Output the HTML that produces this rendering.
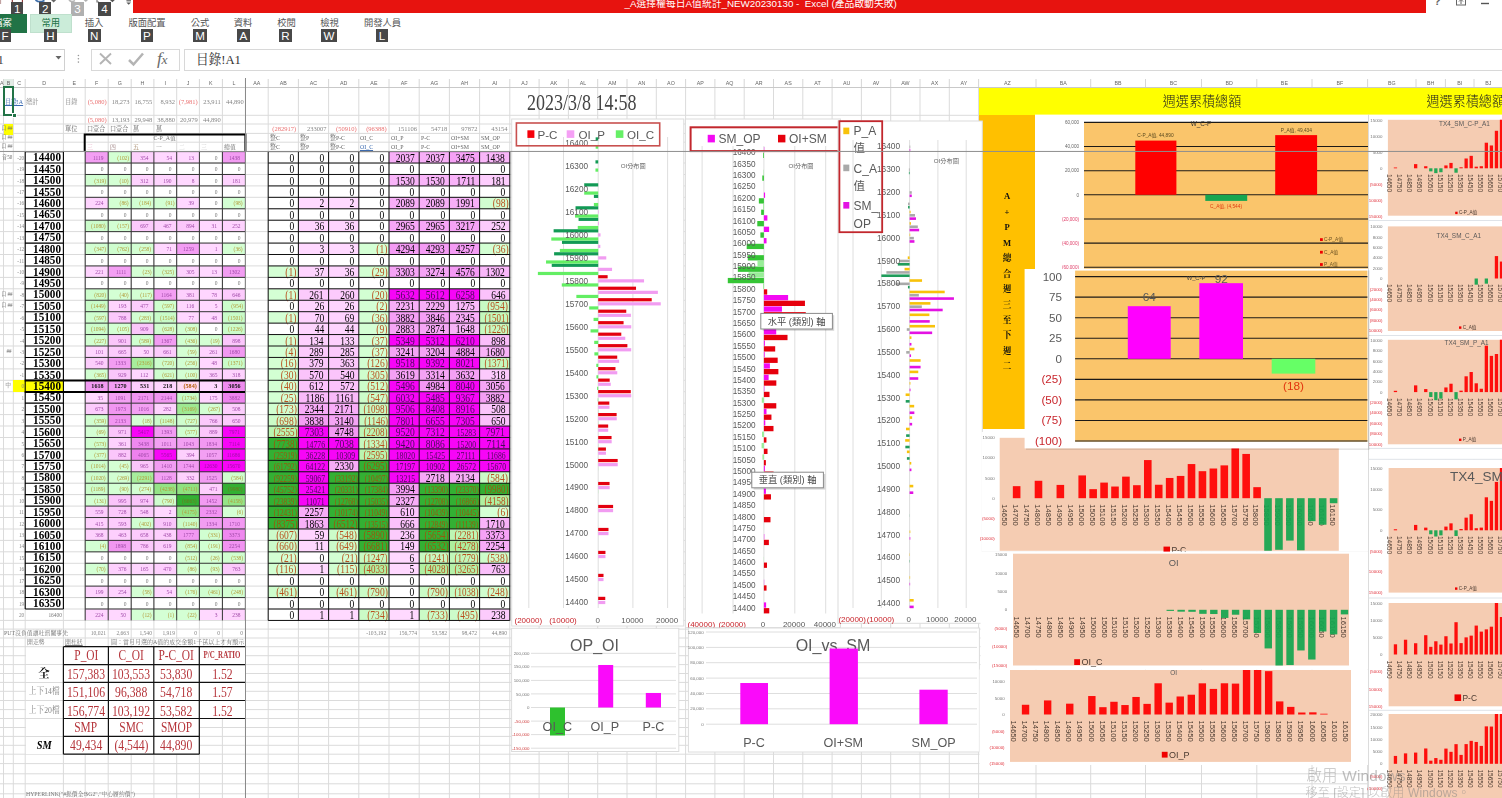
<!DOCTYPE html><html lang="zh-Hant"><head><meta charset="utf-8"><title>Excel</title><style>
html,body{margin:0;padding:0}
body{width:1502px;height:798px;overflow:hidden;position:relative;background:#fff;font-family:'Liberation Sans','Noto Sans CJK TC',sans-serif}
.abs{position:absolute}
.c{position:absolute;white-space:nowrap;box-sizing:border-box;overflow:visible}
.c span{display:inline-block}
.sf{font-family:'Liberation Serif','Noto Serif CJK SC','Noto Sans CJK TC',serif}
.ss{font-family:'Liberation Sans','Noto Sans CJK TC',sans-serif}
.ar{text-align:right}.ar span{transform-origin:right center;margin-left:-40px}
.al{text-align:left}.al span{transform-origin:left center}
.ac{text-align:center}.ac span{transform-origin:center center;margin:0 -40px}
.r{position:absolute}
svg text{font-family:'Liberation Sans','Noto Sans CJK TC',sans-serif}

.kt{position:absolute;color:#fff;text-align:center;font-family:'Liberation Sans','Noto Sans CJK TC',sans-serif;font-weight:normal;overflow:hidden}
.tab{position:absolute;top:16.5px;text-align:center;font:9.3px/13px 'Liberation Sans','Noto Sans CJK TC',sans-serif;white-space:nowrap}
</style></head><body>
<div id="sheet" class="abs" style="left:0;top:0;width:1502px;height:798px;overflow:hidden;will-change:transform">
<svg class="abs" style="left:0;top:0" width="1502" height="798" viewBox="0 0 1502 798">
<path d="M3.5 87.5V798 M13.3 87.5V798 M25.2 87.5V798 M63.4 87.5V798 M85.2 87.5V798 M108.2 87.5V798 M131.2 87.5V798 M153.9 87.5V798 M176.7 87.5V798 M199.4 87.5V798 M222.4 87.5V798 M245.4 87.5V798 M268.2 87.5V798 M298.4 87.5V798 M328.6 87.5V798 M358.8 87.5V798 M389.0 87.5V798 M419.2 87.5V798 M449.4 87.5V798 M479.6 87.5V798 M509.8 87.5V798 M539.1 87.5V798 M568.4 87.5V798 M597.7 87.5V798 M627.0 87.5V798 M656.3 87.5V798 M685.6 87.5V798 M714.9 87.5V798 M744.2 87.5V798 M773.5 87.5V798 M802.8 87.5V798 M832.1 87.5V798 M861.4 87.5V798 M890.7 87.5V798 M920.0 87.5V798 M949.3 87.5V798 M978.6 87.5V798 M1036 87.5V798 M1090.7 87.5V798 M1145.5 87.5V798 M1201.5 87.5V798 M1256.8 87.5V798 M1312 87.5V798 M1367.6 87.5V798 M1416 87.5V798 M1445.4 87.5V798 M1474 87.5V798 M1502.5 87.5V798 M0 87.5H1502 M0 115.3H1502 M0 124.0H1502 M0 133.4H1502 M0 142.2H1502 M0 151.6H1502 M0 163.0H1502 M0 174.5H1502 M0 185.9H1502 M0 197.3H1502 M0 208.8H1502 M0 220.2H1502 M0 231.6H1502 M0 243.1H1502 M0 254.5H1502 M0 265.9H1502 M0 277.4H1502 M0 288.8H1502 M0 300.3H1502 M0 311.7H1502 M0 323.1H1502 M0 334.6H1502 M0 346.0H1502 M0 357.4H1502 M0 368.9H1502 M0 380.3H1502 M0 391.7H1502 M0 403.2H1502 M0 414.6H1502 M0 426.0H1502 M0 437.5H1502 M0 448.9H1502 M0 460.3H1502 M0 471.8H1502 M0 483.2H1502 M0 494.6H1502 M0 506.1H1502 M0 517.5H1502 M0 529.0H1502 M0 540.4H1502 M0 551.8H1502 M0 563.3H1502 M0 574.7H1502 M0 586.1H1502 M0 597.6H1502 M0 609.0H1502 M0 620.4H1502 M0 629.1H1502 M0 638.0H1502 M0 646.7H1502 M0 655.7H1502 M0 664.6H1502 M0 673.5H1502 M0 682.4H1502 M0 691.3H1502 M0 700.5H1502 M0 709.6H1502 M0 718.5H1502 M0 727.5H1502 M0 736.4H1502 M0 745.3H1502 M0 754.2H1502 M0 763.6H1502 M0 773.8H1502 M0 783.8H1502 M0 793.8H1502 M0 804H1502" stroke="#dbdbdb" stroke-width="1" fill="none"/>
<path d="M3.5 79V87.5 M13.3 79V87.5 M25.2 79V87.5 M63.4 79V87.5 M85.2 79V87.5 M108.2 79V87.5 M131.2 79V87.5 M153.9 79V87.5 M176.7 79V87.5 M199.4 79V87.5 M222.4 79V87.5 M245.4 79V87.5 M268.2 79V87.5 M298.4 79V87.5 M328.6 79V87.5 M358.8 79V87.5 M389.0 79V87.5 M419.2 79V87.5 M449.4 79V87.5 M479.6 79V87.5 M509.8 79V87.5 M539.1 79V87.5 M568.4 79V87.5 M597.7 79V87.5 M627.0 79V87.5 M656.3 79V87.5 M685.6 79V87.5 M714.9 79V87.5 M744.2 79V87.5 M773.5 79V87.5 M802.8 79V87.5 M832.1 79V87.5 M861.4 79V87.5 M890.7 79V87.5 M920.0 79V87.5 M949.3 79V87.5 M978.6 79V87.5 M1036 79V87.5 M1090.7 79V87.5 M1145.5 79V87.5 M1201.5 79V87.5 M1256.8 79V87.5 M1312 79V87.5 M1367.6 79V87.5 M1416 79V87.5 M1445.4 79V87.5 M1474 79V87.5 M1502.5 79V87.5" stroke="#d6d6d6" stroke-width="1" fill="none"/>
<path d="M0 87.5H1502" stroke="#c9c9c9" stroke-width="1"/>
</svg>
<div class="c" style="left:0.0px;top:78.5px;width:3.5px;height:9px;line-height:9px;text-align:center;font-size:5.3px;color:#666;font-family:'Liberation Sans','Noto Sans CJK TC',sans-serif">A</div>
<div class="r" style="left:3.5px;top:78.5px;width:9.8px;height:8.5px;background:#e3ece6;border-bottom:1.5px solid #217346;box-sizing:border-box"></div>
<div class="c" style="left:3.5px;top:78.5px;width:9.8px;height:9px;line-height:9px;text-align:center;font-size:5.3px;color:#666;font-family:'Liberation Sans','Noto Sans CJK TC',sans-serif">B</div>
<div class="c" style="left:13.3px;top:78.5px;width:11.9px;height:9px;line-height:9px;text-align:center;font-size:5.3px;color:#666;font-family:'Liberation Sans','Noto Sans CJK TC',sans-serif">C</div>
<div class="c" style="left:25.2px;top:78.5px;width:38.2px;height:9px;line-height:9px;text-align:center;font-size:5.3px;color:#666;font-family:'Liberation Sans','Noto Sans CJK TC',sans-serif">D</div>
<div class="c" style="left:63.4px;top:78.5px;width:21.8px;height:9px;line-height:9px;text-align:center;font-size:5.3px;color:#666;font-family:'Liberation Sans','Noto Sans CJK TC',sans-serif">E</div>
<div class="c" style="left:85.2px;top:78.5px;width:23.0px;height:9px;line-height:9px;text-align:center;font-size:5.3px;color:#666;font-family:'Liberation Sans','Noto Sans CJK TC',sans-serif">F</div>
<div class="c" style="left:108.2px;top:78.5px;width:23.0px;height:9px;line-height:9px;text-align:center;font-size:5.3px;color:#666;font-family:'Liberation Sans','Noto Sans CJK TC',sans-serif">G</div>
<div class="c" style="left:131.2px;top:78.5px;width:22.7px;height:9px;line-height:9px;text-align:center;font-size:5.3px;color:#666;font-family:'Liberation Sans','Noto Sans CJK TC',sans-serif">H</div>
<div class="c" style="left:153.9px;top:78.5px;width:22.8px;height:9px;line-height:9px;text-align:center;font-size:5.3px;color:#666;font-family:'Liberation Sans','Noto Sans CJK TC',sans-serif">I</div>
<div class="c" style="left:176.7px;top:78.5px;width:22.7px;height:9px;line-height:9px;text-align:center;font-size:5.3px;color:#666;font-family:'Liberation Sans','Noto Sans CJK TC',sans-serif">J</div>
<div class="c" style="left:199.4px;top:78.5px;width:23.0px;height:9px;line-height:9px;text-align:center;font-size:5.3px;color:#666;font-family:'Liberation Sans','Noto Sans CJK TC',sans-serif">K</div>
<div class="c" style="left:222.4px;top:78.5px;width:23.0px;height:9px;line-height:9px;text-align:center;font-size:5.3px;color:#666;font-family:'Liberation Sans','Noto Sans CJK TC',sans-serif">L</div>
<div class="c" style="left:245.4px;top:78.5px;width:22.8px;height:9px;line-height:9px;text-align:center;font-size:5.3px;color:#666;font-family:'Liberation Sans','Noto Sans CJK TC',sans-serif">AA</div>
<div class="c" style="left:268.2px;top:78.5px;width:30.2px;height:9px;line-height:9px;text-align:center;font-size:5.3px;color:#666;font-family:'Liberation Sans','Noto Sans CJK TC',sans-serif">AB</div>
<div class="c" style="left:298.4px;top:78.5px;width:30.2px;height:9px;line-height:9px;text-align:center;font-size:5.3px;color:#666;font-family:'Liberation Sans','Noto Sans CJK TC',sans-serif">AC</div>
<div class="c" style="left:328.6px;top:78.5px;width:30.2px;height:9px;line-height:9px;text-align:center;font-size:5.3px;color:#666;font-family:'Liberation Sans','Noto Sans CJK TC',sans-serif">AD</div>
<div class="c" style="left:358.8px;top:78.5px;width:30.2px;height:9px;line-height:9px;text-align:center;font-size:5.3px;color:#666;font-family:'Liberation Sans','Noto Sans CJK TC',sans-serif">AE</div>
<div class="c" style="left:389.0px;top:78.5px;width:30.2px;height:9px;line-height:9px;text-align:center;font-size:5.3px;color:#666;font-family:'Liberation Sans','Noto Sans CJK TC',sans-serif">AF</div>
<div class="c" style="left:419.2px;top:78.5px;width:30.2px;height:9px;line-height:9px;text-align:center;font-size:5.3px;color:#666;font-family:'Liberation Sans','Noto Sans CJK TC',sans-serif">AG</div>
<div class="c" style="left:449.4px;top:78.5px;width:30.2px;height:9px;line-height:9px;text-align:center;font-size:5.3px;color:#666;font-family:'Liberation Sans','Noto Sans CJK TC',sans-serif">AH</div>
<div class="c" style="left:479.6px;top:78.5px;width:30.2px;height:9px;line-height:9px;text-align:center;font-size:5.3px;color:#666;font-family:'Liberation Sans','Noto Sans CJK TC',sans-serif">AI</div>
<div class="c" style="left:509.8px;top:78.5px;width:29.3px;height:9px;line-height:9px;text-align:center;font-size:5.3px;color:#666;font-family:'Liberation Sans','Noto Sans CJK TC',sans-serif">AJ</div>
<div class="c" style="left:539.1px;top:78.5px;width:29.3px;height:9px;line-height:9px;text-align:center;font-size:5.3px;color:#666;font-family:'Liberation Sans','Noto Sans CJK TC',sans-serif">AK</div>
<div class="c" style="left:568.4px;top:78.5px;width:29.3px;height:9px;line-height:9px;text-align:center;font-size:5.3px;color:#666;font-family:'Liberation Sans','Noto Sans CJK TC',sans-serif">AL</div>
<div class="c" style="left:597.7px;top:78.5px;width:29.3px;height:9px;line-height:9px;text-align:center;font-size:5.3px;color:#666;font-family:'Liberation Sans','Noto Sans CJK TC',sans-serif">AM</div>
<div class="c" style="left:627.0px;top:78.5px;width:29.3px;height:9px;line-height:9px;text-align:center;font-size:5.3px;color:#666;font-family:'Liberation Sans','Noto Sans CJK TC',sans-serif">AN</div>
<div class="c" style="left:656.3px;top:78.5px;width:29.3px;height:9px;line-height:9px;text-align:center;font-size:5.3px;color:#666;font-family:'Liberation Sans','Noto Sans CJK TC',sans-serif">AO</div>
<div class="c" style="left:685.6px;top:78.5px;width:29.3px;height:9px;line-height:9px;text-align:center;font-size:5.3px;color:#666;font-family:'Liberation Sans','Noto Sans CJK TC',sans-serif">AP</div>
<div class="c" style="left:714.9px;top:78.5px;width:29.3px;height:9px;line-height:9px;text-align:center;font-size:5.3px;color:#666;font-family:'Liberation Sans','Noto Sans CJK TC',sans-serif">AQ</div>
<div class="c" style="left:744.2px;top:78.5px;width:29.3px;height:9px;line-height:9px;text-align:center;font-size:5.3px;color:#666;font-family:'Liberation Sans','Noto Sans CJK TC',sans-serif">AR</div>
<div class="c" style="left:773.5px;top:78.5px;width:29.3px;height:9px;line-height:9px;text-align:center;font-size:5.3px;color:#666;font-family:'Liberation Sans','Noto Sans CJK TC',sans-serif">AS</div>
<div class="c" style="left:802.8px;top:78.5px;width:29.3px;height:9px;line-height:9px;text-align:center;font-size:5.3px;color:#666;font-family:'Liberation Sans','Noto Sans CJK TC',sans-serif">AT</div>
<div class="c" style="left:832.1px;top:78.5px;width:29.3px;height:9px;line-height:9px;text-align:center;font-size:5.3px;color:#666;font-family:'Liberation Sans','Noto Sans CJK TC',sans-serif">AU</div>
<div class="c" style="left:861.4px;top:78.5px;width:29.3px;height:9px;line-height:9px;text-align:center;font-size:5.3px;color:#666;font-family:'Liberation Sans','Noto Sans CJK TC',sans-serif">AV</div>
<div class="c" style="left:890.7px;top:78.5px;width:29.3px;height:9px;line-height:9px;text-align:center;font-size:5.3px;color:#666;font-family:'Liberation Sans','Noto Sans CJK TC',sans-serif">AW</div>
<div class="c" style="left:920.0px;top:78.5px;width:29.3px;height:9px;line-height:9px;text-align:center;font-size:5.3px;color:#666;font-family:'Liberation Sans','Noto Sans CJK TC',sans-serif">AX</div>
<div class="c" style="left:949.3px;top:78.5px;width:29.3px;height:9px;line-height:9px;text-align:center;font-size:5.3px;color:#666;font-family:'Liberation Sans','Noto Sans CJK TC',sans-serif">AY</div>
<div class="c" style="left:978.6px;top:78.5px;width:57.4px;height:9px;line-height:9px;text-align:center;font-size:5.3px;color:#666;font-family:'Liberation Sans','Noto Sans CJK TC',sans-serif">AZ</div>
<div class="c" style="left:1036.0px;top:78.5px;width:54.7px;height:9px;line-height:9px;text-align:center;font-size:5.3px;color:#666;font-family:'Liberation Sans','Noto Sans CJK TC',sans-serif">BA</div>
<div class="c" style="left:1090.7px;top:78.5px;width:54.8px;height:9px;line-height:9px;text-align:center;font-size:5.3px;color:#666;font-family:'Liberation Sans','Noto Sans CJK TC',sans-serif">BB</div>
<div class="c" style="left:1145.5px;top:78.5px;width:56.0px;height:9px;line-height:9px;text-align:center;font-size:5.3px;color:#666;font-family:'Liberation Sans','Noto Sans CJK TC',sans-serif">BC</div>
<div class="c" style="left:1201.5px;top:78.5px;width:55.3px;height:9px;line-height:9px;text-align:center;font-size:5.3px;color:#666;font-family:'Liberation Sans','Noto Sans CJK TC',sans-serif">BD</div>
<div class="c" style="left:1256.8px;top:78.5px;width:55.2px;height:9px;line-height:9px;text-align:center;font-size:5.3px;color:#666;font-family:'Liberation Sans','Noto Sans CJK TC',sans-serif">BE</div>
<div class="c" style="left:1312.0px;top:78.5px;width:55.6px;height:9px;line-height:9px;text-align:center;font-size:5.3px;color:#666;font-family:'Liberation Sans','Noto Sans CJK TC',sans-serif">BF</div>
<div class="c" style="left:1367.6px;top:78.5px;width:48.4px;height:9px;line-height:9px;text-align:center;font-size:5.3px;color:#666;font-family:'Liberation Sans','Noto Sans CJK TC',sans-serif">BG</div>
<div class="c" style="left:1416.0px;top:78.5px;width:29.4px;height:9px;line-height:9px;text-align:center;font-size:5.3px;color:#666;font-family:'Liberation Sans','Noto Sans CJK TC',sans-serif">BH</div>
<div class="c" style="left:1445.4px;top:78.5px;width:28.6px;height:9px;line-height:9px;text-align:center;font-size:5.3px;color:#666;font-family:'Liberation Sans','Noto Sans CJK TC',sans-serif">BI</div>
<div class="c" style="left:1474.0px;top:78.5px;width:28.5px;height:9px;line-height:9px;text-align:center;font-size:5.3px;color:#666;font-family:'Liberation Sans','Noto Sans CJK TC',sans-serif">BJ</div>
<div class="r" style="left:978.60px;top:87.80px;width:524.00px;height:26.80px;background:#ffff00;"></div>
<div class="c" style="left:1140px;top:88px;width:124px;height:27px;line-height:27px;text-align:center;font-size:13.1px;color:#222;font-weight:300;font-family:'Liberation Sans','Noto Sans CJK TC',sans-serif">週選累積總額</div>
<div class="c" style="left:1426.5px;top:88px;width:100px;height:27px;line-height:27px;text-align:left;font-size:13.1px;color:#222;font-weight:300;font-family:'Liberation Sans','Noto Sans CJK TC',sans-serif">週選累積總額</div>
<div class="r" style="left:979.40px;top:114.60px;width:55.60px;height:314.00px;background:#ffc000;"></div>
<div class="c" style="left:997px;top:189.4px;width:20px;height:14px;line-height:14px;text-align:center;font-size:8.6px;font-weight:bold;color:#111;font-family:'Liberation Serif','Noto Serif CJK SC','Noto Sans CJK TC',serif">A</div>
<div class="c" style="left:997px;top:204.8px;width:20px;height:14px;line-height:14px;text-align:center;font-size:8.6px;font-weight:bold;color:#111;font-family:'Liberation Serif','Noto Serif CJK SC','Noto Sans CJK TC',serif">+</div>
<div class="c" style="left:997px;top:220.3px;width:20px;height:14px;line-height:14px;text-align:center;font-size:8.6px;font-weight:bold;color:#111;font-family:'Liberation Serif','Noto Serif CJK SC','Noto Sans CJK TC',serif">P</div>
<div class="c" style="left:997px;top:235.8px;width:20px;height:14px;line-height:14px;text-align:center;font-size:8.6px;font-weight:bold;color:#111;font-family:'Liberation Serif','Noto Serif CJK SC','Noto Sans CJK TC',serif">M</div>
<div class="c" style="left:997px;top:251.2px;width:20px;height:14px;line-height:14px;text-align:center;font-size:8.6px;font-weight:bold;color:#111;font-family:'Liberation Serif','Noto Serif CJK SC','Noto Sans CJK TC',serif">總</div>
<div class="c" style="left:997px;top:266.6px;width:20px;height:14px;line-height:14px;text-align:center;font-size:8.6px;font-weight:bold;color:#111;font-family:'Liberation Serif','Noto Serif CJK SC','Noto Sans CJK TC',serif">合</div>
<div class="c" style="left:997px;top:282.1px;width:20px;height:14px;line-height:14px;text-align:center;font-size:8.6px;font-weight:bold;color:#111;font-family:'Liberation Serif','Noto Serif CJK SC','Noto Sans CJK TC',serif">週</div>
<div class="c" style="left:997px;top:297.6px;width:20px;height:14px;line-height:14px;text-align:center;font-size:8.6px;font-weight:bold;color:#111;font-family:'Liberation Serif','Noto Serif CJK SC','Noto Sans CJK TC',serif">三</div>
<div class="c" style="left:997px;top:313.0px;width:20px;height:14px;line-height:14px;text-align:center;font-size:8.6px;font-weight:bold;color:#111;font-family:'Liberation Serif','Noto Serif CJK SC','Noto Sans CJK TC',serif">至</div>
<div class="c" style="left:997px;top:328.4px;width:20px;height:14px;line-height:14px;text-align:center;font-size:8.6px;font-weight:bold;color:#111;font-family:'Liberation Serif','Noto Serif CJK SC','Noto Sans CJK TC',serif">下</div>
<div class="c" style="left:997px;top:343.9px;width:20px;height:14px;line-height:14px;text-align:center;font-size:8.6px;font-weight:bold;color:#111;font-family:'Liberation Serif','Noto Serif CJK SC','Noto Sans CJK TC',serif">週</div>
<div class="c" style="left:997px;top:359.4px;width:20px;height:14px;line-height:14px;text-align:center;font-size:8.6px;font-weight:bold;color:#111;font-family:'Liberation Serif','Noto Serif CJK SC','Noto Sans CJK TC',serif">二</div>
<div class="r" style="left:85.20px;top:151.60px;width:23.00px;height:11.44px;background:#f39ff3;"></div>
<div class="c sf ar" style="left:85.2px;top:151.6px;width:23.0px;height:11.4px;line-height:12.7px;font-size:7px;color:#a04aa8;padding-right:5.2px;"><span style="transform:scaleX(0.78)">1119</span></div>
<div class="r" style="left:108.20px;top:151.60px;width:23.00px;height:11.44px;background:#d3ffd3;"></div>
<div class="c sf ar" style="left:108.2px;top:151.6px;width:23.0px;height:11.4px;line-height:12.7px;font-size:7px;color:#b39a3a;padding-right:2.3px;"><span style="transform:scaleX(0.78)">(102)</span></div>
<div class="r" style="left:131.20px;top:151.60px;width:22.70px;height:11.44px;background:#fdd1fd;"></div>
<div class="c sf ar" style="left:131.2px;top:151.6px;width:22.7px;height:11.4px;line-height:12.7px;font-size:7px;color:#a04aa8;padding-right:5.2px;"><span style="transform:scaleX(0.78)">354</span></div>
<div class="r" style="left:153.90px;top:151.60px;width:22.80px;height:11.44px;background:#ffd7ff;"></div>
<div class="c sf ar" style="left:153.9px;top:151.6px;width:22.8px;height:11.4px;line-height:12.7px;font-size:7px;color:#a04aa8;padding-right:5.2px;"><span style="transform:scaleX(0.78)">54</span></div>
<div class="r" style="left:176.70px;top:151.60px;width:22.70px;height:11.44px;background:#ffd8ff;"></div>
<div class="c sf ar" style="left:176.7px;top:151.6px;width:22.7px;height:11.4px;line-height:12.7px;font-size:7px;color:#a04aa8;padding-right:5.2px;"><span style="transform:scaleX(0.78)">13</span></div>
<div class="c sf ar" style="left:199.4px;top:151.6px;width:23.0px;height:11.4px;line-height:12.7px;font-size:7px;color:#777;padding-right:5.2px;"><span style="transform:scaleX(0.78)">0</span></div>
<div class="r" style="left:222.40px;top:151.60px;width:23.00px;height:11.44px;background:#f29cf2;"></div>
<div class="c sf ar" style="left:222.4px;top:151.6px;width:23.0px;height:11.4px;line-height:12.7px;font-size:7px;color:#a04aa8;padding-right:5.2px;"><span style="transform:scaleX(0.78)">1438</span></div>
<div class="c sf ar" style="left:25.2px;top:151.2px;width:38.2px;height:11.4px;line-height:12.6px;font-size:12.4px;color:#000;font-weight:bold;padding-right:2.0px;"><span style="transform:scaleX(0.9)">14400</span></div>
<div class="c sf ar" style="left:13.3px;top:151.6px;width:11.9px;height:11.4px;line-height:11.4px;font-size:6.2px;color:#888;padding-right:1px;"><span style="transform:scaleX(0.85)">-20</span></div>
<div class="c sf ar" style="left:85.2px;top:163.0px;width:23.0px;height:11.4px;line-height:12.7px;font-size:7px;color:#777;padding-right:5.2px;"><span style="transform:scaleX(0.78)">0</span></div>
<div class="c sf ar" style="left:108.2px;top:163.0px;width:23.0px;height:11.4px;line-height:12.7px;font-size:7px;color:#777;padding-right:5.2px;"><span style="transform:scaleX(0.78)">0</span></div>
<div class="c sf ar" style="left:131.2px;top:163.0px;width:22.7px;height:11.4px;line-height:12.7px;font-size:7px;color:#777;padding-right:5.2px;"><span style="transform:scaleX(0.78)">0</span></div>
<div class="c sf ar" style="left:153.9px;top:163.0px;width:22.8px;height:11.4px;line-height:12.7px;font-size:7px;color:#777;padding-right:5.2px;"><span style="transform:scaleX(0.78)">0</span></div>
<div class="c sf ar" style="left:176.7px;top:163.0px;width:22.7px;height:11.4px;line-height:12.7px;font-size:7px;color:#777;padding-right:5.2px;"><span style="transform:scaleX(0.78)">0</span></div>
<div class="c sf ar" style="left:199.4px;top:163.0px;width:23.0px;height:11.4px;line-height:12.7px;font-size:7px;color:#777;padding-right:5.2px;"><span style="transform:scaleX(0.78)">0</span></div>
<div class="c sf ar" style="left:222.4px;top:163.0px;width:23.0px;height:11.4px;line-height:12.7px;font-size:7px;color:#777;padding-right:5.2px;"><span style="transform:scaleX(0.78)">0</span></div>
<div class="c sf ar" style="left:25.2px;top:162.6px;width:38.2px;height:11.4px;line-height:12.6px;font-size:12.4px;color:#000;font-weight:bold;padding-right:2.0px;"><span style="transform:scaleX(0.9)">14450</span></div>
<div class="c sf ar" style="left:13.3px;top:163.0px;width:11.9px;height:11.4px;line-height:11.4px;font-size:6.2px;color:#888;padding-right:1px;"><span style="transform:scaleX(0.85)">-19</span></div>
<div class="r" style="left:85.20px;top:174.47px;width:23.00px;height:11.44px;background:#d1fed1;"></div>
<div class="c sf ar" style="left:85.2px;top:174.5px;width:23.0px;height:11.4px;line-height:12.7px;font-size:7px;color:#b39a3a;padding-right:2.3px;"><span style="transform:scaleX(0.78)">(319)</span></div>
<div class="r" style="left:108.20px;top:174.47px;width:23.00px;height:11.44px;background:#d4ffd4;"></div>
<div class="c sf ar" style="left:108.2px;top:174.5px;width:23.0px;height:11.4px;line-height:12.7px;font-size:7px;color:#b39a3a;padding-right:2.3px;"><span style="transform:scaleX(0.78)">(10)</span></div>
<div class="r" style="left:131.20px;top:174.47px;width:22.70px;height:11.44px;background:#fdd2fd;"></div>
<div class="c sf ar" style="left:131.2px;top:174.5px;width:22.7px;height:11.4px;line-height:12.7px;font-size:7px;color:#a04aa8;padding-right:5.2px;"><span style="transform:scaleX(0.78)">312</span></div>
<div class="r" style="left:153.90px;top:174.47px;width:22.80px;height:11.44px;background:#fed4fe;"></div>
<div class="c sf ar" style="left:153.9px;top:174.5px;width:22.8px;height:11.4px;line-height:12.7px;font-size:7px;color:#a04aa8;padding-right:5.2px;"><span style="transform:scaleX(0.78)">190</span></div>
<div class="r" style="left:176.70px;top:174.47px;width:22.70px;height:11.44px;background:#ffd8ff;"></div>
<div class="c sf ar" style="left:176.7px;top:174.5px;width:22.7px;height:11.4px;line-height:12.7px;font-size:7px;color:#a04aa8;padding-right:5.2px;"><span style="transform:scaleX(0.78)">8</span></div>
<div class="c sf ar" style="left:199.4px;top:174.5px;width:23.0px;height:11.4px;line-height:12.7px;font-size:7px;color:#777;padding-right:5.2px;"><span style="transform:scaleX(0.78)">0</span></div>
<div class="r" style="left:222.40px;top:174.47px;width:23.00px;height:11.44px;background:#fed4fe;"></div>
<div class="c sf ar" style="left:222.4px;top:174.5px;width:23.0px;height:11.4px;line-height:12.7px;font-size:7px;color:#a04aa8;padding-right:5.2px;"><span style="transform:scaleX(0.78)">181</span></div>
<div class="c sf ar" style="left:25.2px;top:174.1px;width:38.2px;height:11.4px;line-height:12.6px;font-size:12.4px;color:#000;font-weight:bold;padding-right:2.0px;"><span style="transform:scaleX(0.9)">14500</span></div>
<div class="c sf ar" style="left:13.3px;top:174.5px;width:11.9px;height:11.4px;line-height:11.4px;font-size:6.2px;color:#888;padding-right:1px;"><span style="transform:scaleX(0.85)">-18</span></div>
<div class="c sf ar" style="left:85.2px;top:185.9px;width:23.0px;height:11.4px;line-height:12.7px;font-size:7px;color:#777;padding-right:5.2px;"><span style="transform:scaleX(0.78)">0</span></div>
<div class="c sf ar" style="left:108.2px;top:185.9px;width:23.0px;height:11.4px;line-height:12.7px;font-size:7px;color:#777;padding-right:5.2px;"><span style="transform:scaleX(0.78)">0</span></div>
<div class="c sf ar" style="left:131.2px;top:185.9px;width:22.7px;height:11.4px;line-height:12.7px;font-size:7px;color:#777;padding-right:5.2px;"><span style="transform:scaleX(0.78)">0</span></div>
<div class="c sf ar" style="left:153.9px;top:185.9px;width:22.8px;height:11.4px;line-height:12.7px;font-size:7px;color:#777;padding-right:5.2px;"><span style="transform:scaleX(0.78)">0</span></div>
<div class="c sf ar" style="left:176.7px;top:185.9px;width:22.7px;height:11.4px;line-height:12.7px;font-size:7px;color:#777;padding-right:5.2px;"><span style="transform:scaleX(0.78)">0</span></div>
<div class="c sf ar" style="left:199.4px;top:185.9px;width:23.0px;height:11.4px;line-height:12.7px;font-size:7px;color:#777;padding-right:5.2px;"><span style="transform:scaleX(0.78)">0</span></div>
<div class="c sf ar" style="left:222.4px;top:185.9px;width:23.0px;height:11.4px;line-height:12.7px;font-size:7px;color:#777;padding-right:5.2px;"><span style="transform:scaleX(0.78)">0</span></div>
<div class="c sf ar" style="left:25.2px;top:185.5px;width:38.2px;height:11.4px;line-height:12.6px;font-size:12.4px;color:#000;font-weight:bold;padding-right:2.0px;"><span style="transform:scaleX(0.9)">14550</span></div>
<div class="c sf ar" style="left:13.3px;top:185.9px;width:11.9px;height:11.4px;line-height:11.4px;font-size:6.2px;color:#888;padding-right:1px;"><span style="transform:scaleX(0.85)">-17</span></div>
<div class="r" style="left:85.20px;top:197.34px;width:23.00px;height:11.44px;background:#fed4fe;"></div>
<div class="c sf ar" style="left:85.2px;top:197.3px;width:23.0px;height:11.4px;line-height:12.7px;font-size:7px;color:#a04aa8;padding-right:5.2px;"><span style="transform:scaleX(0.78)">224</span></div>
<div class="r" style="left:108.20px;top:197.34px;width:23.00px;height:11.44px;background:#d3ffd3;"></div>
<div class="c sf ar" style="left:108.2px;top:197.3px;width:23.0px;height:11.4px;line-height:12.7px;font-size:7px;color:#b39a3a;padding-right:2.3px;"><span style="transform:scaleX(0.78)">(86)</span></div>
<div class="r" style="left:131.20px;top:197.34px;width:22.70px;height:11.44px;background:#d3ffd3;"></div>
<div class="c sf ar" style="left:131.2px;top:197.3px;width:22.7px;height:11.4px;line-height:12.7px;font-size:7px;color:#b39a3a;padding-right:2.3px;"><span style="transform:scaleX(0.78)">(184)</span></div>
<div class="r" style="left:153.90px;top:197.34px;width:22.80px;height:11.44px;background:#d3ffd3;"></div>
<div class="c sf ar" style="left:153.9px;top:197.3px;width:22.8px;height:11.4px;line-height:12.7px;font-size:7px;color:#b39a3a;padding-right:2.3px;"><span style="transform:scaleX(0.78)">(91)</span></div>
<div class="r" style="left:176.70px;top:197.34px;width:22.70px;height:11.44px;background:#ffd7ff;"></div>
<div class="c sf ar" style="left:176.7px;top:197.3px;width:22.7px;height:11.4px;line-height:12.7px;font-size:7px;color:#a04aa8;padding-right:5.2px;"><span style="transform:scaleX(0.78)">39</span></div>
<div class="c sf ar" style="left:199.4px;top:197.3px;width:23.0px;height:11.4px;line-height:12.7px;font-size:7px;color:#777;padding-right:5.2px;"><span style="transform:scaleX(0.78)">0</span></div>
<div class="r" style="left:222.40px;top:197.34px;width:23.00px;height:11.44px;background:#d3ffd3;"></div>
<div class="c sf ar" style="left:222.4px;top:197.3px;width:23.0px;height:11.4px;line-height:12.7px;font-size:7px;color:#b39a3a;padding-right:2.3px;"><span style="transform:scaleX(0.78)">(98)</span></div>
<div class="c sf ar" style="left:25.2px;top:196.9px;width:38.2px;height:11.4px;line-height:12.6px;font-size:12.4px;color:#000;font-weight:bold;padding-right:2.0px;"><span style="transform:scaleX(0.9)">14600</span></div>
<div class="c sf ar" style="left:13.3px;top:197.3px;width:11.9px;height:11.4px;line-height:11.4px;font-size:6.2px;color:#888;padding-right:1px;"><span style="transform:scaleX(0.85)">-16</span></div>
<div class="c sf ar" style="left:85.2px;top:208.8px;width:23.0px;height:11.4px;line-height:12.7px;font-size:7px;color:#777;padding-right:5.2px;"><span style="transform:scaleX(0.78)">0</span></div>
<div class="c sf ar" style="left:108.2px;top:208.8px;width:23.0px;height:11.4px;line-height:12.7px;font-size:7px;color:#777;padding-right:5.2px;"><span style="transform:scaleX(0.78)">0</span></div>
<div class="c sf ar" style="left:131.2px;top:208.8px;width:22.7px;height:11.4px;line-height:12.7px;font-size:7px;color:#777;padding-right:5.2px;"><span style="transform:scaleX(0.78)">0</span></div>
<div class="c sf ar" style="left:153.9px;top:208.8px;width:22.8px;height:11.4px;line-height:12.7px;font-size:7px;color:#777;padding-right:5.2px;"><span style="transform:scaleX(0.78)">0</span></div>
<div class="c sf ar" style="left:176.7px;top:208.8px;width:22.7px;height:11.4px;line-height:12.7px;font-size:7px;color:#777;padding-right:5.2px;"><span style="transform:scaleX(0.78)">0</span></div>
<div class="c sf ar" style="left:199.4px;top:208.8px;width:23.0px;height:11.4px;line-height:12.7px;font-size:7px;color:#777;padding-right:5.2px;"><span style="transform:scaleX(0.78)">0</span></div>
<div class="c sf ar" style="left:222.4px;top:208.8px;width:23.0px;height:11.4px;line-height:12.7px;font-size:7px;color:#777;padding-right:5.2px;"><span style="transform:scaleX(0.78)">0</span></div>
<div class="c sf ar" style="left:25.2px;top:208.4px;width:38.2px;height:11.4px;line-height:12.6px;font-size:12.4px;color:#000;font-weight:bold;padding-right:2.0px;"><span style="transform:scaleX(0.9)">14650</span></div>
<div class="c sf ar" style="left:13.3px;top:208.8px;width:11.9px;height:11.4px;line-height:11.4px;font-size:6.2px;color:#888;padding-right:1px;"><span style="transform:scaleX(0.85)">-15</span></div>
<div class="r" style="left:85.20px;top:220.21px;width:23.00px;height:11.44px;background:#cbfccb;"></div>
<div class="c sf ar" style="left:85.2px;top:220.2px;width:23.0px;height:11.4px;line-height:12.7px;font-size:7px;color:#b39a3a;padding-right:2.3px;"><span style="transform:scaleX(0.78)">(1080)</span></div>
<div class="r" style="left:108.20px;top:220.21px;width:23.00px;height:11.44px;background:#d3ffd3;"></div>
<div class="c sf ar" style="left:108.2px;top:220.2px;width:23.0px;height:11.4px;line-height:12.7px;font-size:7px;color:#b39a3a;padding-right:2.3px;"><span style="transform:scaleX(0.78)">(157)</span></div>
<div class="r" style="left:131.20px;top:220.21px;width:22.70px;height:11.44px;background:#fccafc;"></div>
<div class="c sf ar" style="left:131.2px;top:220.2px;width:22.7px;height:11.4px;line-height:12.7px;font-size:7px;color:#a04aa8;padding-right:5.2px;"><span style="transform:scaleX(0.78)">697</span></div>
<div class="r" style="left:153.90px;top:220.21px;width:22.80px;height:11.44px;background:#fdcffd;"></div>
<div class="c sf ar" style="left:153.9px;top:220.2px;width:22.8px;height:11.4px;line-height:12.7px;font-size:7px;color:#a04aa8;padding-right:5.2px;"><span style="transform:scaleX(0.78)">467</span></div>
<div class="r" style="left:176.70px;top:220.21px;width:22.70px;height:11.44px;background:#fbc6fb;"></div>
<div class="c sf ar" style="left:176.7px;top:220.2px;width:22.7px;height:11.4px;line-height:12.7px;font-size:7px;color:#a04aa8;padding-right:5.2px;"><span style="transform:scaleX(0.78)">894</span></div>
<div class="r" style="left:199.40px;top:220.21px;width:23.00px;height:11.44px;background:#ffd7ff;"></div>
<div class="c sf ar" style="left:199.4px;top:220.2px;width:23.0px;height:11.4px;line-height:12.7px;font-size:7px;color:#a04aa8;padding-right:5.2px;"><span style="transform:scaleX(0.78)">31</span></div>
<div class="r" style="left:222.40px;top:220.21px;width:23.00px;height:11.44px;background:#fed3fe;"></div>
<div class="c sf ar" style="left:222.4px;top:220.2px;width:23.0px;height:11.4px;line-height:12.7px;font-size:7px;color:#a04aa8;padding-right:5.2px;"><span style="transform:scaleX(0.78)">252</span></div>
<div class="c sf ar" style="left:25.2px;top:219.8px;width:38.2px;height:11.4px;line-height:12.6px;font-size:12.4px;color:#000;font-weight:bold;padding-right:2.0px;"><span style="transform:scaleX(0.9)">14700</span></div>
<div class="c sf ar" style="left:13.3px;top:220.2px;width:11.9px;height:11.4px;line-height:11.4px;font-size:6.2px;color:#888;padding-right:1px;"><span style="transform:scaleX(0.85)">-14</span></div>
<div class="c sf ar" style="left:85.2px;top:231.6px;width:23.0px;height:11.4px;line-height:12.7px;font-size:7px;color:#777;padding-right:5.2px;"><span style="transform:scaleX(0.78)">0</span></div>
<div class="c sf ar" style="left:108.2px;top:231.6px;width:23.0px;height:11.4px;line-height:12.7px;font-size:7px;color:#777;padding-right:5.2px;"><span style="transform:scaleX(0.78)">0</span></div>
<div class="c sf ar" style="left:131.2px;top:231.6px;width:22.7px;height:11.4px;line-height:12.7px;font-size:7px;color:#777;padding-right:5.2px;"><span style="transform:scaleX(0.78)">0</span></div>
<div class="c sf ar" style="left:153.9px;top:231.6px;width:22.8px;height:11.4px;line-height:12.7px;font-size:7px;color:#777;padding-right:5.2px;"><span style="transform:scaleX(0.78)">0</span></div>
<div class="c sf ar" style="left:176.7px;top:231.6px;width:22.7px;height:11.4px;line-height:12.7px;font-size:7px;color:#777;padding-right:5.2px;"><span style="transform:scaleX(0.78)">0</span></div>
<div class="c sf ar" style="left:199.4px;top:231.6px;width:23.0px;height:11.4px;line-height:12.7px;font-size:7px;color:#777;padding-right:5.2px;"><span style="transform:scaleX(0.78)">0</span></div>
<div class="c sf ar" style="left:222.4px;top:231.6px;width:23.0px;height:11.4px;line-height:12.7px;font-size:7px;color:#777;padding-right:5.2px;"><span style="transform:scaleX(0.78)">0</span></div>
<div class="c sf ar" style="left:25.2px;top:231.2px;width:38.2px;height:11.4px;line-height:12.6px;font-size:12.4px;color:#000;font-weight:bold;padding-right:2.0px;"><span style="transform:scaleX(0.9)">14750</span></div>
<div class="c sf ar" style="left:13.3px;top:231.6px;width:11.9px;height:11.4px;line-height:11.4px;font-size:6.2px;color:#888;padding-right:1px;"><span style="transform:scaleX(0.85)">-13</span></div>
<div class="r" style="left:85.20px;top:243.08px;width:23.00px;height:11.44px;background:#d1fed1;"></div>
<div class="c sf ar" style="left:85.2px;top:243.1px;width:23.0px;height:11.4px;line-height:12.7px;font-size:7px;color:#b39a3a;padding-right:2.3px;"><span style="transform:scaleX(0.78)">(347)</span></div>
<div class="r" style="left:108.20px;top:243.08px;width:23.00px;height:11.44px;background:#cefdce;"></div>
<div class="c sf ar" style="left:108.2px;top:243.1px;width:23.0px;height:11.4px;line-height:12.7px;font-size:7px;color:#b39a3a;padding-right:2.3px;"><span style="transform:scaleX(0.78)">(762)</span></div>
<div class="r" style="left:131.20px;top:243.08px;width:22.70px;height:11.44px;background:#d2fed2;"></div>
<div class="c sf ar" style="left:131.2px;top:243.1px;width:22.7px;height:11.4px;line-height:12.7px;font-size:7px;color:#b39a3a;padding-right:2.3px;"><span style="transform:scaleX(0.78)">(258)</span></div>
<div class="r" style="left:153.90px;top:243.08px;width:22.80px;height:11.44px;background:#ffd7ff;"></div>
<div class="c sf ar" style="left:153.9px;top:243.1px;width:22.8px;height:11.4px;line-height:12.7px;font-size:7px;color:#a04aa8;padding-right:5.2px;"><span style="transform:scaleX(0.78)">71</span></div>
<div class="r" style="left:176.70px;top:243.08px;width:22.70px;height:11.44px;background:#f39df3;"></div>
<div class="c sf ar" style="left:176.7px;top:243.1px;width:22.7px;height:11.4px;line-height:12.7px;font-size:7px;color:#a04aa8;padding-right:5.2px;"><span style="transform:scaleX(0.78)">1259</span></div>
<div class="r" style="left:199.40px;top:243.08px;width:23.00px;height:11.44px;background:#ffd8ff;"></div>
<div class="c sf ar" style="left:199.4px;top:243.1px;width:23.0px;height:11.4px;line-height:12.7px;font-size:7px;color:#a04aa8;padding-right:5.2px;"><span style="transform:scaleX(0.78)">1</span></div>
<div class="r" style="left:222.40px;top:243.08px;width:23.00px;height:11.44px;background:#d4ffd4;"></div>
<div class="c sf ar" style="left:222.4px;top:243.1px;width:23.0px;height:11.4px;line-height:12.7px;font-size:7px;color:#b39a3a;padding-right:2.3px;"><span style="transform:scaleX(0.78)">(36)</span></div>
<div class="c sf ar" style="left:25.2px;top:242.7px;width:38.2px;height:11.4px;line-height:12.6px;font-size:12.4px;color:#000;font-weight:bold;padding-right:2.0px;"><span style="transform:scaleX(0.9)">14800</span></div>
<div class="c sf ar" style="left:13.3px;top:243.1px;width:11.9px;height:11.4px;line-height:11.4px;font-size:6.2px;color:#888;padding-right:1px;"><span style="transform:scaleX(0.85)">-12</span></div>
<div class="c sf ar" style="left:85.2px;top:254.5px;width:23.0px;height:11.4px;line-height:12.7px;font-size:7px;color:#777;padding-right:5.2px;"><span style="transform:scaleX(0.78)">0</span></div>
<div class="c sf ar" style="left:108.2px;top:254.5px;width:23.0px;height:11.4px;line-height:12.7px;font-size:7px;color:#777;padding-right:5.2px;"><span style="transform:scaleX(0.78)">0</span></div>
<div class="c sf ar" style="left:131.2px;top:254.5px;width:22.7px;height:11.4px;line-height:12.7px;font-size:7px;color:#777;padding-right:5.2px;"><span style="transform:scaleX(0.78)">0</span></div>
<div class="c sf ar" style="left:153.9px;top:254.5px;width:22.8px;height:11.4px;line-height:12.7px;font-size:7px;color:#777;padding-right:5.2px;"><span style="transform:scaleX(0.78)">0</span></div>
<div class="c sf ar" style="left:176.7px;top:254.5px;width:22.7px;height:11.4px;line-height:12.7px;font-size:7px;color:#777;padding-right:5.2px;"><span style="transform:scaleX(0.78)">0</span></div>
<div class="c sf ar" style="left:199.4px;top:254.5px;width:23.0px;height:11.4px;line-height:12.7px;font-size:7px;color:#777;padding-right:5.2px;"><span style="transform:scaleX(0.78)">0</span></div>
<div class="c sf ar" style="left:222.4px;top:254.5px;width:23.0px;height:11.4px;line-height:12.7px;font-size:7px;color:#777;padding-right:5.2px;"><span style="transform:scaleX(0.78)">0</span></div>
<div class="c sf ar" style="left:25.2px;top:254.1px;width:38.2px;height:11.4px;line-height:12.6px;font-size:12.4px;color:#000;font-weight:bold;padding-right:2.0px;"><span style="transform:scaleX(0.9)">14850</span></div>
<div class="c sf ar" style="left:13.3px;top:254.5px;width:11.9px;height:11.4px;line-height:11.4px;font-size:6.2px;color:#888;padding-right:1px;"><span style="transform:scaleX(0.85)">-11</span></div>
<div class="r" style="left:85.20px;top:265.95px;width:23.00px;height:11.44px;background:#fed4fe;"></div>
<div class="c sf ar" style="left:85.2px;top:265.9px;width:23.0px;height:11.4px;line-height:12.7px;font-size:7px;color:#a04aa8;padding-right:5.2px;"><span style="transform:scaleX(0.78)">221</span></div>
<div class="r" style="left:108.20px;top:265.95px;width:23.00px;height:11.44px;background:#f39ff3;"></div>
<div class="c sf ar" style="left:108.2px;top:265.9px;width:23.0px;height:11.4px;line-height:12.7px;font-size:7px;color:#a04aa8;padding-right:5.2px;"><span style="transform:scaleX(0.78)">1111</span></div>
<div class="r" style="left:131.20px;top:265.95px;width:22.70px;height:11.44px;background:#d4ffd4;"></div>
<div class="c sf ar" style="left:131.2px;top:265.9px;width:22.7px;height:11.4px;line-height:12.7px;font-size:7px;color:#b39a3a;padding-right:2.3px;"><span style="transform:scaleX(0.78)">(23)</span></div>
<div class="r" style="left:153.90px;top:265.95px;width:22.80px;height:11.44px;background:#d1fed1;"></div>
<div class="c sf ar" style="left:153.9px;top:265.9px;width:22.8px;height:11.4px;line-height:12.7px;font-size:7px;color:#b39a3a;padding-right:2.3px;"><span style="transform:scaleX(0.78)">(325)</span></div>
<div class="r" style="left:176.70px;top:265.95px;width:22.70px;height:11.44px;background:#fdd2fd;"></div>
<div class="c sf ar" style="left:176.7px;top:265.9px;width:22.7px;height:11.4px;line-height:12.7px;font-size:7px;color:#a04aa8;padding-right:5.2px;"><span style="transform:scaleX(0.78)">305</span></div>
<div class="r" style="left:199.40px;top:265.95px;width:23.00px;height:11.44px;background:#ffd8ff;"></div>
<div class="c sf ar" style="left:199.4px;top:265.9px;width:23.0px;height:11.4px;line-height:12.7px;font-size:7px;color:#a04aa8;padding-right:5.2px;"><span style="transform:scaleX(0.78)">13</span></div>
<div class="r" style="left:222.40px;top:265.95px;width:23.00px;height:11.44px;background:#f29df2;"></div>
<div class="c sf ar" style="left:222.4px;top:265.9px;width:23.0px;height:11.4px;line-height:12.7px;font-size:7px;color:#a04aa8;padding-right:5.2px;"><span style="transform:scaleX(0.78)">1302</span></div>
<div class="c sf ar" style="left:25.2px;top:265.6px;width:38.2px;height:11.4px;line-height:12.6px;font-size:12.4px;color:#000;font-weight:bold;padding-right:2.0px;"><span style="transform:scaleX(0.9)">14900</span></div>
<div class="c sf ar" style="left:13.3px;top:265.9px;width:11.9px;height:11.4px;line-height:11.4px;font-size:6.2px;color:#888;padding-right:1px;"><span style="transform:scaleX(0.85)">-10</span></div>
<div class="c sf ar" style="left:85.2px;top:277.4px;width:23.0px;height:11.4px;line-height:12.7px;font-size:7px;color:#777;padding-right:5.2px;"><span style="transform:scaleX(0.78)">0</span></div>
<div class="c sf ar" style="left:108.2px;top:277.4px;width:23.0px;height:11.4px;line-height:12.7px;font-size:7px;color:#777;padding-right:5.2px;"><span style="transform:scaleX(0.78)">0</span></div>
<div class="c sf ar" style="left:131.2px;top:277.4px;width:22.7px;height:11.4px;line-height:12.7px;font-size:7px;color:#777;padding-right:5.2px;"><span style="transform:scaleX(0.78)">0</span></div>
<div class="c sf ar" style="left:153.9px;top:277.4px;width:22.8px;height:11.4px;line-height:12.7px;font-size:7px;color:#777;padding-right:5.2px;"><span style="transform:scaleX(0.78)">0</span></div>
<div class="c sf ar" style="left:176.7px;top:277.4px;width:22.7px;height:11.4px;line-height:12.7px;font-size:7px;color:#777;padding-right:5.2px;"><span style="transform:scaleX(0.78)">0</span></div>
<div class="c sf ar" style="left:199.4px;top:277.4px;width:23.0px;height:11.4px;line-height:12.7px;font-size:7px;color:#777;padding-right:5.2px;"><span style="transform:scaleX(0.78)">0</span></div>
<div class="c sf ar" style="left:222.4px;top:277.4px;width:23.0px;height:11.4px;line-height:12.7px;font-size:7px;color:#777;padding-right:5.2px;"><span style="transform:scaleX(0.78)">0</span></div>
<div class="c sf ar" style="left:25.2px;top:277.0px;width:38.2px;height:11.4px;line-height:12.6px;font-size:12.4px;color:#000;font-weight:bold;padding-right:2.0px;"><span style="transform:scaleX(0.9)">14950</span></div>
<div class="c sf ar" style="left:13.3px;top:277.4px;width:11.9px;height:11.4px;line-height:11.4px;font-size:6.2px;color:#888;padding-right:1px;"><span style="transform:scaleX(0.85)">-9</span></div>
<div class="r" style="left:85.20px;top:288.82px;width:23.00px;height:11.44px;background:#cdfdcd;"></div>
<div class="c sf ar" style="left:85.2px;top:288.8px;width:23.0px;height:11.4px;line-height:12.7px;font-size:7px;color:#b39a3a;padding-right:2.3px;"><span style="transform:scaleX(0.78)">(820)</span></div>
<div class="r" style="left:108.20px;top:288.82px;width:23.00px;height:11.44px;background:#d4ffd4;"></div>
<div class="c sf ar" style="left:108.2px;top:288.8px;width:23.0px;height:11.4px;line-height:12.7px;font-size:7px;color:#b39a3a;padding-right:2.3px;"><span style="transform:scaleX(0.78)">(40)</span></div>
<div class="r" style="left:131.20px;top:288.82px;width:22.70px;height:11.44px;background:#d3ffd3;"></div>
<div class="c sf ar" style="left:131.2px;top:288.8px;width:22.7px;height:11.4px;line-height:12.7px;font-size:7px;color:#b39a3a;padding-right:2.3px;"><span style="transform:scaleX(0.78)">(117)</span></div>
<div class="r" style="left:153.90px;top:288.82px;width:22.80px;height:11.44px;background:#f39ef3;"></div>
<div class="c sf ar" style="left:153.9px;top:288.8px;width:22.8px;height:11.4px;line-height:12.7px;font-size:7px;color:#a04aa8;padding-right:5.2px;"><span style="transform:scaleX(0.78)">1164</span></div>
<div class="r" style="left:176.70px;top:288.82px;width:22.70px;height:11.44px;background:#fdd0fd;"></div>
<div class="c sf ar" style="left:176.7px;top:288.8px;width:22.7px;height:11.4px;line-height:12.7px;font-size:7px;color:#a04aa8;padding-right:5.2px;"><span style="transform:scaleX(0.78)">381</span></div>
<div class="r" style="left:199.40px;top:288.82px;width:23.00px;height:11.44px;background:#ffd6ff;"></div>
<div class="c sf ar" style="left:199.4px;top:288.8px;width:23.0px;height:11.4px;line-height:12.7px;font-size:7px;color:#a04aa8;padding-right:5.2px;"><span style="transform:scaleX(0.78)">78</span></div>
<div class="r" style="left:222.40px;top:288.82px;width:23.00px;height:11.44px;background:#fccbfc;"></div>
<div class="c sf ar" style="left:222.4px;top:288.8px;width:23.0px;height:11.4px;line-height:12.7px;font-size:7px;color:#a04aa8;padding-right:5.2px;"><span style="transform:scaleX(0.78)">646</span></div>
<div class="c sf ar" style="left:25.2px;top:288.4px;width:38.2px;height:11.4px;line-height:12.6px;font-size:12.4px;color:#000;font-weight:bold;padding-right:2.0px;"><span style="transform:scaleX(0.9)">15000</span></div>
<div class="c sf ar" style="left:13.3px;top:288.8px;width:11.9px;height:11.4px;line-height:11.4px;font-size:6.2px;color:#888;padding-right:1px;"><span style="transform:scaleX(0.85)">-8</span></div>
<div class="r" style="left:85.20px;top:300.25px;width:23.00px;height:11.44px;background:#c8fbc8;"></div>
<div class="c sf ar" style="left:85.2px;top:300.3px;width:23.0px;height:11.4px;line-height:12.7px;font-size:7px;color:#b39a3a;padding-right:2.3px;"><span style="transform:scaleX(0.78)">(1449)</span></div>
<div class="r" style="left:108.20px;top:300.25px;width:23.00px;height:11.44px;background:#fed4fe;"></div>
<div class="c sf ar" style="left:108.2px;top:300.3px;width:23.0px;height:11.4px;line-height:12.7px;font-size:7px;color:#a04aa8;padding-right:5.2px;"><span style="transform:scaleX(0.78)">193</span></div>
<div class="r" style="left:131.20px;top:300.25px;width:22.70px;height:11.44px;background:#fdcefd;"></div>
<div class="c sf ar" style="left:131.2px;top:300.3px;width:22.7px;height:11.4px;line-height:12.7px;font-size:7px;color:#a04aa8;padding-right:5.2px;"><span style="transform:scaleX(0.78)">477</span></div>
<div class="r" style="left:153.90px;top:300.25px;width:22.80px;height:11.44px;background:#cffecf;"></div>
<div class="c sf ar" style="left:153.9px;top:300.3px;width:22.8px;height:11.4px;line-height:12.7px;font-size:7px;color:#b39a3a;padding-right:2.3px;"><span style="transform:scaleX(0.78)">(597)</span></div>
<div class="r" style="left:176.70px;top:300.25px;width:22.70px;height:11.44px;background:#fed6fe;"></div>
<div class="c sf ar" style="left:176.7px;top:300.3px;width:22.7px;height:11.4px;line-height:12.7px;font-size:7px;color:#a04aa8;padding-right:5.2px;"><span style="transform:scaleX(0.78)">116</span></div>
<div class="r" style="left:199.40px;top:300.25px;width:23.00px;height:11.44px;background:#ffd8ff;"></div>
<div class="c sf ar" style="left:199.4px;top:300.3px;width:23.0px;height:11.4px;line-height:12.7px;font-size:7px;color:#a04aa8;padding-right:5.2px;"><span style="transform:scaleX(0.78)">5</span></div>
<div class="r" style="left:222.40px;top:300.25px;width:23.00px;height:11.44px;background:#ccfdcc;"></div>
<div class="c sf ar" style="left:222.4px;top:300.3px;width:23.0px;height:11.4px;line-height:12.7px;font-size:7px;color:#b39a3a;padding-right:2.3px;"><span style="transform:scaleX(0.78)">(954)</span></div>
<div class="c sf ar" style="left:25.2px;top:299.9px;width:38.2px;height:11.4px;line-height:12.6px;font-size:12.4px;color:#000;font-weight:bold;padding-right:2.0px;"><span style="transform:scaleX(0.9)">15050</span></div>
<div class="c sf ar" style="left:13.3px;top:300.3px;width:11.9px;height:11.4px;line-height:11.4px;font-size:6.2px;color:#888;padding-right:1px;"><span style="transform:scaleX(0.85)">-7</span></div>
<div class="r" style="left:85.20px;top:311.69px;width:23.00px;height:11.44px;background:#cffecf;"></div>
<div class="c sf ar" style="left:85.2px;top:311.7px;width:23.0px;height:11.4px;line-height:12.7px;font-size:7px;color:#b39a3a;padding-right:2.3px;"><span style="transform:scaleX(0.78)">(597)</span></div>
<div class="r" style="left:108.20px;top:311.69px;width:23.00px;height:11.44px;background:#fbc8fb;"></div>
<div class="c sf ar" style="left:108.2px;top:311.7px;width:23.0px;height:11.4px;line-height:12.7px;font-size:7px;color:#a04aa8;padding-right:5.2px;"><span style="transform:scaleX(0.78)">788</span></div>
<div class="r" style="left:131.20px;top:311.69px;width:22.70px;height:11.44px;background:#d2fed2;"></div>
<div class="c sf ar" style="left:131.2px;top:311.7px;width:22.7px;height:11.4px;line-height:12.7px;font-size:7px;color:#b39a3a;padding-right:2.3px;"><span style="transform:scaleX(0.78)">(283)</span></div>
<div class="r" style="left:153.90px;top:311.69px;width:22.80px;height:11.44px;background:#c8fbc8;"></div>
<div class="c sf ar" style="left:153.9px;top:311.7px;width:22.8px;height:11.4px;line-height:12.7px;font-size:7px;color:#b39a3a;padding-right:2.3px;"><span style="transform:scaleX(0.78)">(1514)</span></div>
<div class="r" style="left:176.70px;top:311.69px;width:22.70px;height:11.44px;background:#ffd6ff;"></div>
<div class="c sf ar" style="left:176.7px;top:311.7px;width:22.7px;height:11.4px;line-height:12.7px;font-size:7px;color:#a04aa8;padding-right:5.2px;"><span style="transform:scaleX(0.78)">77</span></div>
<div class="r" style="left:199.40px;top:311.69px;width:23.00px;height:11.44px;background:#ffd7ff;"></div>
<div class="c sf ar" style="left:199.4px;top:311.7px;width:23.0px;height:11.4px;line-height:12.7px;font-size:7px;color:#a04aa8;padding-right:5.2px;"><span style="transform:scaleX(0.78)">48</span></div>
<div class="r" style="left:222.40px;top:311.69px;width:23.00px;height:11.44px;background:#c8fbc8;"></div>
<div class="c sf ar" style="left:222.4px;top:311.7px;width:23.0px;height:11.4px;line-height:12.7px;font-size:7px;color:#b39a3a;padding-right:2.3px;"><span style="transform:scaleX(0.78)">(1501)</span></div>
<div class="c sf ar" style="left:25.2px;top:311.3px;width:38.2px;height:11.4px;line-height:12.6px;font-size:12.4px;color:#000;font-weight:bold;padding-right:2.0px;"><span style="transform:scaleX(0.9)">15100</span></div>
<div class="c sf ar" style="left:13.3px;top:311.7px;width:11.9px;height:11.4px;line-height:11.4px;font-size:6.2px;color:#888;padding-right:1px;"><span style="transform:scaleX(0.85)">-6</span></div>
<div class="r" style="left:85.20px;top:323.12px;width:23.00px;height:11.44px;background:#cbfccb;"></div>
<div class="c sf ar" style="left:85.2px;top:323.1px;width:23.0px;height:11.4px;line-height:12.7px;font-size:7px;color:#b39a3a;padding-right:2.3px;"><span style="transform:scaleX(0.78)">(1094)</span></div>
<div class="r" style="left:108.20px;top:323.12px;width:23.00px;height:11.44px;background:#d3ffd3;"></div>
<div class="c sf ar" style="left:108.2px;top:323.1px;width:23.0px;height:11.4px;line-height:12.7px;font-size:7px;color:#b39a3a;padding-right:2.3px;"><span style="transform:scaleX(0.78)">(105)</span></div>
<div class="r" style="left:131.20px;top:323.12px;width:22.70px;height:11.44px;background:#fac6fa;"></div>
<div class="c sf ar" style="left:131.2px;top:323.1px;width:22.7px;height:11.4px;line-height:12.7px;font-size:7px;color:#a04aa8;padding-right:5.2px;"><span style="transform:scaleX(0.78)">909</span></div>
<div class="r" style="left:153.90px;top:323.12px;width:22.80px;height:11.44px;background:#cffdcf;"></div>
<div class="c sf ar" style="left:153.9px;top:323.1px;width:22.8px;height:11.4px;line-height:12.7px;font-size:7px;color:#b39a3a;padding-right:2.3px;"><span style="transform:scaleX(0.78)">(628)</span></div>
<div class="r" style="left:176.70px;top:323.12px;width:22.70px;height:11.44px;background:#d2fed2;"></div>
<div class="c sf ar" style="left:176.7px;top:323.1px;width:22.7px;height:11.4px;line-height:12.7px;font-size:7px;color:#b39a3a;padding-right:2.3px;"><span style="transform:scaleX(0.78)">(308)</span></div>
<div class="c sf ar" style="left:199.4px;top:323.1px;width:23.0px;height:11.4px;line-height:12.7px;font-size:7px;color:#777;padding-right:5.2px;"><span style="transform:scaleX(0.78)">0</span></div>
<div class="r" style="left:222.40px;top:323.12px;width:23.00px;height:11.44px;background:#cafcca;"></div>
<div class="c sf ar" style="left:222.4px;top:323.1px;width:23.0px;height:11.4px;line-height:12.7px;font-size:7px;color:#b39a3a;padding-right:2.3px;"><span style="transform:scaleX(0.78)">(1226)</span></div>
<div class="c sf ar" style="left:25.2px;top:322.7px;width:38.2px;height:11.4px;line-height:12.6px;font-size:12.4px;color:#000;font-weight:bold;padding-right:2.0px;"><span style="transform:scaleX(0.9)">15150</span></div>
<div class="c sf ar" style="left:13.3px;top:323.1px;width:11.9px;height:11.4px;line-height:11.4px;font-size:6.2px;color:#888;padding-right:1px;"><span style="transform:scaleX(0.85)">-5</span></div>
<div class="r" style="left:85.20px;top:334.56px;width:23.00px;height:11.44px;background:#d2fed2;"></div>
<div class="c sf ar" style="left:85.2px;top:334.6px;width:23.0px;height:11.4px;line-height:12.7px;font-size:7px;color:#b39a3a;padding-right:2.3px;"><span style="transform:scaleX(0.78)">(227)</span></div>
<div class="r" style="left:108.20px;top:334.56px;width:23.00px;height:11.44px;background:#fac6fa;"></div>
<div class="c sf ar" style="left:108.2px;top:334.6px;width:23.0px;height:11.4px;line-height:12.7px;font-size:7px;color:#a04aa8;padding-right:5.2px;"><span style="transform:scaleX(0.78)">901</span></div>
<div class="r" style="left:131.20px;top:334.56px;width:22.70px;height:11.44px;background:#cffecf;"></div>
<div class="c sf ar" style="left:131.2px;top:334.6px;width:22.7px;height:11.4px;line-height:12.7px;font-size:7px;color:#b39a3a;padding-right:2.3px;"><span style="transform:scaleX(0.78)">(589)</span></div>
<div class="r" style="left:153.90px;top:334.56px;width:22.80px;height:11.44px;background:#f29cf2;"></div>
<div class="c sf ar" style="left:153.9px;top:334.6px;width:22.8px;height:11.4px;line-height:12.7px;font-size:7px;color:#a04aa8;padding-right:5.2px;"><span style="transform:scaleX(0.78)">1367</span></div>
<div class="r" style="left:176.70px;top:334.56px;width:22.70px;height:11.44px;background:#d1fed1;"></div>
<div class="c sf ar" style="left:176.7px;top:334.6px;width:22.7px;height:11.4px;line-height:12.7px;font-size:7px;color:#b39a3a;padding-right:2.3px;"><span style="transform:scaleX(0.78)">(436)</span></div>
<div class="r" style="left:199.40px;top:334.56px;width:23.00px;height:11.44px;background:#d4ffd4;"></div>
<div class="c sf ar" style="left:199.4px;top:334.6px;width:23.0px;height:11.4px;line-height:12.7px;font-size:7px;color:#b39a3a;padding-right:2.3px;"><span style="transform:scaleX(0.78)">(19)</span></div>
<div class="r" style="left:222.40px;top:334.56px;width:23.00px;height:11.44px;background:#fbc6fb;"></div>
<div class="c sf ar" style="left:222.4px;top:334.6px;width:23.0px;height:11.4px;line-height:12.7px;font-size:7px;color:#a04aa8;padding-right:5.2px;"><span style="transform:scaleX(0.78)">898</span></div>
<div class="c sf ar" style="left:25.2px;top:334.2px;width:38.2px;height:11.4px;line-height:12.6px;font-size:12.4px;color:#000;font-weight:bold;padding-right:2.0px;"><span style="transform:scaleX(0.9)">15200</span></div>
<div class="c sf ar" style="left:13.3px;top:334.6px;width:11.9px;height:11.4px;line-height:11.4px;font-size:6.2px;color:#888;padding-right:1px;"><span style="transform:scaleX(0.85)">-4</span></div>
<div class="r" style="left:85.20px;top:346.00px;width:23.00px;height:11.44px;background:#fed6fe;"></div>
<div class="c sf ar" style="left:85.2px;top:346.0px;width:23.0px;height:11.4px;line-height:12.7px;font-size:7px;color:#a04aa8;padding-right:5.2px;"><span style="transform:scaleX(0.78)">101</span></div>
<div class="r" style="left:108.20px;top:346.00px;width:23.00px;height:11.44px;background:#fccbfc;"></div>
<div class="c sf ar" style="left:108.2px;top:346.0px;width:23.0px;height:11.4px;line-height:12.7px;font-size:7px;color:#a04aa8;padding-right:5.2px;"><span style="transform:scaleX(0.78)">665</span></div>
<div class="r" style="left:131.20px;top:346.00px;width:22.70px;height:11.44px;background:#ffd7ff;"></div>
<div class="c sf ar" style="left:131.2px;top:346.0px;width:22.7px;height:11.4px;line-height:12.7px;font-size:7px;color:#a04aa8;padding-right:5.2px;"><span style="transform:scaleX(0.78)">50</span></div>
<div class="r" style="left:153.90px;top:346.00px;width:22.80px;height:11.44px;background:#fccbfc;"></div>
<div class="c sf ar" style="left:153.9px;top:346.0px;width:22.8px;height:11.4px;line-height:12.7px;font-size:7px;color:#a04aa8;padding-right:5.2px;"><span style="transform:scaleX(0.78)">661</span></div>
<div class="r" style="left:176.70px;top:346.00px;width:22.70px;height:11.44px;background:#d4ffd4;"></div>
<div class="c sf ar" style="left:176.7px;top:346.0px;width:22.7px;height:11.4px;line-height:12.7px;font-size:7px;color:#b39a3a;padding-right:2.3px;"><span style="transform:scaleX(0.78)">(59)</span></div>
<div class="r" style="left:199.40px;top:346.00px;width:23.00px;height:11.44px;background:#fed3fe;"></div>
<div class="c sf ar" style="left:199.4px;top:346.0px;width:23.0px;height:11.4px;line-height:12.7px;font-size:7px;color:#a04aa8;padding-right:5.2px;"><span style="transform:scaleX(0.78)">261</span></div>
<div class="r" style="left:222.40px;top:346.00px;width:23.00px;height:11.44px;background:#f299f2;"></div>
<div class="c sf ar" style="left:222.4px;top:346.0px;width:23.0px;height:11.4px;line-height:12.7px;font-size:7px;color:#a04aa8;padding-right:5.2px;"><span style="transform:scaleX(0.78)">1680</span></div>
<div class="c sf ar" style="left:25.2px;top:345.6px;width:38.2px;height:11.4px;line-height:12.6px;font-size:12.4px;color:#000;font-weight:bold;padding-right:2.0px;"><span style="transform:scaleX(0.9)">15250</span></div>
<div class="c sf ar" style="left:13.3px;top:346.0px;width:11.9px;height:11.4px;line-height:11.4px;font-size:6.2px;color:#888;padding-right:1px;"><span style="transform:scaleX(0.85)">-3</span></div>
<div class="r" style="left:85.20px;top:357.43px;width:23.00px;height:11.44px;background:#fccdfc;"></div>
<div class="c sf ar" style="left:85.2px;top:357.4px;width:23.0px;height:11.4px;line-height:12.7px;font-size:7px;color:#a04aa8;padding-right:5.2px;"><span style="transform:scaleX(0.78)">540</span></div>
<div class="r" style="left:108.20px;top:357.43px;width:23.00px;height:11.44px;background:#f29df2;"></div>
<div class="c sf ar" style="left:108.2px;top:357.4px;width:23.0px;height:11.4px;line-height:12.7px;font-size:7px;color:#a04aa8;padding-right:5.2px;"><span style="transform:scaleX(0.78)">1333</span></div>
<div class="r" style="left:131.20px;top:357.43px;width:22.70px;height:11.44px;background:#a7ed9c;"></div>
<div class="c sf ar" style="left:131.2px;top:357.4px;width:22.7px;height:11.4px;line-height:12.7px;font-size:7px;color:#b39a3a;padding-right:2.3px;"><span style="transform:scaleX(0.78)">(2316)</span></div>
<div class="r" style="left:153.90px;top:357.43px;width:22.80px;height:11.44px;background:#cefdce;"></div>
<div class="c sf ar" style="left:153.9px;top:357.4px;width:22.8px;height:11.4px;line-height:12.7px;font-size:7px;color:#b39a3a;padding-right:2.3px;"><span style="transform:scaleX(0.78)">(720)</span></div>
<div class="r" style="left:176.70px;top:357.43px;width:22.70px;height:11.44px;background:#d2fed2;"></div>
<div class="c sf ar" style="left:176.7px;top:357.4px;width:22.7px;height:11.4px;line-height:12.7px;font-size:7px;color:#b39a3a;padding-right:2.3px;"><span style="transform:scaleX(0.78)">(256)</span></div>
<div class="r" style="left:199.40px;top:357.43px;width:23.00px;height:11.44px;background:#ffd7ff;"></div>
<div class="c sf ar" style="left:199.4px;top:357.4px;width:23.0px;height:11.4px;line-height:12.7px;font-size:7px;color:#a04aa8;padding-right:5.2px;"><span style="transform:scaleX(0.78)">48</span></div>
<div class="r" style="left:222.40px;top:357.43px;width:23.00px;height:11.44px;background:#c9fcc9;"></div>
<div class="c sf ar" style="left:222.4px;top:357.4px;width:23.0px;height:11.4px;line-height:12.7px;font-size:7px;color:#b39a3a;padding-right:2.3px;"><span style="transform:scaleX(0.78)">(1371)</span></div>
<div class="c sf ar" style="left:25.2px;top:357.0px;width:38.2px;height:11.4px;line-height:12.6px;font-size:12.4px;color:#000;font-weight:bold;padding-right:2.0px;"><span style="transform:scaleX(0.9)">15300</span></div>
<div class="c sf ar" style="left:13.3px;top:357.4px;width:11.9px;height:11.4px;line-height:11.4px;font-size:6.2px;color:#888;padding-right:1px;"><span style="transform:scaleX(0.85)">-2</span></div>
<div class="r" style="left:85.20px;top:368.87px;width:23.00px;height:11.44px;background:#d1fed1;"></div>
<div class="c sf ar" style="left:85.2px;top:368.9px;width:23.0px;height:11.4px;line-height:12.7px;font-size:7px;color:#b39a3a;padding-right:2.3px;"><span style="transform:scaleX(0.78)">(365)</span></div>
<div class="r" style="left:108.20px;top:368.87px;width:23.00px;height:11.44px;background:#fac5fa;"></div>
<div class="c sf ar" style="left:108.2px;top:368.9px;width:23.0px;height:11.4px;line-height:12.7px;font-size:7px;color:#a04aa8;padding-right:5.2px;"><span style="transform:scaleX(0.78)">929</span></div>
<div class="r" style="left:131.20px;top:368.87px;width:22.70px;height:11.44px;background:#fed6fe;"></div>
<div class="c sf ar" style="left:131.2px;top:368.9px;width:22.7px;height:11.4px;line-height:12.7px;font-size:7px;color:#a04aa8;padding-right:5.2px;"><span style="transform:scaleX(0.78)">112</span></div>
<div class="r" style="left:153.90px;top:368.87px;width:22.80px;height:11.44px;background:#cffdcf;"></div>
<div class="c sf ar" style="left:153.9px;top:368.9px;width:22.8px;height:11.4px;line-height:12.7px;font-size:7px;color:#b39a3a;padding-right:2.3px;"><span style="transform:scaleX(0.78)">(621)</span></div>
<div class="r" style="left:176.70px;top:368.87px;width:22.70px;height:11.44px;background:#d3ffd3;"></div>
<div class="c sf ar" style="left:176.7px;top:368.9px;width:22.7px;height:11.4px;line-height:12.7px;font-size:7px;color:#b39a3a;padding-right:2.3px;"><span style="transform:scaleX(0.78)">(100)</span></div>
<div class="r" style="left:199.40px;top:368.87px;width:23.00px;height:11.44px;background:#fdd1fd;"></div>
<div class="c sf ar" style="left:199.4px;top:368.9px;width:23.0px;height:11.4px;line-height:12.7px;font-size:7px;color:#a04aa8;padding-right:5.2px;"><span style="transform:scaleX(0.78)">365</span></div>
<div class="r" style="left:222.40px;top:368.87px;width:23.00px;height:11.44px;background:#fdd2fd;"></div>
<div class="c sf ar" style="left:222.4px;top:368.9px;width:23.0px;height:11.4px;line-height:12.7px;font-size:7px;color:#a04aa8;padding-right:5.2px;"><span style="transform:scaleX(0.78)">318</span></div>
<div class="c sf ar" style="left:25.2px;top:368.5px;width:38.2px;height:11.4px;line-height:12.6px;font-size:12.4px;color:#000;font-weight:bold;padding-right:2.0px;"><span style="transform:scaleX(0.9)">15350</span></div>
<div class="c sf ar" style="left:13.3px;top:368.9px;width:11.9px;height:11.4px;line-height:11.4px;font-size:6.2px;color:#888;padding-right:1px;"><span style="transform:scaleX(0.85)">-1</span></div>
<div class="r" style="left:85.20px;top:380.30px;width:23.00px;height:11.44px;background:#f29af2;"></div>
<div class="c sf ar" style="left:85.2px;top:380.3px;width:23.0px;height:11.4px;line-height:11.4px;font-size:6.8px;color:#111;font-weight:bold;padding-right:4.6px;"><span style="transform:scaleX(0.9)">1618</span></div>
<div class="r" style="left:108.20px;top:380.30px;width:23.00px;height:11.44px;background:#f39df3;"></div>
<div class="c sf ar" style="left:108.2px;top:380.3px;width:23.0px;height:11.4px;line-height:11.4px;font-size:6.8px;color:#111;font-weight:bold;padding-right:4.6px;"><span style="transform:scaleX(0.9)">1270</span></div>
<div class="r" style="left:131.20px;top:380.30px;width:22.70px;height:11.44px;background:#fccdfc;"></div>
<div class="c sf ar" style="left:131.2px;top:380.3px;width:22.7px;height:11.4px;line-height:11.4px;font-size:6.8px;color:#111;font-weight:bold;padding-right:4.6px;"><span style="transform:scaleX(0.9)">531</span></div>
<div class="r" style="left:153.90px;top:380.30px;width:22.80px;height:11.44px;background:#fed4fe;"></div>
<div class="c sf ar" style="left:153.9px;top:380.3px;width:22.8px;height:11.4px;line-height:11.4px;font-size:6.8px;color:#111;font-weight:bold;padding-right:4.6px;"><span style="transform:scaleX(0.9)">218</span></div>
<div class="r" style="left:176.70px;top:380.30px;width:22.70px;height:11.44px;background:#ffd9f2;"></div>
<div class="c sf ar" style="left:176.7px;top:380.3px;width:22.7px;height:11.4px;line-height:11.4px;font-size:6.8px;color:#b05a00;font-weight:bold;padding-right:2.3px;"><span style="transform:scaleX(0.9)">(584)</span></div>
<div class="r" style="left:199.40px;top:380.30px;width:23.00px;height:11.44px;background:#ffd8ff;"></div>
<div class="c sf ar" style="left:199.4px;top:380.3px;width:23.0px;height:11.4px;line-height:11.4px;font-size:6.8px;color:#111;font-weight:bold;padding-right:4.6px;"><span style="transform:scaleX(0.9)">3</span></div>
<div class="r" style="left:222.40px;top:380.30px;width:23.00px;height:11.44px;background:#ef8bef;"></div>
<div class="c sf ar" style="left:222.4px;top:380.3px;width:23.0px;height:11.4px;line-height:11.4px;font-size:6.8px;color:#111;font-weight:bold;padding-right:4.6px;"><span style="transform:scaleX(0.9)">3056</span></div>
<div class="r" style="left:13.30px;top:380.30px;width:50.10px;height:11.44px;background:#ffff00;"></div>
<div class="c sf ar" style="left:25.2px;top:379.9px;width:38.2px;height:11.4px;line-height:12.6px;font-size:12.4px;color:#000;font-weight:bold;padding-right:2.0px;"><span style="transform:scaleX(0.9)">15400</span></div>
<div class="c sf ar" style="left:13.3px;top:380.3px;width:11.9px;height:11.4px;line-height:11.4px;font-size:6.2px;color:#888;padding-right:1px;"><span style="transform:scaleX(0.85)">0</span></div>
<div class="r" style="left:85.20px;top:391.74px;width:23.00px;height:11.44px;background:#ffd7ff;"></div>
<div class="c sf ar" style="left:85.2px;top:391.7px;width:23.0px;height:11.4px;line-height:12.7px;font-size:7px;color:#a04aa8;padding-right:5.2px;"><span style="transform:scaleX(0.78)">35</span></div>
<div class="r" style="left:108.20px;top:391.74px;width:23.00px;height:11.44px;background:#f39ff3;"></div>
<div class="c sf ar" style="left:108.2px;top:391.7px;width:23.0px;height:11.4px;line-height:12.7px;font-size:7px;color:#a04aa8;padding-right:5.2px;"><span style="transform:scaleX(0.78)">1091</span></div>
<div class="r" style="left:131.20px;top:391.74px;width:22.70px;height:11.44px;background:#f194f1;"></div>
<div class="c sf ar" style="left:131.2px;top:391.7px;width:22.7px;height:11.4px;line-height:12.7px;font-size:7px;color:#a04aa8;padding-right:5.2px;"><span style="transform:scaleX(0.78)">2171</span></div>
<div class="r" style="left:153.90px;top:391.74px;width:22.80px;height:11.44px;background:#f195f1;"></div>
<div class="c sf ar" style="left:153.9px;top:391.7px;width:22.8px;height:11.4px;line-height:12.7px;font-size:7px;color:#a04aa8;padding-right:5.2px;"><span style="transform:scaleX(0.78)">2144</span></div>
<div class="r" style="left:176.70px;top:391.74px;width:22.70px;height:11.44px;background:#c6fbc6;"></div>
<div class="c sf ar" style="left:176.7px;top:391.7px;width:22.7px;height:11.4px;line-height:12.7px;font-size:7px;color:#b39a3a;padding-right:2.3px;"><span style="transform:scaleX(0.78)">(1734)</span></div>
<div class="r" style="left:199.40px;top:391.74px;width:23.00px;height:11.44px;background:#fed4fe;"></div>
<div class="c sf ar" style="left:199.4px;top:391.7px;width:23.0px;height:11.4px;line-height:12.7px;font-size:7px;color:#a04aa8;padding-right:5.2px;"><span style="transform:scaleX(0.78)">175</span></div>
<div class="r" style="left:222.40px;top:391.74px;width:23.00px;height:11.44px;background:#ee83ee;"></div>
<div class="c sf ar" style="left:222.4px;top:391.7px;width:23.0px;height:11.4px;line-height:12.7px;font-size:7px;color:#a04aa8;padding-right:5.2px;"><span style="transform:scaleX(0.78)">3882</span></div>
<div class="c sf ar" style="left:25.2px;top:391.3px;width:38.2px;height:11.4px;line-height:12.6px;font-size:12.4px;color:#000;font-weight:bold;padding-right:2.0px;"><span style="transform:scaleX(0.9)">15450</span></div>
<div class="c sf ar" style="left:13.3px;top:391.7px;width:11.9px;height:11.4px;line-height:11.4px;font-size:6.2px;color:#888;padding-right:1px;"><span style="transform:scaleX(0.85)">1</span></div>
<div class="r" style="left:85.20px;top:403.17px;width:23.00px;height:11.44px;background:#fccbfc;"></div>
<div class="c sf ar" style="left:85.2px;top:403.2px;width:23.0px;height:11.4px;line-height:12.7px;font-size:7px;color:#a04aa8;padding-right:5.2px;"><span style="transform:scaleX(0.78)">673</span></div>
<div class="r" style="left:108.20px;top:403.17px;width:23.00px;height:11.44px;background:#f196f1;"></div>
<div class="c sf ar" style="left:108.2px;top:403.2px;width:23.0px;height:11.4px;line-height:12.7px;font-size:7px;color:#a04aa8;padding-right:5.2px;"><span style="transform:scaleX(0.78)">1973</span></div>
<div class="r" style="left:131.20px;top:403.17px;width:22.70px;height:11.44px;background:#f3a0f3;"></div>
<div class="c sf ar" style="left:131.2px;top:403.2px;width:22.7px;height:11.4px;line-height:12.7px;font-size:7px;color:#a04aa8;padding-right:5.2px;"><span style="transform:scaleX(0.78)">1016</span></div>
<div class="r" style="left:153.90px;top:403.17px;width:22.80px;height:11.44px;background:#fed2fe;"></div>
<div class="c sf ar" style="left:153.9px;top:403.2px;width:22.8px;height:11.4px;line-height:12.7px;font-size:7px;color:#a04aa8;padding-right:5.2px;"><span style="transform:scaleX(0.78)">282</span></div>
<div class="r" style="left:176.70px;top:403.17px;width:22.70px;height:11.44px;background:#9ee992;"></div>
<div class="c sf ar" style="left:176.7px;top:403.2px;width:22.7px;height:11.4px;line-height:12.7px;font-size:7px;color:#b39a3a;padding-right:2.3px;"><span style="transform:scaleX(0.78)">(3169)</span></div>
<div class="r" style="left:199.40px;top:403.17px;width:23.00px;height:11.44px;background:#d2fed2;"></div>
<div class="c sf ar" style="left:199.4px;top:403.2px;width:23.0px;height:11.4px;line-height:12.7px;font-size:7px;color:#b39a3a;padding-right:2.3px;"><span style="transform:scaleX(0.78)">(267)</span></div>
<div class="r" style="left:222.40px;top:403.17px;width:23.00px;height:11.44px;background:#fccefc;"></div>
<div class="c sf ar" style="left:222.4px;top:403.2px;width:23.0px;height:11.4px;line-height:12.7px;font-size:7px;color:#a04aa8;padding-right:5.2px;"><span style="transform:scaleX(0.78)">508</span></div>
<div class="c sf ar" style="left:25.2px;top:402.8px;width:38.2px;height:11.4px;line-height:12.6px;font-size:12.4px;color:#000;font-weight:bold;padding-right:2.0px;"><span style="transform:scaleX(0.9)">15500</span></div>
<div class="c sf ar" style="left:13.3px;top:403.2px;width:11.9px;height:11.4px;line-height:11.4px;font-size:6.2px;color:#888;padding-right:1px;"><span style="transform:scaleX(0.85)">2</span></div>
<div class="r" style="left:85.20px;top:414.61px;width:23.00px;height:11.44px;background:#d1fed1;"></div>
<div class="c sf ar" style="left:85.2px;top:414.6px;width:23.0px;height:11.4px;line-height:12.7px;font-size:7px;color:#b39a3a;padding-right:2.3px;"><span style="transform:scaleX(0.78)">(359)</span></div>
<div class="r" style="left:108.20px;top:414.61px;width:23.00px;height:11.44px;background:#f195f1;"></div>
<div class="c sf ar" style="left:108.2px;top:414.6px;width:23.0px;height:11.4px;line-height:12.7px;font-size:7px;color:#a04aa8;padding-right:5.2px;"><span style="transform:scaleX(0.78)">2133</span></div>
<div class="r" style="left:131.20px;top:414.61px;width:22.70px;height:11.44px;background:#d4ffd4;"></div>
<div class="c sf ar" style="left:131.2px;top:414.6px;width:22.7px;height:11.4px;line-height:12.7px;font-size:7px;color:#b39a3a;padding-right:2.3px;"><span style="transform:scaleX(0.78)">(18)</span></div>
<div class="r" style="left:153.90px;top:414.61px;width:22.80px;height:11.44px;background:#cbfccb;"></div>
<div class="c sf ar" style="left:153.9px;top:414.6px;width:22.8px;height:11.4px;line-height:12.7px;font-size:7px;color:#b39a3a;padding-right:2.3px;"><span style="transform:scaleX(0.78)">(1148)</span></div>
<div class="r" style="left:176.70px;top:414.61px;width:22.70px;height:11.44px;background:#cefdce;"></div>
<div class="c sf ar" style="left:176.7px;top:414.6px;width:22.7px;height:11.4px;line-height:12.7px;font-size:7px;color:#b39a3a;padding-right:2.3px;"><span style="transform:scaleX(0.78)">(727)</span></div>
<div class="r" style="left:199.40px;top:414.61px;width:23.00px;height:11.44px;background:#fbc9fb;"></div>
<div class="c sf ar" style="left:199.4px;top:414.6px;width:23.0px;height:11.4px;line-height:12.7px;font-size:7px;color:#a04aa8;padding-right:5.2px;"><span style="transform:scaleX(0.78)">766</span></div>
<div class="r" style="left:222.40px;top:414.61px;width:23.00px;height:11.44px;background:#fccbfc;"></div>
<div class="c sf ar" style="left:222.4px;top:414.6px;width:23.0px;height:11.4px;line-height:12.7px;font-size:7px;color:#a04aa8;padding-right:5.2px;"><span style="transform:scaleX(0.78)">650</span></div>
<div class="c sf ar" style="left:25.2px;top:414.2px;width:38.2px;height:11.4px;line-height:12.6px;font-size:12.4px;color:#000;font-weight:bold;padding-right:2.0px;"><span style="transform:scaleX(0.9)">15550</span></div>
<div class="c sf ar" style="left:13.3px;top:414.6px;width:11.9px;height:11.4px;line-height:11.4px;font-size:6.2px;color:#888;padding-right:1px;"><span style="transform:scaleX(0.85)">3</span></div>
<div class="r" style="left:85.20px;top:426.04px;width:23.00px;height:11.44px;background:#d3ffd3;"></div>
<div class="c sf ar" style="left:85.2px;top:426.0px;width:23.0px;height:11.4px;line-height:12.7px;font-size:7px;color:#b39a3a;padding-right:2.3px;"><span style="transform:scaleX(0.78)">(69)</span></div>
<div class="r" style="left:108.20px;top:426.04px;width:23.00px;height:11.44px;background:#fac5fa;"></div>
<div class="c sf ar" style="left:108.2px;top:426.0px;width:23.0px;height:11.4px;line-height:12.7px;font-size:7px;color:#a04aa8;padding-right:5.2px;"><span style="transform:scaleX(0.78)">971</span></div>
<div class="r" style="left:131.20px;top:426.04px;width:22.70px;height:11.44px;background:#f705f7;"></div>
<div class="c sf ar" style="left:131.2px;top:426.0px;width:22.7px;height:11.4px;line-height:12.7px;font-size:7px;color:#a010a8;padding-right:5.2px;"><span style="transform:scaleX(0.78)">5417</span></div>
<div class="r" style="left:153.90px;top:426.04px;width:22.80px;height:11.44px;background:#f29cf2;"></div>
<div class="c sf ar" style="left:153.9px;top:426.0px;width:22.8px;height:11.4px;line-height:12.7px;font-size:7px;color:#a04aa8;padding-right:5.2px;"><span style="transform:scaleX(0.78)">1393</span></div>
<div class="r" style="left:176.70px;top:426.04px;width:22.70px;height:11.44px;background:#cffecf;"></div>
<div class="c sf ar" style="left:176.7px;top:426.0px;width:22.7px;height:11.4px;line-height:12.7px;font-size:7px;color:#b39a3a;padding-right:2.3px;"><span style="transform:scaleX(0.78)">(577)</span></div>
<div class="r" style="left:199.40px;top:426.04px;width:23.00px;height:11.44px;background:#fbc6fb;"></div>
<div class="c sf ar" style="left:199.4px;top:426.0px;width:23.0px;height:11.4px;line-height:12.7px;font-size:7px;color:#a04aa8;padding-right:5.2px;"><span style="transform:scaleX(0.78)">889</span></div>
<div class="r" style="left:222.40px;top:426.04px;width:23.00px;height:11.44px;background:#f705f7;"></div>
<div class="c sf ar" style="left:222.4px;top:426.0px;width:23.0px;height:11.4px;line-height:12.7px;font-size:7px;color:#a010a8;padding-right:5.2px;"><span style="transform:scaleX(0.78)">7971</span></div>
<div class="c sf ar" style="left:25.2px;top:425.6px;width:38.2px;height:11.4px;line-height:12.6px;font-size:12.4px;color:#000;font-weight:bold;padding-right:2.0px;"><span style="transform:scaleX(0.9)">15600</span></div>
<div class="c sf ar" style="left:13.3px;top:426.0px;width:11.9px;height:11.4px;line-height:11.4px;font-size:6.2px;color:#888;padding-right:1px;"><span style="transform:scaleX(0.85)">4</span></div>
<div class="r" style="left:85.20px;top:437.48px;width:23.00px;height:11.44px;background:#cffecf;"></div>
<div class="c sf ar" style="left:85.2px;top:437.5px;width:23.0px;height:11.4px;line-height:12.7px;font-size:7px;color:#b39a3a;padding-right:2.3px;"><span style="transform:scaleX(0.78)">(573)</span></div>
<div class="r" style="left:108.20px;top:437.48px;width:23.00px;height:11.44px;background:#fdd1fd;"></div>
<div class="c sf ar" style="left:108.2px;top:437.5px;width:23.0px;height:11.4px;line-height:12.7px;font-size:7px;color:#a04aa8;padding-right:5.2px;"><span style="transform:scaleX(0.78)">361</span></div>
<div class="r" style="left:131.20px;top:437.48px;width:22.70px;height:11.44px;background:#ef88ef;"></div>
<div class="c sf ar" style="left:131.2px;top:437.5px;width:22.7px;height:11.4px;line-height:12.7px;font-size:7px;color:#a04aa8;padding-right:5.2px;"><span style="transform:scaleX(0.78)">3438</span></div>
<div class="r" style="left:153.90px;top:437.48px;width:22.80px;height:11.44px;background:#f3a0f3;"></div>
<div class="c sf ar" style="left:153.9px;top:437.5px;width:22.8px;height:11.4px;line-height:12.7px;font-size:7px;color:#a04aa8;padding-right:5.2px;"><span style="transform:scaleX(0.78)">1011</span></div>
<div class="r" style="left:176.70px;top:437.48px;width:22.70px;height:11.44px;background:#f3a0f3;"></div>
<div class="c sf ar" style="left:176.7px;top:437.5px;width:22.7px;height:11.4px;line-height:12.7px;font-size:7px;color:#a04aa8;padding-right:5.2px;"><span style="transform:scaleX(0.78)">1043</span></div>
<div class="r" style="left:199.40px;top:437.48px;width:23.00px;height:11.44px;background:#f298f2;"></div>
<div class="c sf ar" style="left:199.4px;top:437.5px;width:23.0px;height:11.4px;line-height:12.7px;font-size:7px;color:#a04aa8;padding-right:5.2px;"><span style="transform:scaleX(0.78)">1834</span></div>
<div class="r" style="left:222.40px;top:437.48px;width:23.00px;height:11.44px;background:#f705f7;"></div>
<div class="c sf ar" style="left:222.4px;top:437.5px;width:23.0px;height:11.4px;line-height:12.7px;font-size:7px;color:#a010a8;padding-right:5.2px;"><span style="transform:scaleX(0.78)">7114</span></div>
<div class="c sf ar" style="left:25.2px;top:437.1px;width:38.2px;height:11.4px;line-height:12.6px;font-size:12.4px;color:#000;font-weight:bold;padding-right:2.0px;"><span style="transform:scaleX(0.9)">15650</span></div>
<div class="c sf ar" style="left:13.3px;top:437.5px;width:11.9px;height:11.4px;line-height:11.4px;font-size:6.2px;color:#888;padding-right:1px;"><span style="transform:scaleX(0.85)">5</span></div>
<div class="r" style="left:85.20px;top:448.91px;width:23.00px;height:11.44px;background:#d1fed1;"></div>
<div class="c sf ar" style="left:85.2px;top:448.9px;width:23.0px;height:11.4px;line-height:12.7px;font-size:7px;color:#b39a3a;padding-right:2.3px;"><span style="transform:scaleX(0.78)">(377)</span></div>
<div class="r" style="left:108.20px;top:448.91px;width:23.00px;height:11.44px;background:#fbc6fb;"></div>
<div class="c sf ar" style="left:108.2px;top:448.9px;width:23.0px;height:11.4px;line-height:12.7px;font-size:7px;color:#a04aa8;padding-right:5.2px;"><span style="transform:scaleX(0.78)">882</span></div>
<div class="r" style="left:131.20px;top:448.91px;width:22.70px;height:11.44px;background:#ee81ee;"></div>
<div class="c sf ar" style="left:131.2px;top:448.9px;width:22.7px;height:11.4px;line-height:12.7px;font-size:7px;color:#a04aa8;padding-right:5.2px;"><span style="transform:scaleX(0.78)">4065</span></div>
<div class="r" style="left:153.90px;top:448.91px;width:22.80px;height:11.44px;background:#f705f7;"></div>
<div class="c sf ar" style="left:153.9px;top:448.9px;width:22.8px;height:11.4px;line-height:12.7px;font-size:7px;color:#a010a8;padding-right:5.2px;"><span style="transform:scaleX(0.78)">5565</span></div>
<div class="r" style="left:176.70px;top:448.91px;width:22.70px;height:11.44px;background:#fdd0fd;"></div>
<div class="c sf ar" style="left:176.7px;top:448.9px;width:22.7px;height:11.4px;line-height:12.7px;font-size:7px;color:#a04aa8;padding-right:5.2px;"><span style="transform:scaleX(0.78)">394</span></div>
<div class="r" style="left:199.40px;top:448.91px;width:23.00px;height:11.44px;background:#f39ff3;"></div>
<div class="c sf ar" style="left:199.4px;top:448.9px;width:23.0px;height:11.4px;line-height:12.7px;font-size:7px;color:#a04aa8;padding-right:5.2px;"><span style="transform:scaleX(0.78)">1057</span></div>
<div class="r" style="left:222.40px;top:448.91px;width:23.00px;height:11.44px;background:#f705f7;"></div>
<div class="c sf ar" style="left:222.4px;top:448.9px;width:23.0px;height:11.4px;line-height:12.7px;font-size:7px;color:#a010a8;padding-right:5.2px;"><span style="transform:scaleX(0.78)">11686</span></div>
<div class="c sf ar" style="left:25.2px;top:448.5px;width:38.2px;height:11.4px;line-height:12.6px;font-size:12.4px;color:#000;font-weight:bold;padding-right:2.0px;"><span style="transform:scaleX(0.9)">15700</span></div>
<div class="c sf ar" style="left:13.3px;top:448.9px;width:11.9px;height:11.4px;line-height:11.4px;font-size:6.2px;color:#888;padding-right:1px;"><span style="transform:scaleX(0.85)">6</span></div>
<div class="r" style="left:85.20px;top:460.35px;width:23.00px;height:11.44px;background:#ccfccc;"></div>
<div class="c sf ar" style="left:85.2px;top:460.3px;width:23.0px;height:11.4px;line-height:12.7px;font-size:7px;color:#b39a3a;padding-right:2.3px;"><span style="transform:scaleX(0.78)">(1014)</span></div>
<div class="r" style="left:108.20px;top:460.35px;width:23.00px;height:11.44px;background:#d4ffd4;"></div>
<div class="c sf ar" style="left:108.2px;top:460.3px;width:23.0px;height:11.4px;line-height:12.7px;font-size:7px;color:#b39a3a;padding-right:2.3px;"><span style="transform:scaleX(0.78)">(45)</span></div>
<div class="r" style="left:131.20px;top:460.35px;width:22.70px;height:11.44px;background:#fac5fa;"></div>
<div class="c sf ar" style="left:131.2px;top:460.3px;width:22.7px;height:11.4px;line-height:12.7px;font-size:7px;color:#a04aa8;padding-right:5.2px;"><span style="transform:scaleX(0.78)">965</span></div>
<div class="r" style="left:153.90px;top:460.35px;width:22.80px;height:11.44px;background:#f29cf2;"></div>
<div class="c sf ar" style="left:153.9px;top:460.3px;width:22.8px;height:11.4px;line-height:12.7px;font-size:7px;color:#a04aa8;padding-right:5.2px;"><span style="transform:scaleX(0.78)">1410</span></div>
<div class="r" style="left:176.70px;top:460.35px;width:22.70px;height:11.44px;background:#f299f2;"></div>
<div class="c sf ar" style="left:176.7px;top:460.3px;width:22.7px;height:11.4px;line-height:12.7px;font-size:7px;color:#a04aa8;padding-right:5.2px;"><span style="transform:scaleX(0.78)">1744</span></div>
<div class="r" style="left:199.40px;top:460.35px;width:23.00px;height:11.44px;background:#f705f7;"></div>
<div class="c sf ar" style="left:199.4px;top:460.3px;width:23.0px;height:11.4px;line-height:12.7px;font-size:7px;color:#a010a8;padding-right:5.2px;"><span style="transform:scaleX(0.78)">12630</span></div>
<div class="r" style="left:222.40px;top:460.35px;width:23.00px;height:11.44px;background:#f705f7;"></div>
<div class="c sf ar" style="left:222.4px;top:460.3px;width:23.0px;height:11.4px;line-height:12.7px;font-size:7px;color:#a010a8;padding-right:5.2px;"><span style="transform:scaleX(0.78)">15670</span></div>
<div class="c sf ar" style="left:25.2px;top:459.9px;width:38.2px;height:11.4px;line-height:12.6px;font-size:12.4px;color:#000;font-weight:bold;padding-right:2.0px;"><span style="transform:scaleX(0.9)">15750</span></div>
<div class="c sf ar" style="left:13.3px;top:460.3px;width:11.9px;height:11.4px;line-height:11.4px;font-size:6.2px;color:#888;padding-right:1px;"><span style="transform:scaleX(0.85)">7</span></div>
<div class="r" style="left:85.20px;top:471.78px;width:23.00px;height:11.44px;background:#ccfccc;"></div>
<div class="c sf ar" style="left:85.2px;top:471.8px;width:23.0px;height:11.4px;line-height:12.7px;font-size:7px;color:#b39a3a;padding-right:2.3px;"><span style="transform:scaleX(0.78)">(1020)</span></div>
<div class="r" style="left:108.20px;top:471.78px;width:23.00px;height:11.44px;background:#d2fed2;"></div>
<div class="c sf ar" style="left:108.2px;top:471.8px;width:23.0px;height:11.4px;line-height:12.7px;font-size:7px;color:#b39a3a;padding-right:2.3px;"><span style="transform:scaleX(0.78)">(269)</span></div>
<div class="r" style="left:131.20px;top:471.78px;width:22.70px;height:11.44px;background:#a7ed9d;"></div>
<div class="c sf ar" style="left:131.2px;top:471.8px;width:22.7px;height:11.4px;line-height:12.7px;font-size:7px;color:#b39a3a;padding-right:2.3px;"><span style="transform:scaleX(0.78)">(2291)</span></div>
<div class="r" style="left:153.90px;top:471.78px;width:22.80px;height:11.44px;background:#f39ff3;"></div>
<div class="c sf ar" style="left:153.9px;top:471.8px;width:22.8px;height:11.4px;line-height:12.7px;font-size:7px;color:#a04aa8;padding-right:5.2px;"><span style="transform:scaleX(0.78)">1128</span></div>
<div class="r" style="left:176.70px;top:471.78px;width:22.70px;height:11.44px;background:#fdd1fd;"></div>
<div class="c sf ar" style="left:176.7px;top:471.8px;width:22.7px;height:11.4px;line-height:12.7px;font-size:7px;color:#a04aa8;padding-right:5.2px;"><span style="transform:scaleX(0.78)">332</span></div>
<div class="r" style="left:199.40px;top:471.78px;width:23.00px;height:11.44px;background:#f29bf2;"></div>
<div class="c sf ar" style="left:199.4px;top:471.8px;width:23.0px;height:11.4px;line-height:12.7px;font-size:7px;color:#a04aa8;padding-right:5.2px;"><span style="transform:scaleX(0.78)">1525</span></div>
<div class="r" style="left:222.40px;top:471.78px;width:23.00px;height:11.44px;background:#cffecf;"></div>
<div class="c sf ar" style="left:222.4px;top:471.8px;width:23.0px;height:11.4px;line-height:12.7px;font-size:7px;color:#b39a3a;padding-right:2.3px;"><span style="transform:scaleX(0.78)">(584)</span></div>
<div class="c sf ar" style="left:25.2px;top:471.4px;width:38.2px;height:11.4px;line-height:12.6px;font-size:12.4px;color:#000;font-weight:bold;padding-right:2.0px;"><span style="transform:scaleX(0.9)">15800</span></div>
<div class="c sf ar" style="left:13.3px;top:471.8px;width:11.9px;height:11.4px;line-height:11.4px;font-size:6.2px;color:#888;padding-right:1px;"><span style="transform:scaleX(0.85)">8</span></div>
<div class="r" style="left:85.20px;top:483.22px;width:23.00px;height:11.44px;background:#cafcca;"></div>
<div class="c sf ar" style="left:85.2px;top:483.2px;width:23.0px;height:11.4px;line-height:12.7px;font-size:7px;color:#b39a3a;padding-right:2.3px;"><span style="transform:scaleX(0.78)">(1189)</span></div>
<div class="r" style="left:108.20px;top:483.22px;width:23.00px;height:11.44px;background:#d3ffd3;"></div>
<div class="c sf ar" style="left:108.2px;top:483.2px;width:23.0px;height:11.4px;line-height:12.7px;font-size:7px;color:#b39a3a;padding-right:2.3px;"><span style="transform:scaleX(0.78)">(90)</span></div>
<div class="r" style="left:131.20px;top:483.22px;width:22.70px;height:11.44px;background:#d2fed2;"></div>
<div class="c sf ar" style="left:131.2px;top:483.2px;width:22.7px;height:11.4px;line-height:12.7px;font-size:7px;color:#b39a3a;padding-right:2.3px;"><span style="transform:scaleX(0.78)">(274)</span></div>
<div class="r" style="left:153.90px;top:483.22px;width:22.80px;height:11.44px;background:#94e486;"></div>
<div class="c sf ar" style="left:153.9px;top:483.2px;width:22.8px;height:11.4px;line-height:12.7px;font-size:7px;color:#b39a3a;padding-right:2.3px;"><span style="transform:scaleX(0.78)">(4238)</span></div>
<div class="r" style="left:176.70px;top:483.22px;width:22.70px;height:11.44px;background:#8fe280;"></div>
<div class="c sf ar" style="left:176.7px;top:483.2px;width:22.7px;height:11.4px;line-height:12.7px;font-size:7px;color:#b39a3a;padding-right:2.3px;"><span style="transform:scaleX(0.78)">(4711)</span></div>
<div class="r" style="left:199.40px;top:483.22px;width:23.00px;height:11.44px;background:#fdcffd;"></div>
<div class="c sf ar" style="left:199.4px;top:483.2px;width:23.0px;height:11.4px;line-height:12.7px;font-size:7px;color:#a04aa8;padding-right:5.2px;"><span style="transform:scaleX(0.78)">471</span></div>
<div class="r" style="left:222.40px;top:483.22px;width:23.00px;height:11.44px;background:#33b033;"></div>
<div class="c sf ar" style="left:222.4px;top:483.2px;width:23.0px;height:11.4px;line-height:12.7px;font-size:7px;color:#6a7a20;padding-right:2.3px;"><span style="transform:scaleX(0.78)">(9980)</span></div>
<div class="c sf ar" style="left:25.2px;top:482.8px;width:38.2px;height:11.4px;line-height:12.6px;font-size:12.4px;color:#000;font-weight:bold;padding-right:2.0px;"><span style="transform:scaleX(0.9)">15850</span></div>
<div class="c sf ar" style="left:13.3px;top:483.2px;width:11.9px;height:11.4px;line-height:11.4px;font-size:6.2px;color:#888;padding-right:1px;"><span style="transform:scaleX(0.85)">9</span></div>
<div class="r" style="left:85.20px;top:494.65px;width:23.00px;height:11.44px;background:#d3ffd3;"></div>
<div class="c sf ar" style="left:85.2px;top:494.6px;width:23.0px;height:11.4px;line-height:12.7px;font-size:7px;color:#b39a3a;padding-right:2.3px;"><span style="transform:scaleX(0.78)">(131)</span></div>
<div class="r" style="left:108.20px;top:494.65px;width:23.00px;height:11.44px;background:#fac4fa;"></div>
<div class="c sf ar" style="left:108.2px;top:494.6px;width:23.0px;height:11.4px;line-height:12.7px;font-size:7px;color:#a04aa8;padding-right:5.2px;"><span style="transform:scaleX(0.78)">995</span></div>
<div class="r" style="left:131.20px;top:494.65px;width:22.70px;height:11.44px;background:#fac5fa;"></div>
<div class="c sf ar" style="left:131.2px;top:494.6px;width:22.7px;height:11.4px;line-height:12.7px;font-size:7px;color:#a04aa8;padding-right:5.2px;"><span style="transform:scaleX(0.78)">974</span></div>
<div class="r" style="left:153.90px;top:494.65px;width:22.80px;height:11.44px;background:#cefdce;"></div>
<div class="c sf ar" style="left:153.9px;top:494.6px;width:22.8px;height:11.4px;line-height:12.7px;font-size:7px;color:#b39a3a;padding-right:2.3px;"><span style="transform:scaleX(0.78)">(790)</span></div>
<div class="r" style="left:176.70px;top:494.65px;width:22.70px;height:11.44px;background:#33b033;"></div>
<div class="c sf ar" style="left:176.7px;top:494.6px;width:22.7px;height:11.4px;line-height:12.7px;font-size:7px;color:#6a7a20;padding-right:2.3px;"><span style="transform:scaleX(0.78)">(6663)</span></div>
<div class="r" style="left:199.40px;top:494.65px;width:23.00px;height:11.44px;background:#f29bf2;"></div>
<div class="c sf ar" style="left:199.4px;top:494.6px;width:23.0px;height:11.4px;line-height:12.7px;font-size:7px;color:#a04aa8;padding-right:5.2px;"><span style="transform:scaleX(0.78)">1452</span></div>
<div class="r" style="left:222.40px;top:494.65px;width:23.00px;height:11.44px;background:#94e587;"></div>
<div class="c sf ar" style="left:222.4px;top:494.6px;width:23.0px;height:11.4px;line-height:12.7px;font-size:7px;color:#b39a3a;padding-right:2.3px;"><span style="transform:scaleX(0.78)">(4158)</span></div>
<div class="c sf ar" style="left:25.2px;top:494.2px;width:38.2px;height:11.4px;line-height:12.6px;font-size:12.4px;color:#000;font-weight:bold;padding-right:2.0px;"><span style="transform:scaleX(0.9)">15900</span></div>
<div class="c sf ar" style="left:13.3px;top:494.6px;width:11.9px;height:11.4px;line-height:11.4px;font-size:6.2px;color:#888;padding-right:1px;"><span style="transform:scaleX(0.85)">10</span></div>
<div class="r" style="left:85.20px;top:506.09px;width:23.00px;height:11.44px;background:#fccdfc;"></div>
<div class="c sf ar" style="left:85.2px;top:506.1px;width:23.0px;height:11.4px;line-height:12.7px;font-size:7px;color:#a04aa8;padding-right:5.2px;"><span style="transform:scaleX(0.78)">559</span></div>
<div class="r" style="left:108.20px;top:506.09px;width:23.00px;height:11.44px;background:#fbc9fb;"></div>
<div class="c sf ar" style="left:108.2px;top:506.1px;width:23.0px;height:11.4px;line-height:12.7px;font-size:7px;color:#a04aa8;padding-right:5.2px;"><span style="transform:scaleX(0.78)">728</span></div>
<div class="r" style="left:131.20px;top:506.09px;width:22.70px;height:11.44px;background:#fccdfc;"></div>
<div class="c sf ar" style="left:131.2px;top:506.1px;width:22.7px;height:11.4px;line-height:12.7px;font-size:7px;color:#a04aa8;padding-right:5.2px;"><span style="transform:scaleX(0.78)">548</span></div>
<div class="r" style="left:153.90px;top:506.09px;width:22.80px;height:11.44px;background:#ffd8ff;"></div>
<div class="c sf ar" style="left:153.9px;top:506.1px;width:22.8px;height:11.4px;line-height:12.7px;font-size:7px;color:#a04aa8;padding-right:5.2px;"><span style="transform:scaleX(0.78)">2</span></div>
<div class="r" style="left:176.70px;top:506.09px;width:22.70px;height:11.44px;background:#94e587;"></div>
<div class="c sf ar" style="left:176.7px;top:506.1px;width:22.7px;height:11.4px;line-height:12.7px;font-size:7px;color:#b39a3a;padding-right:2.3px;"><span style="transform:scaleX(0.78)">(4175)</span></div>
<div class="r" style="left:199.40px;top:506.09px;width:23.00px;height:11.44px;background:#f193f1;"></div>
<div class="c sf ar" style="left:199.4px;top:506.1px;width:23.0px;height:11.4px;line-height:12.7px;font-size:7px;color:#a04aa8;padding-right:5.2px;"><span style="transform:scaleX(0.78)">2332</span></div>
<div class="r" style="left:222.40px;top:506.09px;width:23.00px;height:11.44px;background:#d4ffd4;"></div>
<div class="c sf ar" style="left:222.4px;top:506.1px;width:23.0px;height:11.4px;line-height:12.7px;font-size:7px;color:#b39a3a;padding-right:2.3px;"><span style="transform:scaleX(0.78)">(6)</span></div>
<div class="c sf ar" style="left:25.2px;top:505.7px;width:38.2px;height:11.4px;line-height:12.6px;font-size:12.4px;color:#000;font-weight:bold;padding-right:2.0px;"><span style="transform:scaleX(0.9)">15950</span></div>
<div class="c sf ar" style="left:13.3px;top:506.1px;width:11.9px;height:11.4px;line-height:11.4px;font-size:6.2px;color:#888;padding-right:1px;"><span style="transform:scaleX(0.85)">11</span></div>
<div class="r" style="left:85.20px;top:517.52px;width:23.00px;height:11.44px;background:#fdd0fd;"></div>
<div class="c sf ar" style="left:85.2px;top:517.5px;width:23.0px;height:11.4px;line-height:12.7px;font-size:7px;color:#a04aa8;padding-right:5.2px;"><span style="transform:scaleX(0.78)">415</span></div>
<div class="r" style="left:108.20px;top:517.52px;width:23.00px;height:11.44px;background:#fcccfc;"></div>
<div class="c sf ar" style="left:108.2px;top:517.5px;width:23.0px;height:11.4px;line-height:12.7px;font-size:7px;color:#a04aa8;padding-right:5.2px;"><span style="transform:scaleX(0.78)">593</span></div>
<div class="r" style="left:131.20px;top:517.52px;width:22.70px;height:11.44px;background:#d1fed1;"></div>
<div class="c sf ar" style="left:131.2px;top:517.5px;width:22.7px;height:11.4px;line-height:12.7px;font-size:7px;color:#b39a3a;padding-right:2.3px;"><span style="transform:scaleX(0.78)">(402)</span></div>
<div class="r" style="left:153.90px;top:517.52px;width:22.80px;height:11.44px;background:#fac6fa;"></div>
<div class="c sf ar" style="left:153.9px;top:517.5px;width:22.8px;height:11.4px;line-height:12.7px;font-size:7px;color:#a04aa8;padding-right:5.2px;"><span style="transform:scaleX(0.78)">910</span></div>
<div class="r" style="left:176.70px;top:517.52px;width:22.70px;height:11.44px;background:#cbfccb;"></div>
<div class="c sf ar" style="left:176.7px;top:517.5px;width:22.7px;height:11.4px;line-height:12.7px;font-size:7px;color:#b39a3a;padding-right:2.3px;"><span style="transform:scaleX(0.78)">(1140)</span></div>
<div class="r" style="left:199.40px;top:517.52px;width:23.00px;height:11.44px;background:#f29df2;"></div>
<div class="c sf ar" style="left:199.4px;top:517.5px;width:23.0px;height:11.4px;line-height:12.7px;font-size:7px;color:#a04aa8;padding-right:5.2px;"><span style="transform:scaleX(0.78)">1334</span></div>
<div class="r" style="left:222.40px;top:517.52px;width:23.00px;height:11.44px;background:#f299f2;"></div>
<div class="c sf ar" style="left:222.4px;top:517.5px;width:23.0px;height:11.4px;line-height:12.7px;font-size:7px;color:#a04aa8;padding-right:5.2px;"><span style="transform:scaleX(0.78)">1710</span></div>
<div class="c sf ar" style="left:25.2px;top:517.1px;width:38.2px;height:11.4px;line-height:12.6px;font-size:12.4px;color:#000;font-weight:bold;padding-right:2.0px;"><span style="transform:scaleX(0.9)">16000</span></div>
<div class="c sf ar" style="left:13.3px;top:517.5px;width:11.9px;height:11.4px;line-height:11.4px;font-size:6.2px;color:#888;padding-right:1px;"><span style="transform:scaleX(0.85)">12</span></div>
<div class="r" style="left:85.20px;top:528.96px;width:23.00px;height:11.44px;background:#fdd1fd;"></div>
<div class="c sf ar" style="left:85.2px;top:529.0px;width:23.0px;height:11.4px;line-height:12.7px;font-size:7px;color:#a04aa8;padding-right:5.2px;"><span style="transform:scaleX(0.78)">368</span></div>
<div class="r" style="left:108.20px;top:528.96px;width:23.00px;height:11.44px;background:#fdcffd;"></div>
<div class="c sf ar" style="left:108.2px;top:529.0px;width:23.0px;height:11.4px;line-height:12.7px;font-size:7px;color:#a04aa8;padding-right:5.2px;"><span style="transform:scaleX(0.78)">463</span></div>
<div class="r" style="left:131.20px;top:528.96px;width:22.70px;height:11.44px;background:#fccbfc;"></div>
<div class="c sf ar" style="left:131.2px;top:529.0px;width:22.7px;height:11.4px;line-height:12.7px;font-size:7px;color:#a04aa8;padding-right:5.2px;"><span style="transform:scaleX(0.78)">658</span></div>
<div class="r" style="left:153.90px;top:528.96px;width:22.80px;height:11.44px;background:#fdcffd;"></div>
<div class="c sf ar" style="left:153.9px;top:529.0px;width:22.8px;height:11.4px;line-height:12.7px;font-size:7px;color:#a04aa8;padding-right:5.2px;"><span style="transform:scaleX(0.78)">438</span></div>
<div class="r" style="left:176.70px;top:528.96px;width:22.70px;height:11.44px;background:#f298f2;"></div>
<div class="c sf ar" style="left:176.7px;top:529.0px;width:22.7px;height:11.4px;line-height:12.7px;font-size:7px;color:#a04aa8;padding-right:5.2px;"><span style="transform:scaleX(0.78)">1777</span></div>
<div class="r" style="left:199.40px;top:528.96px;width:23.00px;height:11.44px;background:#d1fed1;"></div>
<div class="c sf ar" style="left:199.4px;top:529.0px;width:23.0px;height:11.4px;line-height:12.7px;font-size:7px;color:#b39a3a;padding-right:2.3px;"><span style="transform:scaleX(0.78)">(331)</span></div>
<div class="r" style="left:222.40px;top:528.96px;width:23.00px;height:11.44px;background:#ef88ef;"></div>
<div class="c sf ar" style="left:222.4px;top:529.0px;width:23.0px;height:11.4px;line-height:12.7px;font-size:7px;color:#a04aa8;padding-right:5.2px;"><span style="transform:scaleX(0.78)">3373</span></div>
<div class="c sf ar" style="left:25.2px;top:528.6px;width:38.2px;height:11.4px;line-height:12.6px;font-size:12.4px;color:#000;font-weight:bold;padding-right:2.0px;"><span style="transform:scaleX(0.9)">16050</span></div>
<div class="c sf ar" style="left:13.3px;top:529.0px;width:11.9px;height:11.4px;line-height:11.4px;font-size:6.2px;color:#888;padding-right:1px;"><span style="transform:scaleX(0.85)">13</span></div>
<div class="r" style="left:85.20px;top:540.39px;width:23.00px;height:11.44px;background:#d4ffd4;"></div>
<div class="c sf ar" style="left:85.2px;top:540.4px;width:23.0px;height:11.4px;line-height:12.7px;font-size:7px;color:#b39a3a;padding-right:2.3px;"><span style="transform:scaleX(0.78)">(4)</span></div>
<div class="r" style="left:108.20px;top:540.39px;width:23.00px;height:11.44px;background:#f197f1;"></div>
<div class="c sf ar" style="left:108.2px;top:540.4px;width:23.0px;height:11.4px;line-height:12.7px;font-size:7px;color:#a04aa8;padding-right:5.2px;"><span style="transform:scaleX(0.78)">1898</span></div>
<div class="r" style="left:131.20px;top:540.39px;width:22.70px;height:11.44px;background:#fbc8fb;"></div>
<div class="c sf ar" style="left:131.2px;top:540.4px;width:22.7px;height:11.4px;line-height:12.7px;font-size:7px;color:#a04aa8;padding-right:5.2px;"><span style="transform:scaleX(0.78)">786</span></div>
<div class="r" style="left:153.90px;top:540.39px;width:22.80px;height:11.44px;background:#fcccfc;"></div>
<div class="c sf ar" style="left:153.9px;top:540.4px;width:22.8px;height:11.4px;line-height:12.7px;font-size:7px;color:#a04aa8;padding-right:5.2px;"><span style="transform:scaleX(0.78)">619</span></div>
<div class="r" style="left:176.70px;top:540.39px;width:22.70px;height:11.44px;background:#cdfdcd;"></div>
<div class="c sf ar" style="left:176.7px;top:540.4px;width:22.7px;height:11.4px;line-height:12.7px;font-size:7px;color:#b39a3a;padding-right:2.3px;"><span style="transform:scaleX(0.78)">(854)</span></div>
<div class="r" style="left:199.40px;top:540.39px;width:23.00px;height:11.44px;background:#d2ffd2;"></div>
<div class="c sf ar" style="left:199.4px;top:540.4px;width:23.0px;height:11.4px;line-height:12.7px;font-size:7px;color:#b39a3a;padding-right:2.3px;"><span style="transform:scaleX(0.78)">(191)</span></div>
<div class="r" style="left:222.40px;top:540.39px;width:23.00px;height:11.44px;background:#f193f1;"></div>
<div class="c sf ar" style="left:222.4px;top:540.4px;width:23.0px;height:11.4px;line-height:12.7px;font-size:7px;color:#a04aa8;padding-right:5.2px;"><span style="transform:scaleX(0.78)">2254</span></div>
<div class="c sf ar" style="left:25.2px;top:540.0px;width:38.2px;height:11.4px;line-height:12.6px;font-size:12.4px;color:#000;font-weight:bold;padding-right:2.0px;"><span style="transform:scaleX(0.9)">16100</span></div>
<div class="c sf ar" style="left:13.3px;top:540.4px;width:11.9px;height:11.4px;line-height:11.4px;font-size:6.2px;color:#888;padding-right:1px;"><span style="transform:scaleX(0.85)">14</span></div>
<div class="c sf ar" style="left:85.2px;top:551.8px;width:23.0px;height:11.4px;line-height:12.7px;font-size:7px;color:#777;padding-right:5.2px;"><span style="transform:scaleX(0.78)">0</span></div>
<div class="c sf ar" style="left:108.2px;top:551.8px;width:23.0px;height:11.4px;line-height:12.7px;font-size:7px;color:#777;padding-right:5.2px;"><span style="transform:scaleX(0.78)">0</span></div>
<div class="c sf ar" style="left:131.2px;top:551.8px;width:22.7px;height:11.4px;line-height:12.7px;font-size:7px;color:#777;padding-right:5.2px;"><span style="transform:scaleX(0.78)">0</span></div>
<div class="c sf ar" style="left:153.9px;top:551.8px;width:22.8px;height:11.4px;line-height:12.7px;font-size:7px;color:#777;padding-right:5.2px;"><span style="transform:scaleX(0.78)">0</span></div>
<div class="r" style="left:176.70px;top:551.83px;width:22.70px;height:11.44px;background:#d0fed0;"></div>
<div class="c sf ar" style="left:176.7px;top:551.8px;width:22.7px;height:11.4px;line-height:12.7px;font-size:7px;color:#b39a3a;padding-right:2.3px;"><span style="transform:scaleX(0.78)">(512)</span></div>
<div class="r" style="left:199.40px;top:551.83px;width:23.00px;height:11.44px;background:#d4ffd4;"></div>
<div class="c sf ar" style="left:199.4px;top:551.8px;width:23.0px;height:11.4px;line-height:12.7px;font-size:7px;color:#b39a3a;padding-right:2.3px;"><span style="transform:scaleX(0.78)">(26)</span></div>
<div class="r" style="left:222.40px;top:551.83px;width:23.00px;height:11.44px;background:#d0fed0;"></div>
<div class="c sf ar" style="left:222.4px;top:551.8px;width:23.0px;height:11.4px;line-height:12.7px;font-size:7px;color:#b39a3a;padding-right:2.3px;"><span style="transform:scaleX(0.78)">(538)</span></div>
<div class="c sf ar" style="left:25.2px;top:551.4px;width:38.2px;height:11.4px;line-height:12.6px;font-size:12.4px;color:#000;font-weight:bold;padding-right:2.0px;"><span style="transform:scaleX(0.9)">16150</span></div>
<div class="c sf ar" style="left:13.3px;top:551.8px;width:11.9px;height:11.4px;line-height:11.4px;font-size:6.2px;color:#888;padding-right:1px;"><span style="transform:scaleX(0.85)">15</span></div>
<div class="r" style="left:85.20px;top:563.26px;width:23.00px;height:11.44px;background:#d3ffd3;"></div>
<div class="c sf ar" style="left:85.2px;top:563.3px;width:23.0px;height:11.4px;line-height:12.7px;font-size:7px;color:#b39a3a;padding-right:2.3px;"><span style="transform:scaleX(0.78)">(70)</span></div>
<div class="r" style="left:108.20px;top:563.26px;width:23.00px;height:11.44px;background:#fdd0fd;"></div>
<div class="c sf ar" style="left:108.2px;top:563.3px;width:23.0px;height:11.4px;line-height:12.7px;font-size:7px;color:#a04aa8;padding-right:5.2px;"><span style="transform:scaleX(0.78)">376</span></div>
<div class="r" style="left:131.20px;top:563.26px;width:22.70px;height:11.44px;background:#fed5fe;"></div>
<div class="c sf ar" style="left:131.2px;top:563.3px;width:22.7px;height:11.4px;line-height:12.7px;font-size:7px;color:#a04aa8;padding-right:5.2px;"><span style="transform:scaleX(0.78)">165</span></div>
<div class="r" style="left:153.90px;top:563.26px;width:22.80px;height:11.44px;background:#fdcffd;"></div>
<div class="c sf ar" style="left:153.9px;top:563.3px;width:22.8px;height:11.4px;line-height:12.7px;font-size:7px;color:#a04aa8;padding-right:5.2px;"><span style="transform:scaleX(0.78)">470</span></div>
<div class="r" style="left:176.70px;top:563.26px;width:22.70px;height:11.44px;background:#d3ffd3;"></div>
<div class="c sf ar" style="left:176.7px;top:563.3px;width:22.7px;height:11.4px;line-height:12.7px;font-size:7px;color:#b39a3a;padding-right:2.3px;"><span style="transform:scaleX(0.78)">(86)</span></div>
<div class="r" style="left:199.40px;top:563.26px;width:23.00px;height:11.44px;background:#d3ffd3;"></div>
<div class="c sf ar" style="left:199.4px;top:563.3px;width:23.0px;height:11.4px;line-height:12.7px;font-size:7px;color:#b39a3a;padding-right:2.3px;"><span style="transform:scaleX(0.78)">(93)</span></div>
<div class="r" style="left:222.40px;top:563.26px;width:23.00px;height:11.44px;background:#fbc9fb;"></div>
<div class="c sf ar" style="left:222.4px;top:563.3px;width:23.0px;height:11.4px;line-height:12.7px;font-size:7px;color:#a04aa8;padding-right:5.2px;"><span style="transform:scaleX(0.78)">763</span></div>
<div class="c sf ar" style="left:25.2px;top:562.9px;width:38.2px;height:11.4px;line-height:12.6px;font-size:12.4px;color:#000;font-weight:bold;padding-right:2.0px;"><span style="transform:scaleX(0.9)">16200</span></div>
<div class="c sf ar" style="left:13.3px;top:563.3px;width:11.9px;height:11.4px;line-height:11.4px;font-size:6.2px;color:#888;padding-right:1px;"><span style="transform:scaleX(0.85)">16</span></div>
<div class="c sf ar" style="left:85.2px;top:574.7px;width:23.0px;height:11.4px;line-height:12.7px;font-size:7px;color:#777;padding-right:5.2px;"><span style="transform:scaleX(0.78)">0</span></div>
<div class="c sf ar" style="left:108.2px;top:574.7px;width:23.0px;height:11.4px;line-height:12.7px;font-size:7px;color:#777;padding-right:5.2px;"><span style="transform:scaleX(0.78)">0</span></div>
<div class="c sf ar" style="left:131.2px;top:574.7px;width:22.7px;height:11.4px;line-height:12.7px;font-size:7px;color:#777;padding-right:5.2px;"><span style="transform:scaleX(0.78)">0</span></div>
<div class="c sf ar" style="left:153.9px;top:574.7px;width:22.8px;height:11.4px;line-height:12.7px;font-size:7px;color:#777;padding-right:5.2px;"><span style="transform:scaleX(0.78)">0</span></div>
<div class="c sf ar" style="left:176.7px;top:574.7px;width:22.7px;height:11.4px;line-height:12.7px;font-size:7px;color:#777;padding-right:5.2px;"><span style="transform:scaleX(0.78)">0</span></div>
<div class="c sf ar" style="left:199.4px;top:574.7px;width:23.0px;height:11.4px;line-height:12.7px;font-size:7px;color:#777;padding-right:5.2px;"><span style="transform:scaleX(0.78)">0</span></div>
<div class="c sf ar" style="left:222.4px;top:574.7px;width:23.0px;height:11.4px;line-height:12.7px;font-size:7px;color:#777;padding-right:5.2px;"><span style="transform:scaleX(0.78)">0</span></div>
<div class="c sf ar" style="left:25.2px;top:574.3px;width:38.2px;height:11.4px;line-height:12.6px;font-size:12.4px;color:#000;font-weight:bold;padding-right:2.0px;"><span style="transform:scaleX(0.9)">16250</span></div>
<div class="c sf ar" style="left:13.3px;top:574.7px;width:11.9px;height:11.4px;line-height:11.4px;font-size:6.2px;color:#888;padding-right:1px;"><span style="transform:scaleX(0.85)">17</span></div>
<div class="r" style="left:85.20px;top:586.13px;width:23.00px;height:11.44px;background:#fed4fe;"></div>
<div class="c sf ar" style="left:85.2px;top:586.1px;width:23.0px;height:11.4px;line-height:12.7px;font-size:7px;color:#a04aa8;padding-right:5.2px;"><span style="transform:scaleX(0.78)">199</span></div>
<div class="r" style="left:108.20px;top:586.13px;width:23.00px;height:11.44px;background:#fed3fe;"></div>
<div class="c sf ar" style="left:108.2px;top:586.1px;width:23.0px;height:11.4px;line-height:12.7px;font-size:7px;color:#a04aa8;padding-right:5.2px;"><span style="transform:scaleX(0.78)">254</span></div>
<div class="r" style="left:131.20px;top:586.13px;width:22.70px;height:11.44px;background:#d4ffd4;"></div>
<div class="c sf ar" style="left:131.2px;top:586.1px;width:22.7px;height:11.4px;line-height:12.7px;font-size:7px;color:#b39a3a;padding-right:2.3px;"><span style="transform:scaleX(0.78)">(58)</span></div>
<div class="r" style="left:153.90px;top:586.13px;width:22.80px;height:11.44px;background:#ffd7ff;"></div>
<div class="c sf ar" style="left:153.9px;top:586.1px;width:22.8px;height:11.4px;line-height:12.7px;font-size:7px;color:#a04aa8;padding-right:5.2px;"><span style="transform:scaleX(0.78)">54</span></div>
<div class="r" style="left:176.70px;top:586.13px;width:22.70px;height:11.44px;background:#d3ffd3;"></div>
<div class="c sf ar" style="left:176.7px;top:586.1px;width:22.7px;height:11.4px;line-height:12.7px;font-size:7px;color:#b39a3a;padding-right:2.3px;"><span style="transform:scaleX(0.78)">(176)</span></div>
<div class="r" style="left:199.40px;top:586.13px;width:23.00px;height:11.44px;background:#d0fed0;"></div>
<div class="c sf ar" style="left:199.4px;top:586.1px;width:23.0px;height:11.4px;line-height:12.7px;font-size:7px;color:#b39a3a;padding-right:2.3px;"><span style="transform:scaleX(0.78)">(461)</span></div>
<div class="r" style="left:222.40px;top:586.13px;width:23.00px;height:11.44px;background:#d2fed2;"></div>
<div class="c sf ar" style="left:222.4px;top:586.1px;width:23.0px;height:11.4px;line-height:12.7px;font-size:7px;color:#b39a3a;padding-right:2.3px;"><span style="transform:scaleX(0.78)">(248)</span></div>
<div class="c sf ar" style="left:25.2px;top:585.7px;width:38.2px;height:11.4px;line-height:12.6px;font-size:12.4px;color:#000;font-weight:bold;padding-right:2.0px;"><span style="transform:scaleX(0.9)">16300</span></div>
<div class="c sf ar" style="left:13.3px;top:586.1px;width:11.9px;height:11.4px;line-height:11.4px;font-size:6.2px;color:#888;padding-right:1px;"><span style="transform:scaleX(0.85)">18</span></div>
<div class="c sf ar" style="left:85.2px;top:597.6px;width:23.0px;height:11.4px;line-height:12.7px;font-size:7px;color:#777;padding-right:5.2px;"><span style="transform:scaleX(0.78)">0</span></div>
<div class="c sf ar" style="left:108.2px;top:597.6px;width:23.0px;height:11.4px;line-height:12.7px;font-size:7px;color:#777;padding-right:5.2px;"><span style="transform:scaleX(0.78)">0</span></div>
<div class="c sf ar" style="left:131.2px;top:597.6px;width:22.7px;height:11.4px;line-height:12.7px;font-size:7px;color:#777;padding-right:5.2px;"><span style="transform:scaleX(0.78)">0</span></div>
<div class="c sf ar" style="left:153.9px;top:597.6px;width:22.8px;height:11.4px;line-height:12.7px;font-size:7px;color:#777;padding-right:5.2px;"><span style="transform:scaleX(0.78)">0</span></div>
<div class="c sf ar" style="left:176.7px;top:597.6px;width:22.7px;height:11.4px;line-height:12.7px;font-size:7px;color:#777;padding-right:5.2px;"><span style="transform:scaleX(0.78)">0</span></div>
<div class="c sf ar" style="left:199.4px;top:597.6px;width:23.0px;height:11.4px;line-height:12.7px;font-size:7px;color:#777;padding-right:5.2px;"><span style="transform:scaleX(0.78)">0</span></div>
<div class="c sf ar" style="left:222.4px;top:597.6px;width:23.0px;height:11.4px;line-height:12.7px;font-size:7px;color:#777;padding-right:5.2px;"><span style="transform:scaleX(0.78)">0</span></div>
<div class="c sf ar" style="left:25.2px;top:597.2px;width:38.2px;height:11.4px;line-height:12.6px;font-size:12.4px;color:#000;font-weight:bold;padding-right:2.0px;"><span style="transform:scaleX(0.9)">16350</span></div>
<div class="c sf ar" style="left:13.3px;top:597.6px;width:11.9px;height:11.4px;line-height:11.4px;font-size:6.2px;color:#888;padding-right:1px;"><span style="transform:scaleX(0.85)">19</span></div>
<div class="r" style="left:85.20px;top:609.00px;width:23.00px;height:11.44px;background:#fed4fe;"></div>
<div class="c sf ar" style="left:85.2px;top:609.0px;width:23.0px;height:11.4px;line-height:12.7px;font-size:7px;color:#a04aa8;padding-right:5.2px;"><span style="transform:scaleX(0.78)">224</span></div>
<div class="r" style="left:108.20px;top:609.00px;width:23.00px;height:11.44px;background:#ffd7ff;"></div>
<div class="c sf ar" style="left:108.2px;top:609.0px;width:23.0px;height:11.4px;line-height:12.7px;font-size:7px;color:#a04aa8;padding-right:5.2px;"><span style="transform:scaleX(0.78)">50</span></div>
<div class="r" style="left:131.20px;top:609.00px;width:22.70px;height:11.44px;background:#d4ffd4;"></div>
<div class="c sf ar" style="left:131.2px;top:609.0px;width:22.7px;height:11.4px;line-height:12.7px;font-size:7px;color:#b39a3a;padding-right:2.3px;"><span style="transform:scaleX(0.78)">(12)</span></div>
<div class="r" style="left:153.90px;top:609.00px;width:22.80px;height:11.44px;background:#d4ffd4;"></div>
<div class="c sf ar" style="left:153.9px;top:609.0px;width:22.8px;height:11.4px;line-height:12.7px;font-size:7px;color:#b39a3a;padding-right:2.3px;"><span style="transform:scaleX(0.78)">(1)</span></div>
<div class="r" style="left:176.70px;top:609.00px;width:22.70px;height:11.44px;background:#d4ffd4;"></div>
<div class="c sf ar" style="left:176.7px;top:609.0px;width:22.7px;height:11.4px;line-height:12.7px;font-size:7px;color:#b39a3a;padding-right:2.3px;"><span style="transform:scaleX(0.78)">(22)</span></div>
<div class="r" style="left:199.40px;top:609.00px;width:23.00px;height:11.44px;background:#ffd8ff;"></div>
<div class="c sf ar" style="left:199.4px;top:609.0px;width:23.0px;height:11.4px;line-height:12.7px;font-size:7px;color:#a04aa8;padding-right:5.2px;"><span style="transform:scaleX(0.78)">3</span></div>
<div class="r" style="left:222.40px;top:609.00px;width:23.00px;height:11.44px;background:#fed3fe;"></div>
<div class="c sf ar" style="left:222.4px;top:609.0px;width:23.0px;height:11.4px;line-height:12.7px;font-size:7px;color:#a04aa8;padding-right:5.2px;"><span style="transform:scaleX(0.78)">238</span></div>
<div class="c sf ar" style="left:25.2px;top:609.0px;width:38.2px;height:11.4px;line-height:11.4px;font-size:6.4px;color:#777;padding-right:1.5px;"><span style="transform:scaleX(0.85)">16400</span></div>
<div class="c sf ar" style="left:13.3px;top:609.0px;width:11.9px;height:11.4px;line-height:11.4px;font-size:6.2px;color:#888;padding-right:1px;"><span style="transform:scaleX(0.85)">20</span></div>
<svg class="abs" style="left:0;top:0" width="260" height="640"><path d="M85.2 151.6H245.4 M85.2 163.03H245.4 M85.2 174.47H245.4 M85.2 185.91H245.4 M85.2 197.34H245.4 M85.2 208.78H245.4 M85.2 220.21H245.4 M85.2 231.64H245.4 M85.2 243.08H245.4 M85.2 254.51H245.4 M85.2 265.95H245.4 M85.2 277.38H245.4 M85.2 288.82H245.4 M85.2 300.25H245.4 M85.2 311.69H245.4 M85.2 323.12H245.4 M85.2 334.56H245.4 M85.2 346.0H245.4 M85.2 357.43H245.4 M85.2 368.87H245.4 M85.2 380.3H245.4 M85.2 391.74H245.4 M85.2 403.17H245.4 M85.2 414.61H245.4 M85.2 426.04H245.4 M85.2 437.48H245.4 M85.2 448.91H245.4 M85.2 460.35H245.4 M85.2 471.78H245.4 M85.2 483.22H245.4 M85.2 494.65H245.4 M85.2 506.09H245.4 M85.2 517.52H245.4 M85.2 528.96H245.4 M85.2 540.39H245.4 M85.2 551.83H245.4 M85.2 563.26H245.4 M85.2 574.7H245.4 M85.2 586.13H245.4 M85.2 597.57H245.4 M85.2 609.0H245.4 M85.2 151.60V620.44 M108.2 151.60V620.44 M131.2 151.60V620.44 M153.9 151.60V620.44 M176.7 151.60V620.44 M199.4 151.60V620.44 M222.4 151.60V620.44 M245.4 151.60V620.44" stroke="#333" stroke-width="1" fill="none"/><path d="M25.2 151.6H63.4 M25.2 163.03H63.4 M25.2 174.47H63.4 M25.2 185.91H63.4 M25.2 197.34H63.4 M25.2 208.78H63.4 M25.2 220.21H63.4 M25.2 231.64H63.4 M25.2 243.08H63.4 M25.2 254.51H63.4 M25.2 265.95H63.4 M25.2 277.38H63.4 M25.2 288.82H63.4 M25.2 300.25H63.4 M25.2 311.69H63.4 M25.2 323.12H63.4 M25.2 334.56H63.4 M25.2 346.0H63.4 M25.2 357.43H63.4 M25.2 368.87H63.4 M25.2 380.3H63.4 M25.2 391.74H63.4 M25.2 403.17H63.4 M25.2 414.61H63.4 M25.2 426.04H63.4 M25.2 437.48H63.4 M25.2 448.91H63.4 M25.2 460.35H63.4 M25.2 471.78H63.4 M25.2 483.22H63.4 M25.2 494.65H63.4 M25.2 506.09H63.4 M25.2 517.52H63.4 M25.2 528.96H63.4 M25.2 540.39H63.4 M25.2 551.83H63.4 M25.2 563.26H63.4 M25.2 574.7H63.4 M25.2 586.13H63.4 M25.2 597.57H63.4 M25.2 609.0H63.4 M25.2 151.60V609.00 M63.4 151.60V609.00" stroke="#000" stroke-width="1.1" fill="none"/><path d="M84.7 151.4V134.4H245.4V151.4" stroke="#000" stroke-width="2" fill="none"/><path d="M24.7 380.6H245.4 M24.7 392.0H245.4" stroke="#000" stroke-width="2" fill="none"/></svg>
<div class="c sf ar" style="left:268.2px;top:151.6px;width:30.2px;height:11.4px;line-height:13.4px;font-size:12.4px;color:#000;padding-right:4.6px;"><span style="transform:scaleX(0.77)">0</span></div>
<div class="c sf ar" style="left:298.4px;top:151.6px;width:30.2px;height:11.4px;line-height:13.4px;font-size:12.4px;color:#000;padding-right:4.6px;"><span style="transform:scaleX(0.77)">0</span></div>
<div class="c sf ar" style="left:328.6px;top:151.6px;width:30.2px;height:11.4px;line-height:13.4px;font-size:12.4px;color:#000;padding-right:4.6px;"><span style="transform:scaleX(0.77)">0</span></div>
<div class="c sf ar" style="left:358.8px;top:151.6px;width:30.2px;height:11.4px;line-height:13.4px;font-size:12.4px;color:#000;padding-right:4.6px;"><span style="transform:scaleX(0.77)">0</span></div>
<div class="r" style="left:389.00px;top:151.60px;width:30.20px;height:11.44px;background:#f7aff7;"></div>
<div class="c sf ar" style="left:389.0px;top:151.6px;width:30.2px;height:11.4px;line-height:13.4px;font-size:12.4px;color:#000;padding-right:4.6px;"><span style="transform:scaleX(0.77)">2037</span></div>
<div class="r" style="left:419.20px;top:151.60px;width:30.20px;height:11.44px;background:#f7aff7;"></div>
<div class="c sf ar" style="left:419.2px;top:151.6px;width:30.2px;height:11.4px;line-height:13.4px;font-size:12.4px;color:#000;padding-right:4.6px;"><span style="transform:scaleX(0.77)">2037</span></div>
<div class="r" style="left:449.40px;top:151.60px;width:30.20px;height:11.44px;background:#f5a1f5;"></div>
<div class="c sf ar" style="left:449.4px;top:151.6px;width:30.2px;height:11.4px;line-height:13.4px;font-size:12.4px;color:#000;padding-right:4.6px;"><span style="transform:scaleX(0.77)">3475</span></div>
<div class="r" style="left:479.60px;top:151.60px;width:30.20px;height:11.44px;background:#f9b6f9;"></div>
<div class="c sf ar" style="left:479.6px;top:151.6px;width:30.2px;height:11.4px;line-height:13.4px;font-size:12.4px;color:#000;padding-right:4.6px;"><span style="transform:scaleX(0.77)">1438</span></div>
<div class="c sf ar" style="left:268.2px;top:163.0px;width:30.2px;height:11.4px;line-height:13.4px;font-size:12.4px;color:#000;padding-right:4.6px;"><span style="transform:scaleX(0.77)">0</span></div>
<div class="c sf ar" style="left:298.4px;top:163.0px;width:30.2px;height:11.4px;line-height:13.4px;font-size:12.4px;color:#000;padding-right:4.6px;"><span style="transform:scaleX(0.77)">0</span></div>
<div class="c sf ar" style="left:328.6px;top:163.0px;width:30.2px;height:11.4px;line-height:13.4px;font-size:12.4px;color:#000;padding-right:4.6px;"><span style="transform:scaleX(0.77)">0</span></div>
<div class="c sf ar" style="left:358.8px;top:163.0px;width:30.2px;height:11.4px;line-height:13.4px;font-size:12.4px;color:#000;padding-right:4.6px;"><span style="transform:scaleX(0.77)">0</span></div>
<div class="c sf ar" style="left:389.0px;top:163.0px;width:30.2px;height:11.4px;line-height:13.4px;font-size:12.4px;color:#000;padding-right:4.6px;"><span style="transform:scaleX(0.77)">0</span></div>
<div class="c sf ar" style="left:419.2px;top:163.0px;width:30.2px;height:11.4px;line-height:13.4px;font-size:12.4px;color:#000;padding-right:4.6px;"><span style="transform:scaleX(0.77)">0</span></div>
<div class="c sf ar" style="left:449.4px;top:163.0px;width:30.2px;height:11.4px;line-height:13.4px;font-size:12.4px;color:#000;padding-right:4.6px;"><span style="transform:scaleX(0.77)">0</span></div>
<div class="c sf ar" style="left:479.6px;top:163.0px;width:30.2px;height:11.4px;line-height:13.4px;font-size:12.4px;color:#000;padding-right:4.6px;"><span style="transform:scaleX(0.77)">0</span></div>
<div class="c sf ar" style="left:268.2px;top:174.5px;width:30.2px;height:11.4px;line-height:13.4px;font-size:12.4px;color:#000;padding-right:4.6px;"><span style="transform:scaleX(0.77)">0</span></div>
<div class="c sf ar" style="left:298.4px;top:174.5px;width:30.2px;height:11.4px;line-height:13.4px;font-size:12.4px;color:#000;padding-right:4.6px;"><span style="transform:scaleX(0.77)">0</span></div>
<div class="c sf ar" style="left:328.6px;top:174.5px;width:30.2px;height:11.4px;line-height:13.4px;font-size:12.4px;color:#000;padding-right:4.6px;"><span style="transform:scaleX(0.77)">0</span></div>
<div class="c sf ar" style="left:358.8px;top:174.5px;width:30.2px;height:11.4px;line-height:13.4px;font-size:12.4px;color:#000;padding-right:4.6px;"><span style="transform:scaleX(0.77)">0</span></div>
<div class="r" style="left:389.00px;top:174.47px;width:30.20px;height:11.44px;background:#f8b4f8;"></div>
<div class="c sf ar" style="left:389.0px;top:174.5px;width:30.2px;height:11.4px;line-height:13.4px;font-size:12.4px;color:#000;padding-right:4.6px;"><span style="transform:scaleX(0.77)">1530</span></div>
<div class="r" style="left:419.20px;top:174.47px;width:30.20px;height:11.44px;background:#f8b4f8;"></div>
<div class="c sf ar" style="left:419.2px;top:174.5px;width:30.2px;height:11.4px;line-height:13.4px;font-size:12.4px;color:#000;padding-right:4.6px;"><span style="transform:scaleX(0.77)">1530</span></div>
<div class="r" style="left:449.40px;top:174.47px;width:30.20px;height:11.44px;background:#f8b2f8;"></div>
<div class="c sf ar" style="left:449.4px;top:174.5px;width:30.2px;height:11.4px;line-height:13.4px;font-size:12.4px;color:#000;padding-right:4.6px;"><span style="transform:scaleX(0.77)">1711</span></div>
<div class="r" style="left:479.60px;top:174.47px;width:30.20px;height:11.44px;background:#fdcdfd;"></div>
<div class="c sf ar" style="left:479.6px;top:174.5px;width:30.2px;height:11.4px;line-height:13.4px;font-size:12.4px;color:#000;padding-right:4.6px;"><span style="transform:scaleX(0.77)">181</span></div>
<div class="c sf ar" style="left:268.2px;top:185.9px;width:30.2px;height:11.4px;line-height:13.4px;font-size:12.4px;color:#000;padding-right:4.6px;"><span style="transform:scaleX(0.77)">0</span></div>
<div class="c sf ar" style="left:298.4px;top:185.9px;width:30.2px;height:11.4px;line-height:13.4px;font-size:12.4px;color:#000;padding-right:4.6px;"><span style="transform:scaleX(0.77)">0</span></div>
<div class="c sf ar" style="left:328.6px;top:185.9px;width:30.2px;height:11.4px;line-height:13.4px;font-size:12.4px;color:#000;padding-right:4.6px;"><span style="transform:scaleX(0.77)">0</span></div>
<div class="c sf ar" style="left:358.8px;top:185.9px;width:30.2px;height:11.4px;line-height:13.4px;font-size:12.4px;color:#000;padding-right:4.6px;"><span style="transform:scaleX(0.77)">0</span></div>
<div class="c sf ar" style="left:389.0px;top:185.9px;width:30.2px;height:11.4px;line-height:13.4px;font-size:12.4px;color:#000;padding-right:4.6px;"><span style="transform:scaleX(0.77)">0</span></div>
<div class="c sf ar" style="left:419.2px;top:185.9px;width:30.2px;height:11.4px;line-height:13.4px;font-size:12.4px;color:#000;padding-right:4.6px;"><span style="transform:scaleX(0.77)">0</span></div>
<div class="c sf ar" style="left:449.4px;top:185.9px;width:30.2px;height:11.4px;line-height:13.4px;font-size:12.4px;color:#000;padding-right:4.6px;"><span style="transform:scaleX(0.77)">0</span></div>
<div class="c sf ar" style="left:479.6px;top:185.9px;width:30.2px;height:11.4px;line-height:13.4px;font-size:12.4px;color:#000;padding-right:4.6px;"><span style="transform:scaleX(0.77)">0</span></div>
<div class="c sf ar" style="left:268.2px;top:197.3px;width:30.2px;height:11.4px;line-height:13.4px;font-size:12.4px;color:#000;padding-right:4.6px;"><span style="transform:scaleX(0.77)">0</span></div>
<div class="r" style="left:298.40px;top:197.34px;width:30.20px;height:11.44px;background:#ffd9ff;"></div>
<div class="c sf ar" style="left:298.4px;top:197.3px;width:30.2px;height:11.4px;line-height:13.4px;font-size:12.4px;color:#000;padding-right:4.6px;"><span style="transform:scaleX(0.77)">2</span></div>
<div class="r" style="left:328.60px;top:197.34px;width:30.20px;height:11.44px;background:#ffd9ff;"></div>
<div class="c sf ar" style="left:328.6px;top:197.3px;width:30.2px;height:11.4px;line-height:13.4px;font-size:12.4px;color:#000;padding-right:4.6px;"><span style="transform:scaleX(0.77)">2</span></div>
<div class="c sf ar" style="left:358.8px;top:197.3px;width:30.2px;height:11.4px;line-height:13.4px;font-size:12.4px;color:#000;padding-right:4.6px;"><span style="transform:scaleX(0.77)">0</span></div>
<div class="r" style="left:389.00px;top:197.34px;width:30.20px;height:11.44px;background:#f7aef7;"></div>
<div class="c sf ar" style="left:389.0px;top:197.3px;width:30.2px;height:11.4px;line-height:13.4px;font-size:12.4px;color:#000;padding-right:4.6px;"><span style="transform:scaleX(0.77)">2089</span></div>
<div class="r" style="left:419.20px;top:197.34px;width:30.20px;height:11.44px;background:#f7aef7;"></div>
<div class="c sf ar" style="left:419.2px;top:197.3px;width:30.2px;height:11.4px;line-height:13.4px;font-size:12.4px;color:#000;padding-right:4.6px;"><span style="transform:scaleX(0.77)">2089</span></div>
<div class="r" style="left:449.40px;top:197.34px;width:30.20px;height:11.44px;background:#f7aff7;"></div>
<div class="c sf ar" style="left:449.4px;top:197.3px;width:30.2px;height:11.4px;line-height:13.4px;font-size:12.4px;color:#000;padding-right:4.6px;"><span style="transform:scaleX(0.77)">1991</span></div>
<div class="r" style="left:479.60px;top:197.34px;width:30.20px;height:11.44px;background:#d2fed1;"></div>
<div class="c sf ar" style="left:479.6px;top:197.3px;width:30.2px;height:11.4px;line-height:13.4px;font-size:12.4px;color:#b8501e;padding-right:1.6px;"><span style="transform:scaleX(0.77)">(98)</span></div>
<div class="c sf ar" style="left:268.2px;top:208.8px;width:30.2px;height:11.4px;line-height:13.4px;font-size:12.4px;color:#000;padding-right:4.6px;"><span style="transform:scaleX(0.77)">0</span></div>
<div class="c sf ar" style="left:298.4px;top:208.8px;width:30.2px;height:11.4px;line-height:13.4px;font-size:12.4px;color:#000;padding-right:4.6px;"><span style="transform:scaleX(0.77)">0</span></div>
<div class="c sf ar" style="left:328.6px;top:208.8px;width:30.2px;height:11.4px;line-height:13.4px;font-size:12.4px;color:#000;padding-right:4.6px;"><span style="transform:scaleX(0.77)">0</span></div>
<div class="c sf ar" style="left:358.8px;top:208.8px;width:30.2px;height:11.4px;line-height:13.4px;font-size:12.4px;color:#000;padding-right:4.6px;"><span style="transform:scaleX(0.77)">0</span></div>
<div class="c sf ar" style="left:389.0px;top:208.8px;width:30.2px;height:11.4px;line-height:13.4px;font-size:12.4px;color:#000;padding-right:4.6px;"><span style="transform:scaleX(0.77)">0</span></div>
<div class="c sf ar" style="left:419.2px;top:208.8px;width:30.2px;height:11.4px;line-height:13.4px;font-size:12.4px;color:#000;padding-right:4.6px;"><span style="transform:scaleX(0.77)">0</span></div>
<div class="c sf ar" style="left:449.4px;top:208.8px;width:30.2px;height:11.4px;line-height:13.4px;font-size:12.4px;color:#000;padding-right:4.6px;"><span style="transform:scaleX(0.77)">0</span></div>
<div class="c sf ar" style="left:479.6px;top:208.8px;width:30.2px;height:11.4px;line-height:13.4px;font-size:12.4px;color:#000;padding-right:4.6px;"><span style="transform:scaleX(0.77)">0</span></div>
<div class="c sf ar" style="left:268.2px;top:220.2px;width:30.2px;height:11.4px;line-height:13.4px;font-size:12.4px;color:#000;padding-right:4.6px;"><span style="transform:scaleX(0.77)">0</span></div>
<div class="r" style="left:298.40px;top:220.21px;width:30.20px;height:11.44px;background:#fed4fe;"></div>
<div class="c sf ar" style="left:298.4px;top:220.2px;width:30.2px;height:11.4px;line-height:13.4px;font-size:12.4px;color:#000;padding-right:4.6px;"><span style="transform:scaleX(0.77)">36</span></div>
<div class="r" style="left:328.60px;top:220.21px;width:30.20px;height:11.44px;background:#fed4fe;"></div>
<div class="c sf ar" style="left:328.6px;top:220.2px;width:30.2px;height:11.4px;line-height:13.4px;font-size:12.4px;color:#000;padding-right:4.6px;"><span style="transform:scaleX(0.77)">36</span></div>
<div class="c sf ar" style="left:358.8px;top:220.2px;width:30.2px;height:11.4px;line-height:13.4px;font-size:12.4px;color:#000;padding-right:4.6px;"><span style="transform:scaleX(0.77)">0</span></div>
<div class="r" style="left:389.00px;top:220.21px;width:30.20px;height:11.44px;background:#f6a6f6;"></div>
<div class="c sf ar" style="left:389.0px;top:220.2px;width:30.2px;height:11.4px;line-height:13.4px;font-size:12.4px;color:#000;padding-right:4.6px;"><span style="transform:scaleX(0.77)">2965</span></div>
<div class="r" style="left:419.20px;top:220.21px;width:30.20px;height:11.44px;background:#f6a6f6;"></div>
<div class="c sf ar" style="left:419.2px;top:220.2px;width:30.2px;height:11.4px;line-height:13.4px;font-size:12.4px;color:#000;padding-right:4.6px;"><span style="transform:scaleX(0.77)">2965</span></div>
<div class="r" style="left:449.40px;top:220.21px;width:30.20px;height:11.44px;background:#f5a3f5;"></div>
<div class="c sf ar" style="left:449.4px;top:220.2px;width:30.2px;height:11.4px;line-height:13.4px;font-size:12.4px;color:#000;padding-right:4.6px;"><span style="transform:scaleX(0.77)">3217</span></div>
<div class="r" style="left:479.60px;top:220.21px;width:30.20px;height:11.44px;background:#fccbfc;"></div>
<div class="c sf ar" style="left:479.6px;top:220.2px;width:30.2px;height:11.4px;line-height:13.4px;font-size:12.4px;color:#000;padding-right:4.6px;"><span style="transform:scaleX(0.77)">252</span></div>
<div class="c sf ar" style="left:268.2px;top:231.6px;width:30.2px;height:11.4px;line-height:13.4px;font-size:12.4px;color:#000;padding-right:4.6px;"><span style="transform:scaleX(0.77)">0</span></div>
<div class="c sf ar" style="left:298.4px;top:231.6px;width:30.2px;height:11.4px;line-height:13.4px;font-size:12.4px;color:#000;padding-right:4.6px;"><span style="transform:scaleX(0.77)">0</span></div>
<div class="c sf ar" style="left:328.6px;top:231.6px;width:30.2px;height:11.4px;line-height:13.4px;font-size:12.4px;color:#000;padding-right:4.6px;"><span style="transform:scaleX(0.77)">0</span></div>
<div class="c sf ar" style="left:358.8px;top:231.6px;width:30.2px;height:11.4px;line-height:13.4px;font-size:12.4px;color:#000;padding-right:4.6px;"><span style="transform:scaleX(0.77)">0</span></div>
<div class="c sf ar" style="left:389.0px;top:231.6px;width:30.2px;height:11.4px;line-height:13.4px;font-size:12.4px;color:#000;padding-right:4.6px;"><span style="transform:scaleX(0.77)">0</span></div>
<div class="c sf ar" style="left:419.2px;top:231.6px;width:30.2px;height:11.4px;line-height:13.4px;font-size:12.4px;color:#000;padding-right:4.6px;"><span style="transform:scaleX(0.77)">0</span></div>
<div class="c sf ar" style="left:449.4px;top:231.6px;width:30.2px;height:11.4px;line-height:13.4px;font-size:12.4px;color:#000;padding-right:4.6px;"><span style="transform:scaleX(0.77)">0</span></div>
<div class="c sf ar" style="left:479.6px;top:231.6px;width:30.2px;height:11.4px;line-height:13.4px;font-size:12.4px;color:#000;padding-right:4.6px;"><span style="transform:scaleX(0.77)">0</span></div>
<div class="c sf ar" style="left:268.2px;top:243.1px;width:30.2px;height:11.4px;line-height:13.4px;font-size:12.4px;color:#000;padding-right:4.6px;"><span style="transform:scaleX(0.77)">0</span></div>
<div class="r" style="left:298.40px;top:243.08px;width:30.20px;height:11.44px;background:#ffd8ff;"></div>
<div class="c sf ar" style="left:298.4px;top:243.1px;width:30.2px;height:11.4px;line-height:13.4px;font-size:12.4px;color:#000;padding-right:4.6px;"><span style="transform:scaleX(0.77)">3</span></div>
<div class="r" style="left:328.60px;top:243.08px;width:30.20px;height:11.44px;background:#ffd8ff;"></div>
<div class="c sf ar" style="left:328.6px;top:243.1px;width:30.2px;height:11.4px;line-height:13.4px;font-size:12.4px;color:#000;padding-right:4.6px;"><span style="transform:scaleX(0.77)">3</span></div>
<div class="r" style="left:358.80px;top:243.08px;width:30.20px;height:11.44px;background:#d4ffd4;"></div>
<div class="c sf ar" style="left:358.8px;top:243.1px;width:30.2px;height:11.4px;line-height:13.4px;font-size:12.4px;color:#b8501e;padding-right:1.6px;"><span style="transform:scaleX(0.77)">(1)</span></div>
<div class="r" style="left:389.00px;top:243.08px;width:30.20px;height:11.44px;background:#f49bf4;"></div>
<div class="c sf ar" style="left:389.0px;top:243.1px;width:30.2px;height:11.4px;line-height:13.4px;font-size:12.4px;color:#000;padding-right:4.6px;"><span style="transform:scaleX(0.77)">4294</span></div>
<div class="r" style="left:419.20px;top:243.08px;width:30.20px;height:11.44px;background:#f49bf4;"></div>
<div class="c sf ar" style="left:419.2px;top:243.1px;width:30.2px;height:11.4px;line-height:13.4px;font-size:12.4px;color:#000;padding-right:4.6px;"><span style="transform:scaleX(0.77)">4293</span></div>
<div class="r" style="left:449.40px;top:243.08px;width:30.20px;height:11.44px;background:#f49bf4;"></div>
<div class="c sf ar" style="left:449.4px;top:243.1px;width:30.2px;height:11.4px;line-height:13.4px;font-size:12.4px;color:#000;padding-right:4.6px;"><span style="transform:scaleX(0.77)">4257</span></div>
<div class="r" style="left:479.60px;top:243.08px;width:30.20px;height:11.44px;background:#d3ffd3;"></div>
<div class="c sf ar" style="left:479.6px;top:243.1px;width:30.2px;height:11.4px;line-height:13.4px;font-size:12.4px;color:#b8501e;padding-right:1.6px;"><span style="transform:scaleX(0.77)">(36)</span></div>
<div class="c sf ar" style="left:268.2px;top:254.5px;width:30.2px;height:11.4px;line-height:13.4px;font-size:12.4px;color:#000;padding-right:4.6px;"><span style="transform:scaleX(0.77)">0</span></div>
<div class="c sf ar" style="left:298.4px;top:254.5px;width:30.2px;height:11.4px;line-height:13.4px;font-size:12.4px;color:#000;padding-right:4.6px;"><span style="transform:scaleX(0.77)">0</span></div>
<div class="c sf ar" style="left:328.6px;top:254.5px;width:30.2px;height:11.4px;line-height:13.4px;font-size:12.4px;color:#000;padding-right:4.6px;"><span style="transform:scaleX(0.77)">0</span></div>
<div class="c sf ar" style="left:358.8px;top:254.5px;width:30.2px;height:11.4px;line-height:13.4px;font-size:12.4px;color:#000;padding-right:4.6px;"><span style="transform:scaleX(0.77)">0</span></div>
<div class="c sf ar" style="left:389.0px;top:254.5px;width:30.2px;height:11.4px;line-height:13.4px;font-size:12.4px;color:#000;padding-right:4.6px;"><span style="transform:scaleX(0.77)">0</span></div>
<div class="c sf ar" style="left:419.2px;top:254.5px;width:30.2px;height:11.4px;line-height:13.4px;font-size:12.4px;color:#000;padding-right:4.6px;"><span style="transform:scaleX(0.77)">0</span></div>
<div class="c sf ar" style="left:449.4px;top:254.5px;width:30.2px;height:11.4px;line-height:13.4px;font-size:12.4px;color:#000;padding-right:4.6px;"><span style="transform:scaleX(0.77)">0</span></div>
<div class="c sf ar" style="left:479.6px;top:254.5px;width:30.2px;height:11.4px;line-height:13.4px;font-size:12.4px;color:#000;padding-right:4.6px;"><span style="transform:scaleX(0.77)">0</span></div>
<div class="r" style="left:268.20px;top:265.95px;width:30.20px;height:11.44px;background:#d4ffd4;"></div>
<div class="c sf ar" style="left:268.2px;top:265.9px;width:30.2px;height:11.4px;line-height:13.4px;font-size:12.4px;color:#b8501e;padding-right:1.6px;"><span style="transform:scaleX(0.77)">(1)</span></div>
<div class="r" style="left:298.40px;top:265.95px;width:30.20px;height:11.44px;background:#fed4fe;"></div>
<div class="c sf ar" style="left:298.4px;top:265.9px;width:30.2px;height:11.4px;line-height:13.4px;font-size:12.4px;color:#000;padding-right:4.6px;"><span style="transform:scaleX(0.77)">37</span></div>
<div class="r" style="left:328.60px;top:265.95px;width:30.20px;height:11.44px;background:#fed4fe;"></div>
<div class="c sf ar" style="left:328.6px;top:265.9px;width:30.2px;height:11.4px;line-height:13.4px;font-size:12.4px;color:#000;padding-right:4.6px;"><span style="transform:scaleX(0.77)">36</span></div>
<div class="r" style="left:358.80px;top:265.95px;width:30.20px;height:11.44px;background:#d3ffd3;"></div>
<div class="c sf ar" style="left:358.8px;top:265.9px;width:30.2px;height:11.4px;line-height:13.4px;font-size:12.4px;color:#b8501e;padding-right:1.6px;"><span style="transform:scaleX(0.77)">(29)</span></div>
<div class="r" style="left:389.00px;top:265.95px;width:30.20px;height:11.44px;background:#f5a3f5;"></div>
<div class="c sf ar" style="left:389.0px;top:265.9px;width:30.2px;height:11.4px;line-height:13.4px;font-size:12.4px;color:#000;padding-right:4.6px;"><span style="transform:scaleX(0.77)">3303</span></div>
<div class="r" style="left:419.20px;top:265.95px;width:30.20px;height:11.44px;background:#f5a3f5;"></div>
<div class="c sf ar" style="left:419.2px;top:265.9px;width:30.2px;height:11.4px;line-height:13.4px;font-size:12.4px;color:#000;padding-right:4.6px;"><span style="transform:scaleX(0.77)">3274</span></div>
<div class="r" style="left:449.40px;top:265.95px;width:30.20px;height:11.44px;background:#f499f4;"></div>
<div class="c sf ar" style="left:449.4px;top:265.9px;width:30.2px;height:11.4px;line-height:13.4px;font-size:12.4px;color:#000;padding-right:4.6px;"><span style="transform:scaleX(0.77)">4576</span></div>
<div class="r" style="left:479.60px;top:265.95px;width:30.20px;height:11.44px;background:#f9b7f9;"></div>
<div class="c sf ar" style="left:479.6px;top:265.9px;width:30.2px;height:11.4px;line-height:13.4px;font-size:12.4px;color:#000;padding-right:4.6px;"><span style="transform:scaleX(0.77)">1302</span></div>
<div class="c sf ar" style="left:268.2px;top:277.4px;width:30.2px;height:11.4px;line-height:13.4px;font-size:12.4px;color:#000;padding-right:4.6px;"><span style="transform:scaleX(0.77)">0</span></div>
<div class="c sf ar" style="left:298.4px;top:277.4px;width:30.2px;height:11.4px;line-height:13.4px;font-size:12.4px;color:#000;padding-right:4.6px;"><span style="transform:scaleX(0.77)">0</span></div>
<div class="c sf ar" style="left:328.6px;top:277.4px;width:30.2px;height:11.4px;line-height:13.4px;font-size:12.4px;color:#000;padding-right:4.6px;"><span style="transform:scaleX(0.77)">0</span></div>
<div class="c sf ar" style="left:358.8px;top:277.4px;width:30.2px;height:11.4px;line-height:13.4px;font-size:12.4px;color:#000;padding-right:4.6px;"><span style="transform:scaleX(0.77)">0</span></div>
<div class="c sf ar" style="left:389.0px;top:277.4px;width:30.2px;height:11.4px;line-height:13.4px;font-size:12.4px;color:#000;padding-right:4.6px;"><span style="transform:scaleX(0.77)">0</span></div>
<div class="c sf ar" style="left:419.2px;top:277.4px;width:30.2px;height:11.4px;line-height:13.4px;font-size:12.4px;color:#000;padding-right:4.6px;"><span style="transform:scaleX(0.77)">0</span></div>
<div class="c sf ar" style="left:449.4px;top:277.4px;width:30.2px;height:11.4px;line-height:13.4px;font-size:12.4px;color:#000;padding-right:4.6px;"><span style="transform:scaleX(0.77)">0</span></div>
<div class="c sf ar" style="left:479.6px;top:277.4px;width:30.2px;height:11.4px;line-height:13.4px;font-size:12.4px;color:#000;padding-right:4.6px;"><span style="transform:scaleX(0.77)">0</span></div>
<div class="r" style="left:268.20px;top:288.82px;width:30.20px;height:11.44px;background:#d4ffd4;"></div>
<div class="c sf ar" style="left:268.2px;top:288.8px;width:30.2px;height:11.4px;line-height:13.4px;font-size:12.4px;color:#b8501e;padding-right:1.6px;"><span style="transform:scaleX(0.77)">(1)</span></div>
<div class="r" style="left:298.40px;top:288.82px;width:30.20px;height:11.44px;background:#fccafc;"></div>
<div class="c sf ar" style="left:298.4px;top:288.8px;width:30.2px;height:11.4px;line-height:13.4px;font-size:12.4px;color:#000;padding-right:4.6px;"><span style="transform:scaleX(0.77)">261</span></div>
<div class="r" style="left:328.60px;top:288.82px;width:30.20px;height:11.44px;background:#fccafc;"></div>
<div class="c sf ar" style="left:328.6px;top:288.8px;width:30.2px;height:11.4px;line-height:13.4px;font-size:12.4px;color:#000;padding-right:4.6px;"><span style="transform:scaleX(0.77)">260</span></div>
<div class="r" style="left:358.80px;top:288.82px;width:30.20px;height:11.44px;background:#d3ffd3;"></div>
<div class="c sf ar" style="left:358.8px;top:288.8px;width:30.2px;height:11.4px;line-height:13.4px;font-size:12.4px;color:#b8501e;padding-right:1.6px;"><span style="transform:scaleX(0.77)">(20)</span></div>
<div class="r" style="left:389.00px;top:288.82px;width:30.20px;height:11.44px;background:#f705f7;"></div>
<div class="c sf ar" style="left:389.0px;top:288.8px;width:30.2px;height:11.4px;line-height:13.4px;font-size:12.4px;color:#4a0a5a;padding-right:4.6px;"><span style="transform:scaleX(0.77)">5632</span></div>
<div class="r" style="left:419.20px;top:288.82px;width:30.20px;height:11.44px;background:#f705f7;"></div>
<div class="c sf ar" style="left:419.2px;top:288.8px;width:30.2px;height:11.4px;line-height:13.4px;font-size:12.4px;color:#4a0a5a;padding-right:4.6px;"><span style="transform:scaleX(0.77)">5612</span></div>
<div class="r" style="left:449.40px;top:288.82px;width:30.20px;height:11.44px;background:#f705f7;"></div>
<div class="c sf ar" style="left:449.4px;top:288.8px;width:30.2px;height:11.4px;line-height:13.4px;font-size:12.4px;color:#4a0a5a;padding-right:4.6px;"><span style="transform:scaleX(0.77)">6258</span></div>
<div class="r" style="left:479.60px;top:288.82px;width:30.20px;height:11.44px;background:#fbc2fb;"></div>
<div class="c sf ar" style="left:479.6px;top:288.8px;width:30.2px;height:11.4px;line-height:13.4px;font-size:12.4px;color:#000;padding-right:4.6px;"><span style="transform:scaleX(0.77)">646</span></div>
<div class="c sf ar" style="left:268.2px;top:300.3px;width:30.2px;height:11.4px;line-height:13.4px;font-size:12.4px;color:#000;padding-right:4.6px;"><span style="transform:scaleX(0.77)">0</span></div>
<div class="r" style="left:298.40px;top:300.25px;width:30.20px;height:11.44px;background:#fed5fe;"></div>
<div class="c sf ar" style="left:298.4px;top:300.3px;width:30.2px;height:11.4px;line-height:13.4px;font-size:12.4px;color:#000;padding-right:4.6px;"><span style="transform:scaleX(0.77)">26</span></div>
<div class="r" style="left:328.60px;top:300.25px;width:30.20px;height:11.44px;background:#fed5fe;"></div>
<div class="c sf ar" style="left:328.6px;top:300.3px;width:30.2px;height:11.4px;line-height:13.4px;font-size:12.4px;color:#000;padding-right:4.6px;"><span style="transform:scaleX(0.77)">26</span></div>
<div class="r" style="left:358.80px;top:300.25px;width:30.20px;height:11.44px;background:#d4ffd4;"></div>
<div class="c sf ar" style="left:358.8px;top:300.3px;width:30.2px;height:11.4px;line-height:13.4px;font-size:12.4px;color:#b8501e;padding-right:1.6px;"><span style="transform:scaleX(0.77)">(2)</span></div>
<div class="r" style="left:389.00px;top:300.25px;width:30.20px;height:11.44px;background:#f7adf7;"></div>
<div class="c sf ar" style="left:389.0px;top:300.3px;width:30.2px;height:11.4px;line-height:13.4px;font-size:12.4px;color:#000;padding-right:4.6px;"><span style="transform:scaleX(0.77)">2231</span></div>
<div class="r" style="left:419.20px;top:300.25px;width:30.20px;height:11.44px;background:#f7adf7;"></div>
<div class="c sf ar" style="left:419.2px;top:300.3px;width:30.2px;height:11.4px;line-height:13.4px;font-size:12.4px;color:#000;padding-right:4.6px;"><span style="transform:scaleX(0.77)">2229</span></div>
<div class="r" style="left:449.40px;top:300.25px;width:30.20px;height:11.44px;background:#f9b8f9;"></div>
<div class="c sf ar" style="left:449.4px;top:300.3px;width:30.2px;height:11.4px;line-height:13.4px;font-size:12.4px;color:#000;padding-right:4.6px;"><span style="transform:scaleX(0.77)">1275</span></div>
<div class="r" style="left:479.60px;top:300.25px;width:30.20px;height:11.44px;background:#c8fac4;"></div>
<div class="c sf ar" style="left:479.6px;top:300.3px;width:30.2px;height:11.4px;line-height:13.4px;font-size:12.4px;color:#b8501e;padding-right:1.6px;"><span style="transform:scaleX(0.77)">(954)</span></div>
<div class="r" style="left:268.20px;top:311.69px;width:30.20px;height:11.44px;background:#d4ffd4;"></div>
<div class="c sf ar" style="left:268.2px;top:311.7px;width:30.2px;height:11.4px;line-height:13.4px;font-size:12.4px;color:#b8501e;padding-right:1.6px;"><span style="transform:scaleX(0.77)">(1)</span></div>
<div class="r" style="left:298.40px;top:311.69px;width:30.20px;height:11.44px;background:#fed2fe;"></div>
<div class="c sf ar" style="left:298.4px;top:311.7px;width:30.2px;height:11.4px;line-height:13.4px;font-size:12.4px;color:#000;padding-right:4.6px;"><span style="transform:scaleX(0.77)">70</span></div>
<div class="r" style="left:328.60px;top:311.69px;width:30.20px;height:11.44px;background:#fed2fe;"></div>
<div class="c sf ar" style="left:328.6px;top:311.7px;width:30.2px;height:11.4px;line-height:13.4px;font-size:12.4px;color:#000;padding-right:4.6px;"><span style="transform:scaleX(0.77)">69</span></div>
<div class="r" style="left:358.80px;top:311.69px;width:30.20px;height:11.44px;background:#d3ffd3;"></div>
<div class="c sf ar" style="left:358.8px;top:311.7px;width:30.2px;height:11.4px;line-height:13.4px;font-size:12.4px;color:#b8501e;padding-right:1.6px;"><span style="transform:scaleX(0.77)">(36)</span></div>
<div class="r" style="left:389.00px;top:311.69px;width:30.20px;height:11.44px;background:#f49ef4;"></div>
<div class="c sf ar" style="left:389.0px;top:311.7px;width:30.2px;height:11.4px;line-height:13.4px;font-size:12.4px;color:#000;padding-right:4.6px;"><span style="transform:scaleX(0.77)">3882</span></div>
<div class="r" style="left:419.20px;top:311.69px;width:30.20px;height:11.44px;background:#f49ef4;"></div>
<div class="c sf ar" style="left:419.2px;top:311.7px;width:30.2px;height:11.4px;line-height:13.4px;font-size:12.4px;color:#000;padding-right:4.6px;"><span style="transform:scaleX(0.77)">3846</span></div>
<div class="r" style="left:449.40px;top:311.69px;width:30.20px;height:11.44px;background:#f7abf7;"></div>
<div class="c sf ar" style="left:449.4px;top:311.7px;width:30.2px;height:11.4px;line-height:13.4px;font-size:12.4px;color:#000;padding-right:4.6px;"><span style="transform:scaleX(0.77)">2345</span></div>
<div class="r" style="left:479.60px;top:311.69px;width:30.20px;height:11.44px;background:#c3f8bc;"></div>
<div class="c sf ar" style="left:479.6px;top:311.7px;width:30.2px;height:11.4px;line-height:13.4px;font-size:12.2px;color:#b8501e;padding-right:1.2px;"><span style="transform:scaleX(0.74)">(1501)</span></div>
<div class="c sf ar" style="left:268.2px;top:323.1px;width:30.2px;height:11.4px;line-height:13.4px;font-size:12.4px;color:#000;padding-right:4.6px;"><span style="transform:scaleX(0.77)">0</span></div>
<div class="r" style="left:298.40px;top:323.12px;width:30.20px;height:11.44px;background:#fed4fe;"></div>
<div class="c sf ar" style="left:298.4px;top:323.1px;width:30.2px;height:11.4px;line-height:13.4px;font-size:12.4px;color:#000;padding-right:4.6px;"><span style="transform:scaleX(0.77)">44</span></div>
<div class="r" style="left:328.60px;top:323.12px;width:30.20px;height:11.44px;background:#fed4fe;"></div>
<div class="c sf ar" style="left:328.6px;top:323.1px;width:30.2px;height:11.4px;line-height:13.4px;font-size:12.4px;color:#000;padding-right:4.6px;"><span style="transform:scaleX(0.77)">44</span></div>
<div class="r" style="left:358.80px;top:323.12px;width:30.20px;height:11.44px;background:#d4ffd4;"></div>
<div class="c sf ar" style="left:358.8px;top:323.1px;width:30.2px;height:11.4px;line-height:13.4px;font-size:12.4px;color:#b8501e;padding-right:1.6px;"><span style="transform:scaleX(0.77)">(9)</span></div>
<div class="r" style="left:389.00px;top:323.12px;width:30.20px;height:11.44px;background:#f6a6f6;"></div>
<div class="c sf ar" style="left:389.0px;top:323.1px;width:30.2px;height:11.4px;line-height:13.4px;font-size:12.4px;color:#000;padding-right:4.6px;"><span style="transform:scaleX(0.77)">2883</span></div>
<div class="r" style="left:419.20px;top:323.12px;width:30.20px;height:11.44px;background:#f6a6f6;"></div>
<div class="c sf ar" style="left:419.2px;top:323.1px;width:30.2px;height:11.4px;line-height:13.4px;font-size:12.4px;color:#000;padding-right:4.6px;"><span style="transform:scaleX(0.77)">2874</span></div>
<div class="r" style="left:449.40px;top:323.12px;width:30.20px;height:11.44px;background:#f8b3f8;"></div>
<div class="c sf ar" style="left:449.4px;top:323.1px;width:30.2px;height:11.4px;line-height:13.4px;font-size:12.4px;color:#000;padding-right:4.6px;"><span style="transform:scaleX(0.77)">1648</span></div>
<div class="r" style="left:479.60px;top:323.12px;width:30.20px;height:11.44px;background:#c6f9c0;"></div>
<div class="c sf ar" style="left:479.6px;top:323.1px;width:30.2px;height:11.4px;line-height:13.4px;font-size:12.2px;color:#b8501e;padding-right:1.2px;"><span style="transform:scaleX(0.74)">(1226)</span></div>
<div class="r" style="left:268.20px;top:334.56px;width:30.20px;height:11.44px;background:#d4ffd4;"></div>
<div class="c sf ar" style="left:268.2px;top:334.6px;width:30.2px;height:11.4px;line-height:13.4px;font-size:12.4px;color:#b8501e;padding-right:1.6px;"><span style="transform:scaleX(0.77)">(1)</span></div>
<div class="r" style="left:298.40px;top:334.56px;width:30.20px;height:11.44px;background:#fdcffd;"></div>
<div class="c sf ar" style="left:298.4px;top:334.6px;width:30.2px;height:11.4px;line-height:13.4px;font-size:12.4px;color:#000;padding-right:4.6px;"><span style="transform:scaleX(0.77)">134</span></div>
<div class="r" style="left:328.60px;top:334.56px;width:30.20px;height:11.44px;background:#fdcffd;"></div>
<div class="c sf ar" style="left:328.6px;top:334.6px;width:30.2px;height:11.4px;line-height:13.4px;font-size:12.4px;color:#000;padding-right:4.6px;"><span style="transform:scaleX(0.77)">133</span></div>
<div class="r" style="left:358.80px;top:334.56px;width:30.20px;height:11.44px;background:#d3ffd3;"></div>
<div class="c sf ar" style="left:358.8px;top:334.6px;width:30.2px;height:11.4px;line-height:13.4px;font-size:12.4px;color:#b8501e;padding-right:1.6px;"><span style="transform:scaleX(0.77)">(37)</span></div>
<div class="r" style="left:389.00px;top:334.56px;width:30.20px;height:11.44px;background:#f705f7;"></div>
<div class="c sf ar" style="left:389.0px;top:334.6px;width:30.2px;height:11.4px;line-height:13.4px;font-size:12.4px;color:#4a0a5a;padding-right:4.6px;"><span style="transform:scaleX(0.77)">5349</span></div>
<div class="r" style="left:419.20px;top:334.56px;width:30.20px;height:11.44px;background:#f705f7;"></div>
<div class="c sf ar" style="left:419.2px;top:334.6px;width:30.2px;height:11.4px;line-height:13.4px;font-size:12.4px;color:#4a0a5a;padding-right:4.6px;"><span style="transform:scaleX(0.77)">5312</span></div>
<div class="r" style="left:449.40px;top:334.56px;width:30.20px;height:11.44px;background:#f705f7;"></div>
<div class="c sf ar" style="left:449.4px;top:334.6px;width:30.2px;height:11.4px;line-height:13.4px;font-size:12.4px;color:#4a0a5a;padding-right:4.6px;"><span style="transform:scaleX(0.77)">6210</span></div>
<div class="r" style="left:479.60px;top:334.56px;width:30.20px;height:11.44px;background:#fabdfa;"></div>
<div class="c sf ar" style="left:479.6px;top:334.6px;width:30.2px;height:11.4px;line-height:13.4px;font-size:12.4px;color:#000;padding-right:4.6px;"><span style="transform:scaleX(0.77)">898</span></div>
<div class="r" style="left:268.20px;top:346.00px;width:30.20px;height:11.44px;background:#d4ffd4;"></div>
<div class="c sf ar" style="left:268.2px;top:346.0px;width:30.2px;height:11.4px;line-height:13.4px;font-size:12.4px;color:#b8501e;padding-right:1.6px;"><span style="transform:scaleX(0.77)">(4)</span></div>
<div class="r" style="left:298.40px;top:346.00px;width:30.20px;height:11.44px;background:#fccafc;"></div>
<div class="c sf ar" style="left:298.4px;top:346.0px;width:30.2px;height:11.4px;line-height:13.4px;font-size:12.4px;color:#000;padding-right:4.6px;"><span style="transform:scaleX(0.77)">289</span></div>
<div class="r" style="left:328.60px;top:346.00px;width:30.20px;height:11.44px;background:#fccafc;"></div>
<div class="c sf ar" style="left:328.6px;top:346.0px;width:30.2px;height:11.4px;line-height:13.4px;font-size:12.4px;color:#000;padding-right:4.6px;"><span style="transform:scaleX(0.77)">285</span></div>
<div class="r" style="left:358.80px;top:346.00px;width:30.20px;height:11.44px;background:#d3ffd3;"></div>
<div class="c sf ar" style="left:358.8px;top:346.0px;width:30.2px;height:11.4px;line-height:13.4px;font-size:12.4px;color:#b8501e;padding-right:1.6px;"><span style="transform:scaleX(0.77)">(37)</span></div>
<div class="r" style="left:389.00px;top:346.00px;width:30.20px;height:11.44px;background:#f5a3f5;"></div>
<div class="c sf ar" style="left:389.0px;top:346.0px;width:30.2px;height:11.4px;line-height:13.4px;font-size:12.4px;color:#000;padding-right:4.6px;"><span style="transform:scaleX(0.77)">3241</span></div>
<div class="r" style="left:419.20px;top:346.00px;width:30.20px;height:11.44px;background:#f5a4f5;"></div>
<div class="c sf ar" style="left:419.2px;top:346.0px;width:30.2px;height:11.4px;line-height:13.4px;font-size:12.4px;color:#000;padding-right:4.6px;"><span style="transform:scaleX(0.77)">3204</span></div>
<div class="r" style="left:449.40px;top:346.00px;width:30.20px;height:11.44px;background:#f397f3;"></div>
<div class="c sf ar" style="left:449.4px;top:346.0px;width:30.2px;height:11.4px;line-height:13.4px;font-size:12.4px;color:#000;padding-right:4.6px;"><span style="transform:scaleX(0.77)">4884</span></div>
<div class="r" style="left:479.60px;top:346.00px;width:30.20px;height:11.44px;background:#f8b3f8;"></div>
<div class="c sf ar" style="left:479.6px;top:346.0px;width:30.2px;height:11.4px;line-height:13.4px;font-size:12.4px;color:#000;padding-right:4.6px;"><span style="transform:scaleX(0.77)">1680</span></div>
<div class="r" style="left:268.20px;top:357.43px;width:30.20px;height:11.44px;background:#d4ffd3;"></div>
<div class="c sf ar" style="left:268.2px;top:357.4px;width:30.2px;height:11.4px;line-height:13.4px;font-size:12.4px;color:#b8501e;padding-right:1.6px;"><span style="transform:scaleX(0.77)">(16)</span></div>
<div class="r" style="left:298.40px;top:357.43px;width:30.20px;height:11.44px;background:#fcc7fc;"></div>
<div class="c sf ar" style="left:298.4px;top:357.4px;width:30.2px;height:11.4px;line-height:13.4px;font-size:12.4px;color:#000;padding-right:4.6px;"><span style="transform:scaleX(0.77)">379</span></div>
<div class="r" style="left:328.60px;top:357.43px;width:30.20px;height:11.44px;background:#fcc8fc;"></div>
<div class="c sf ar" style="left:328.6px;top:357.4px;width:30.2px;height:11.4px;line-height:13.4px;font-size:12.4px;color:#000;padding-right:4.6px;"><span style="transform:scaleX(0.77)">363</span></div>
<div class="r" style="left:358.80px;top:357.43px;width:30.20px;height:11.44px;background:#d2fed1;"></div>
<div class="c sf ar" style="left:358.8px;top:357.4px;width:30.2px;height:11.4px;line-height:13.4px;font-size:12.4px;color:#b8501e;padding-right:1.6px;"><span style="transform:scaleX(0.77)">(126)</span></div>
<div class="r" style="left:389.00px;top:357.43px;width:30.20px;height:11.44px;background:#f705f7;"></div>
<div class="c sf ar" style="left:389.0px;top:357.4px;width:30.2px;height:11.4px;line-height:13.4px;font-size:12.4px;color:#4a0a5a;padding-right:4.6px;"><span style="transform:scaleX(0.77)">9518</span></div>
<div class="r" style="left:419.20px;top:357.43px;width:30.20px;height:11.44px;background:#f705f7;"></div>
<div class="c sf ar" style="left:419.2px;top:357.4px;width:30.2px;height:11.4px;line-height:13.4px;font-size:12.4px;color:#4a0a5a;padding-right:4.6px;"><span style="transform:scaleX(0.77)">9392</span></div>
<div class="r" style="left:449.40px;top:357.43px;width:30.20px;height:11.44px;background:#f705f7;"></div>
<div class="c sf ar" style="left:449.4px;top:357.4px;width:30.2px;height:11.4px;line-height:13.4px;font-size:12.4px;color:#4a0a5a;padding-right:4.6px;"><span style="transform:scaleX(0.77)">8021</span></div>
<div class="r" style="left:479.60px;top:357.43px;width:30.20px;height:11.44px;background:#c4f8be;"></div>
<div class="c sf ar" style="left:479.6px;top:357.4px;width:30.2px;height:11.4px;line-height:13.4px;font-size:12.2px;color:#b8501e;padding-right:1.2px;"><span style="transform:scaleX(0.74)">(1371)</span></div>
<div class="r" style="left:268.20px;top:368.87px;width:30.20px;height:11.44px;background:#d3ffd3;"></div>
<div class="c sf ar" style="left:268.2px;top:368.9px;width:30.2px;height:11.4px;line-height:13.4px;font-size:12.4px;color:#b8501e;padding-right:1.6px;"><span style="transform:scaleX(0.77)">(30)</span></div>
<div class="r" style="left:298.40px;top:368.87px;width:30.20px;height:11.44px;background:#fbc3fb;"></div>
<div class="c sf ar" style="left:298.4px;top:368.9px;width:30.2px;height:11.4px;line-height:13.4px;font-size:12.4px;color:#000;padding-right:4.6px;"><span style="transform:scaleX(0.77)">570</span></div>
<div class="r" style="left:328.60px;top:368.87px;width:30.20px;height:11.44px;background:#fbc4fb;"></div>
<div class="c sf ar" style="left:328.6px;top:368.9px;width:30.2px;height:11.4px;line-height:13.4px;font-size:12.4px;color:#000;padding-right:4.6px;"><span style="transform:scaleX(0.77)">540</span></div>
<div class="r" style="left:358.80px;top:368.87px;width:30.20px;height:11.44px;background:#cffdcd;"></div>
<div class="c sf ar" style="left:358.8px;top:368.9px;width:30.2px;height:11.4px;line-height:13.4px;font-size:12.4px;color:#b8501e;padding-right:1.6px;"><span style="transform:scaleX(0.77)">(305)</span></div>
<div class="r" style="left:389.00px;top:368.87px;width:30.20px;height:11.44px;background:#f5a0f5;"></div>
<div class="c sf ar" style="left:389.0px;top:368.9px;width:30.2px;height:11.4px;line-height:13.4px;font-size:12.4px;color:#000;padding-right:4.6px;"><span style="transform:scaleX(0.77)">3619</span></div>
<div class="r" style="left:419.20px;top:368.87px;width:30.20px;height:11.44px;background:#f5a3f5;"></div>
<div class="c sf ar" style="left:419.2px;top:368.9px;width:30.2px;height:11.4px;line-height:13.4px;font-size:12.4px;color:#000;padding-right:4.6px;"><span style="transform:scaleX(0.77)">3314</span></div>
<div class="r" style="left:449.40px;top:368.87px;width:30.20px;height:11.44px;background:#f5a0f5;"></div>
<div class="c sf ar" style="left:449.4px;top:368.9px;width:30.2px;height:11.4px;line-height:13.4px;font-size:12.4px;color:#000;padding-right:4.6px;"><span style="transform:scaleX(0.77)">3632</span></div>
<div class="r" style="left:479.60px;top:368.87px;width:30.20px;height:11.44px;background:#fcc9fc;"></div>
<div class="c sf ar" style="left:479.6px;top:368.9px;width:30.2px;height:11.4px;line-height:13.4px;font-size:12.4px;color:#000;padding-right:4.6px;"><span style="transform:scaleX(0.77)">318</span></div>
<div class="r" style="left:268.20px;top:380.30px;width:30.20px;height:11.44px;background:#d3ffd3;"></div>
<div class="c sf ar" style="left:268.2px;top:380.3px;width:30.2px;height:11.4px;line-height:13.4px;font-size:12.4px;color:#b8501e;padding-right:1.6px;"><span style="transform:scaleX(0.77)">(40)</span></div>
<div class="r" style="left:298.40px;top:380.30px;width:30.20px;height:11.44px;background:#fbc2fb;"></div>
<div class="c sf ar" style="left:298.4px;top:380.3px;width:30.2px;height:11.4px;line-height:13.4px;font-size:12.4px;color:#000;padding-right:4.6px;"><span style="transform:scaleX(0.77)">612</span></div>
<div class="r" style="left:328.60px;top:380.30px;width:30.20px;height:11.44px;background:#fbc3fb;"></div>
<div class="c sf ar" style="left:328.6px;top:380.3px;width:30.2px;height:11.4px;line-height:13.4px;font-size:12.4px;color:#000;padding-right:4.6px;"><span style="transform:scaleX(0.77)">572</span></div>
<div class="r" style="left:358.80px;top:380.30px;width:30.20px;height:11.44px;background:#cdfcca;"></div>
<div class="c sf ar" style="left:358.8px;top:380.3px;width:30.2px;height:11.4px;line-height:13.4px;font-size:12.4px;color:#b8501e;padding-right:1.6px;"><span style="transform:scaleX(0.77)">(512)</span></div>
<div class="r" style="left:389.00px;top:380.30px;width:30.20px;height:11.44px;background:#f705f7;"></div>
<div class="c sf ar" style="left:389.0px;top:380.3px;width:30.2px;height:11.4px;line-height:13.4px;font-size:12.4px;color:#4a0a5a;padding-right:4.6px;"><span style="transform:scaleX(0.77)">5496</span></div>
<div class="r" style="left:419.20px;top:380.30px;width:30.20px;height:11.44px;background:#f396f3;"></div>
<div class="c sf ar" style="left:419.2px;top:380.3px;width:30.2px;height:11.4px;line-height:13.4px;font-size:12.4px;color:#000;padding-right:4.6px;"><span style="transform:scaleX(0.77)">4984</span></div>
<div class="r" style="left:449.40px;top:380.30px;width:30.20px;height:11.44px;background:#f705f7;"></div>
<div class="c sf ar" style="left:449.4px;top:380.3px;width:30.2px;height:11.4px;line-height:13.4px;font-size:12.4px;color:#4a0a5a;padding-right:4.6px;"><span style="transform:scaleX(0.77)">8040</span></div>
<div class="r" style="left:479.60px;top:380.30px;width:30.20px;height:11.44px;background:#f6a5f6;"></div>
<div class="c sf ar" style="left:479.6px;top:380.3px;width:30.2px;height:11.4px;line-height:13.4px;font-size:12.4px;color:#000;padding-right:4.6px;"><span style="transform:scaleX(0.77)">3056</span></div>
<div class="r" style="left:268.20px;top:391.74px;width:30.20px;height:11.44px;background:#d3ffd3;"></div>
<div class="c sf ar" style="left:268.2px;top:391.7px;width:30.2px;height:11.4px;line-height:13.4px;font-size:12.4px;color:#b8501e;padding-right:1.6px;"><span style="transform:scaleX(0.77)">(25)</span></div>
<div class="r" style="left:298.40px;top:391.74px;width:30.20px;height:11.44px;background:#f9b9f9;"></div>
<div class="c sf ar" style="left:298.4px;top:391.7px;width:30.2px;height:11.4px;line-height:13.4px;font-size:12.4px;color:#000;padding-right:4.6px;"><span style="transform:scaleX(0.77)">1186</span></div>
<div class="r" style="left:328.60px;top:391.74px;width:30.20px;height:11.44px;background:#f9b9f9;"></div>
<div class="c sf ar" style="left:328.6px;top:391.7px;width:30.2px;height:11.4px;line-height:13.4px;font-size:12.4px;color:#000;padding-right:4.6px;"><span style="transform:scaleX(0.77)">1161</span></div>
<div class="r" style="left:358.80px;top:391.74px;width:30.20px;height:11.44px;background:#cdfcc9;"></div>
<div class="c sf ar" style="left:358.8px;top:391.7px;width:30.2px;height:11.4px;line-height:13.4px;font-size:12.4px;color:#b8501e;padding-right:1.6px;"><span style="transform:scaleX(0.77)">(547)</span></div>
<div class="r" style="left:389.00px;top:391.74px;width:30.20px;height:11.44px;background:#f705f7;"></div>
<div class="c sf ar" style="left:389.0px;top:391.7px;width:30.2px;height:11.4px;line-height:13.4px;font-size:12.4px;color:#4a0a5a;padding-right:4.6px;"><span style="transform:scaleX(0.77)">6032</span></div>
<div class="r" style="left:419.20px;top:391.74px;width:30.20px;height:11.44px;background:#f705f7;"></div>
<div class="c sf ar" style="left:419.2px;top:391.7px;width:30.2px;height:11.4px;line-height:13.4px;font-size:12.4px;color:#4a0a5a;padding-right:4.6px;"><span style="transform:scaleX(0.77)">5485</span></div>
<div class="r" style="left:449.40px;top:391.74px;width:30.20px;height:11.44px;background:#f705f7;"></div>
<div class="c sf ar" style="left:449.4px;top:391.7px;width:30.2px;height:11.4px;line-height:13.4px;font-size:12.4px;color:#4a0a5a;padding-right:4.6px;"><span style="transform:scaleX(0.77)">9367</span></div>
<div class="r" style="left:479.60px;top:391.74px;width:30.20px;height:11.44px;background:#f49ef4;"></div>
<div class="c sf ar" style="left:479.6px;top:391.7px;width:30.2px;height:11.4px;line-height:13.4px;font-size:12.4px;color:#000;padding-right:4.6px;"><span style="transform:scaleX(0.77)">3882</span></div>
<div class="r" style="left:268.20px;top:403.17px;width:30.20px;height:11.44px;background:#d1fed0;"></div>
<div class="c sf ar" style="left:268.2px;top:403.2px;width:30.2px;height:11.4px;line-height:13.4px;font-size:12.4px;color:#b8501e;padding-right:1.6px;"><span style="transform:scaleX(0.77)">(173)</span></div>
<div class="r" style="left:298.40px;top:403.17px;width:30.20px;height:11.44px;background:#f7abf7;"></div>
<div class="c sf ar" style="left:298.4px;top:403.2px;width:30.2px;height:11.4px;line-height:13.4px;font-size:12.4px;color:#000;padding-right:4.6px;"><span style="transform:scaleX(0.77)">2344</span></div>
<div class="r" style="left:328.60px;top:403.17px;width:30.20px;height:11.44px;background:#f7adf7;"></div>
<div class="c sf ar" style="left:328.6px;top:403.2px;width:30.2px;height:11.4px;line-height:13.4px;font-size:12.4px;color:#000;padding-right:4.6px;"><span style="transform:scaleX(0.77)">2171</span></div>
<div class="r" style="left:358.80px;top:403.17px;width:30.20px;height:11.44px;background:#c7f9c2;"></div>
<div class="c sf ar" style="left:358.8px;top:403.2px;width:30.2px;height:11.4px;line-height:13.4px;font-size:12.2px;color:#b8501e;padding-right:1.2px;"><span style="transform:scaleX(0.74)">(1098)</span></div>
<div class="r" style="left:389.00px;top:403.17px;width:30.20px;height:11.44px;background:#f705f7;"></div>
<div class="c sf ar" style="left:389.0px;top:403.2px;width:30.2px;height:11.4px;line-height:13.4px;font-size:12.4px;color:#4a0a5a;padding-right:4.6px;"><span style="transform:scaleX(0.77)">9506</span></div>
<div class="r" style="left:419.20px;top:403.17px;width:30.20px;height:11.44px;background:#f705f7;"></div>
<div class="c sf ar" style="left:419.2px;top:403.2px;width:30.2px;height:11.4px;line-height:13.4px;font-size:12.4px;color:#4a0a5a;padding-right:4.6px;"><span style="transform:scaleX(0.77)">8408</span></div>
<div class="r" style="left:449.40px;top:403.17px;width:30.20px;height:11.44px;background:#f705f7;"></div>
<div class="c sf ar" style="left:449.4px;top:403.2px;width:30.2px;height:11.4px;line-height:13.4px;font-size:12.4px;color:#4a0a5a;padding-right:4.6px;"><span style="transform:scaleX(0.77)">8916</span></div>
<div class="r" style="left:479.60px;top:403.17px;width:30.20px;height:11.44px;background:#fbc4fb;"></div>
<div class="c sf ar" style="left:479.6px;top:403.2px;width:30.2px;height:11.4px;line-height:13.4px;font-size:12.4px;color:#000;padding-right:4.6px;"><span style="transform:scaleX(0.77)">508</span></div>
<div class="r" style="left:268.20px;top:414.61px;width:30.20px;height:11.44px;background:#cbfbc7;"></div>
<div class="c sf ar" style="left:268.2px;top:414.6px;width:30.2px;height:11.4px;line-height:13.4px;font-size:12.4px;color:#b8501e;padding-right:1.6px;"><span style="transform:scaleX(0.77)">(698)</span></div>
<div class="r" style="left:298.40px;top:414.61px;width:30.20px;height:11.44px;background:#f49ef4;"></div>
<div class="c sf ar" style="left:298.4px;top:414.6px;width:30.2px;height:11.4px;line-height:13.4px;font-size:12.4px;color:#000;padding-right:4.6px;"><span style="transform:scaleX(0.77)">3838</span></div>
<div class="r" style="left:328.60px;top:414.61px;width:30.20px;height:11.44px;background:#f5a4f5;"></div>
<div class="c sf ar" style="left:328.6px;top:414.6px;width:30.2px;height:11.4px;line-height:13.4px;font-size:12.4px;color:#000;padding-right:4.6px;"><span style="transform:scaleX(0.77)">3140</span></div>
<div class="r" style="left:358.80px;top:414.61px;width:30.20px;height:11.44px;background:#c6f9c1;"></div>
<div class="c sf ar" style="left:358.8px;top:414.6px;width:30.2px;height:11.4px;line-height:13.4px;font-size:12.2px;color:#b8501e;padding-right:1.2px;"><span style="transform:scaleX(0.74)">(1146)</span></div>
<div class="r" style="left:389.00px;top:414.61px;width:30.20px;height:11.44px;background:#f705f7;"></div>
<div class="c sf ar" style="left:389.0px;top:414.6px;width:30.2px;height:11.4px;line-height:13.4px;font-size:12.4px;color:#4a0a5a;padding-right:4.6px;"><span style="transform:scaleX(0.77)">7801</span></div>
<div class="r" style="left:419.20px;top:414.61px;width:30.20px;height:11.44px;background:#f705f7;"></div>
<div class="c sf ar" style="left:419.2px;top:414.6px;width:30.2px;height:11.4px;line-height:13.4px;font-size:12.4px;color:#4a0a5a;padding-right:4.6px;"><span style="transform:scaleX(0.77)">6655</span></div>
<div class="r" style="left:449.40px;top:414.61px;width:30.20px;height:11.44px;background:#f705f7;"></div>
<div class="c sf ar" style="left:449.4px;top:414.6px;width:30.2px;height:11.4px;line-height:13.4px;font-size:12.4px;color:#4a0a5a;padding-right:4.6px;"><span style="transform:scaleX(0.77)">7305</span></div>
<div class="r" style="left:479.60px;top:414.61px;width:30.20px;height:11.44px;background:#fbc1fb;"></div>
<div class="c sf ar" style="left:479.6px;top:414.6px;width:30.2px;height:11.4px;line-height:13.4px;font-size:12.4px;color:#000;padding-right:4.6px;"><span style="transform:scaleX(0.77)">650</span></div>
<div class="r" style="left:268.20px;top:426.04px;width:30.20px;height:11.44px;background:#baf4b0;"></div>
<div class="c sf ar" style="left:268.2px;top:426.0px;width:30.2px;height:11.4px;line-height:13.4px;font-size:12.2px;color:#b8501e;padding-right:1.2px;"><span style="transform:scaleX(0.74)">(2555)</span></div>
<div class="r" style="left:298.40px;top:426.04px;width:30.20px;height:11.44px;background:#f705f7;"></div>
<div class="c sf ar" style="left:298.4px;top:426.0px;width:30.2px;height:11.4px;line-height:13.4px;font-size:12.4px;color:#4a0a5a;padding-right:4.6px;"><span style="transform:scaleX(0.77)">7303</span></div>
<div class="r" style="left:328.60px;top:426.04px;width:30.20px;height:11.44px;background:#f398f3;"></div>
<div class="c sf ar" style="left:328.6px;top:426.0px;width:30.2px;height:11.4px;line-height:13.4px;font-size:12.4px;color:#000;padding-right:4.6px;"><span style="transform:scaleX(0.77)">4748</span></div>
<div class="r" style="left:358.80px;top:426.04px;width:30.20px;height:11.44px;background:#bdf5b4;"></div>
<div class="c sf ar" style="left:358.8px;top:426.0px;width:30.2px;height:11.4px;line-height:13.4px;font-size:12.2px;color:#b8501e;padding-right:1.2px;"><span style="transform:scaleX(0.74)">(2208)</span></div>
<div class="r" style="left:389.00px;top:426.04px;width:30.20px;height:11.44px;background:#f705f7;"></div>
<div class="c sf ar" style="left:389.0px;top:426.0px;width:30.2px;height:11.4px;line-height:13.4px;font-size:12.4px;color:#4a0a5a;padding-right:4.6px;"><span style="transform:scaleX(0.77)">9520</span></div>
<div class="r" style="left:419.20px;top:426.04px;width:30.20px;height:11.44px;background:#f705f7;"></div>
<div class="c sf ar" style="left:419.2px;top:426.0px;width:30.2px;height:11.4px;line-height:13.4px;font-size:12.4px;color:#4a0a5a;padding-right:4.6px;"><span style="transform:scaleX(0.77)">7312</span></div>
<div class="r" style="left:449.40px;top:426.04px;width:30.20px;height:11.44px;background:#f705f7;"></div>
<div class="c sf ar" style="left:449.4px;top:426.0px;width:30.2px;height:11.4px;line-height:13.4px;font-size:10.4px;color:#4a0a5a;padding-right:4.0px;"><span style="transform:scaleX(0.74)">15283</span></div>
<div class="r" style="left:479.60px;top:426.04px;width:30.20px;height:11.44px;background:#f705f7;"></div>
<div class="c sf ar" style="left:479.6px;top:426.0px;width:30.2px;height:11.4px;line-height:13.4px;font-size:12.4px;color:#4a0a5a;padding-right:4.6px;"><span style="transform:scaleX(0.77)">7971</span></div>
<div class="r" style="left:268.20px;top:437.48px;width:30.20px;height:11.44px;background:#33b033;"></div>
<div class="c sf ar" style="left:268.2px;top:437.5px;width:30.2px;height:11.4px;line-height:13.4px;font-size:12.2px;color:#98580e;padding-right:1.2px;"><span style="transform:scaleX(0.74)">(7738)</span></div>
<div class="r" style="left:298.40px;top:437.48px;width:30.20px;height:11.44px;background:#f705f7;"></div>
<div class="c sf ar" style="left:298.4px;top:437.5px;width:30.2px;height:11.4px;line-height:13.4px;font-size:10.4px;color:#4a0a5a;padding-right:4.0px;"><span style="transform:scaleX(0.74)">14776</span></div>
<div class="r" style="left:328.60px;top:437.48px;width:30.20px;height:11.44px;background:#f705f7;"></div>
<div class="c sf ar" style="left:328.6px;top:437.5px;width:30.2px;height:11.4px;line-height:13.4px;font-size:12.4px;color:#4a0a5a;padding-right:4.6px;"><span style="transform:scaleX(0.77)">7038</span></div>
<div class="r" style="left:358.80px;top:437.48px;width:30.20px;height:11.44px;background:#c5f8be;"></div>
<div class="c sf ar" style="left:358.8px;top:437.5px;width:30.2px;height:11.4px;line-height:13.4px;font-size:12.2px;color:#b8501e;padding-right:1.2px;"><span style="transform:scaleX(0.74)">(1334)</span></div>
<div class="r" style="left:389.00px;top:437.48px;width:30.20px;height:11.44px;background:#f705f7;"></div>
<div class="c sf ar" style="left:389.0px;top:437.5px;width:30.2px;height:11.4px;line-height:13.4px;font-size:12.4px;color:#4a0a5a;padding-right:4.6px;"><span style="transform:scaleX(0.77)">9420</span></div>
<div class="r" style="left:419.20px;top:437.48px;width:30.20px;height:11.44px;background:#f705f7;"></div>
<div class="c sf ar" style="left:419.2px;top:437.5px;width:30.2px;height:11.4px;line-height:13.4px;font-size:12.4px;color:#4a0a5a;padding-right:4.6px;"><span style="transform:scaleX(0.77)">8086</span></div>
<div class="r" style="left:449.40px;top:437.48px;width:30.20px;height:11.44px;background:#f705f7;"></div>
<div class="c sf ar" style="left:449.4px;top:437.5px;width:30.2px;height:11.4px;line-height:13.4px;font-size:10.4px;color:#4a0a5a;padding-right:4.0px;"><span style="transform:scaleX(0.74)">15200</span></div>
<div class="r" style="left:479.60px;top:437.48px;width:30.20px;height:11.44px;background:#f705f7;"></div>
<div class="c sf ar" style="left:479.6px;top:437.5px;width:30.2px;height:11.4px;line-height:13.4px;font-size:12.4px;color:#4a0a5a;padding-right:4.6px;"><span style="transform:scaleX(0.77)">7114</span></div>
<div class="r" style="left:268.20px;top:448.91px;width:30.20px;height:11.44px;background:#33b033;"></div>
<div class="c sf ar" style="left:268.2px;top:448.9px;width:30.2px;height:11.4px;line-height:13.4px;font-size:10.4px;color:#98580e;padding-right:1.0px;"><span style="transform:scaleX(0.7)">(25919)</span></div>
<div class="r" style="left:298.40px;top:448.91px;width:30.20px;height:11.44px;background:#f705f7;"></div>
<div class="c sf ar" style="left:298.4px;top:448.9px;width:30.2px;height:11.4px;line-height:13.4px;font-size:10.4px;color:#4a0a5a;padding-right:4.0px;"><span style="transform:scaleX(0.74)">36228</span></div>
<div class="r" style="left:328.60px;top:448.91px;width:30.20px;height:11.44px;background:#f705f7;"></div>
<div class="c sf ar" style="left:328.6px;top:448.9px;width:30.2px;height:11.4px;line-height:13.4px;font-size:10.4px;color:#4a0a5a;padding-right:4.0px;"><span style="transform:scaleX(0.74)">10309</span></div>
<div class="r" style="left:358.80px;top:448.91px;width:30.20px;height:11.44px;background:#baf4af;"></div>
<div class="c sf ar" style="left:358.8px;top:448.9px;width:30.2px;height:11.4px;line-height:13.4px;font-size:12.2px;color:#b8501e;padding-right:1.2px;"><span style="transform:scaleX(0.74)">(2595)</span></div>
<div class="r" style="left:389.00px;top:448.91px;width:30.20px;height:11.44px;background:#f705f7;"></div>
<div class="c sf ar" style="left:389.0px;top:448.9px;width:30.2px;height:11.4px;line-height:13.4px;font-size:10.4px;color:#4a0a5a;padding-right:4.0px;"><span style="transform:scaleX(0.74)">18020</span></div>
<div class="r" style="left:419.20px;top:448.91px;width:30.20px;height:11.44px;background:#f705f7;"></div>
<div class="c sf ar" style="left:419.2px;top:448.9px;width:30.2px;height:11.4px;line-height:13.4px;font-size:10.4px;color:#4a0a5a;padding-right:4.0px;"><span style="transform:scaleX(0.74)">15425</span></div>
<div class="r" style="left:449.40px;top:448.91px;width:30.20px;height:11.44px;background:#f705f7;"></div>
<div class="c sf ar" style="left:449.4px;top:448.9px;width:30.2px;height:11.4px;line-height:13.4px;font-size:10.4px;color:#4a0a5a;padding-right:4.0px;"><span style="transform:scaleX(0.74)">27111</span></div>
<div class="r" style="left:479.60px;top:448.91px;width:30.20px;height:11.44px;background:#f705f7;"></div>
<div class="c sf ar" style="left:479.6px;top:448.9px;width:30.2px;height:11.4px;line-height:13.4px;font-size:10.4px;color:#4a0a5a;padding-right:4.0px;"><span style="transform:scaleX(0.74)">11686</span></div>
<div class="r" style="left:268.20px;top:460.35px;width:30.20px;height:11.44px;background:#33b033;"></div>
<div class="c sf ar" style="left:268.2px;top:460.3px;width:30.2px;height:11.4px;line-height:13.4px;font-size:10.4px;color:#98580e;padding-right:1.0px;"><span style="transform:scaleX(0.7)">(61792)</span></div>
<div class="r" style="left:298.40px;top:460.35px;width:30.20px;height:11.44px;background:#f705f7;"></div>
<div class="c sf ar" style="left:298.4px;top:460.3px;width:30.2px;height:11.4px;line-height:13.4px;font-size:10.4px;color:#4a0a5a;padding-right:4.0px;"><span style="transform:scaleX(0.74)">64122</span></div>
<div class="r" style="left:328.60px;top:460.35px;width:30.20px;height:11.44px;background:#f7acf7;"></div>
<div class="c sf ar" style="left:328.6px;top:460.3px;width:30.2px;height:11.4px;line-height:13.4px;font-size:12.4px;color:#000;padding-right:4.6px;"><span style="transform:scaleX(0.77)">2330</span></div>
<div class="r" style="left:358.80px;top:460.35px;width:30.20px;height:11.44px;background:#33b033;"></div>
<div class="c sf ar" style="left:358.8px;top:460.3px;width:30.2px;height:11.4px;line-height:13.4px;font-size:12.2px;color:#98580e;padding-right:1.2px;"><span style="transform:scaleX(0.74)">(6295)</span></div>
<div class="r" style="left:389.00px;top:460.35px;width:30.20px;height:11.44px;background:#f705f7;"></div>
<div class="c sf ar" style="left:389.0px;top:460.3px;width:30.2px;height:11.4px;line-height:13.4px;font-size:10.4px;color:#4a0a5a;padding-right:4.0px;"><span style="transform:scaleX(0.74)">17197</span></div>
<div class="r" style="left:419.20px;top:460.35px;width:30.20px;height:11.44px;background:#f705f7;"></div>
<div class="c sf ar" style="left:419.2px;top:460.3px;width:30.2px;height:11.4px;line-height:13.4px;font-size:10.4px;color:#4a0a5a;padding-right:4.0px;"><span style="transform:scaleX(0.74)">10902</span></div>
<div class="r" style="left:449.40px;top:460.35px;width:30.20px;height:11.44px;background:#f705f7;"></div>
<div class="c sf ar" style="left:449.4px;top:460.3px;width:30.2px;height:11.4px;line-height:13.4px;font-size:10.4px;color:#4a0a5a;padding-right:4.0px;"><span style="transform:scaleX(0.74)">26572</span></div>
<div class="r" style="left:479.60px;top:460.35px;width:30.20px;height:11.44px;background:#f705f7;"></div>
<div class="c sf ar" style="left:479.6px;top:460.3px;width:30.2px;height:11.4px;line-height:13.4px;font-size:10.4px;color:#4a0a5a;padding-right:4.0px;"><span style="transform:scaleX(0.74)">15670</span></div>
<div class="r" style="left:268.20px;top:471.78px;width:30.20px;height:11.44px;background:#33b033;"></div>
<div class="c sf ar" style="left:268.2px;top:471.8px;width:30.2px;height:11.4px;line-height:13.4px;font-size:10.4px;color:#98580e;padding-right:1.0px;"><span style="transform:scaleX(0.7)">(92259)</span></div>
<div class="r" style="left:298.40px;top:471.78px;width:30.20px;height:11.44px;background:#f705f7;"></div>
<div class="c sf ar" style="left:298.4px;top:471.8px;width:30.2px;height:11.4px;line-height:13.4px;font-size:10.4px;color:#4a0a5a;padding-right:4.0px;"><span style="transform:scaleX(0.74)">59067</span></div>
<div class="r" style="left:328.60px;top:471.78px;width:30.20px;height:11.44px;background:#33b033;"></div>
<div class="c sf ar" style="left:328.6px;top:471.8px;width:30.2px;height:11.4px;line-height:13.4px;font-size:10.4px;color:#98580e;padding-right:1.0px;"><span style="transform:scaleX(0.7)">(33192)</span></div>
<div class="r" style="left:358.80px;top:471.78px;width:30.20px;height:11.44px;background:#33b033;"></div>
<div class="c sf ar" style="left:358.8px;top:471.8px;width:30.2px;height:11.4px;line-height:13.4px;font-size:10.4px;color:#98580e;padding-right:1.0px;"><span style="transform:scaleX(0.7)">(10497)</span></div>
<div class="r" style="left:389.00px;top:471.78px;width:30.20px;height:11.44px;background:#f705f7;"></div>
<div class="c sf ar" style="left:389.0px;top:471.8px;width:30.2px;height:11.4px;line-height:13.4px;font-size:10.4px;color:#4a0a5a;padding-right:4.0px;"><span style="transform:scaleX(0.74)">13215</span></div>
<div class="r" style="left:419.20px;top:471.78px;width:30.20px;height:11.44px;background:#f6a8f6;"></div>
<div class="c sf ar" style="left:419.2px;top:471.8px;width:30.2px;height:11.4px;line-height:13.4px;font-size:12.4px;color:#000;padding-right:4.6px;"><span style="transform:scaleX(0.77)">2718</span></div>
<div class="r" style="left:449.40px;top:471.78px;width:30.20px;height:11.44px;background:#f7aef7;"></div>
<div class="c sf ar" style="left:449.4px;top:471.8px;width:30.2px;height:11.4px;line-height:13.4px;font-size:12.4px;color:#000;padding-right:4.6px;"><span style="transform:scaleX(0.77)">2134</span></div>
<div class="r" style="left:479.60px;top:471.78px;width:30.20px;height:11.44px;background:#ccfcc9;"></div>
<div class="c sf ar" style="left:479.6px;top:471.8px;width:30.2px;height:11.4px;line-height:13.4px;font-size:12.4px;color:#b8501e;padding-right:1.6px;"><span style="transform:scaleX(0.77)">(584)</span></div>
<div class="r" style="left:268.20px;top:483.22px;width:30.20px;height:11.44px;background:#33b033;"></div>
<div class="c sf ar" style="left:268.2px;top:483.2px;width:30.2px;height:11.4px;line-height:13.4px;font-size:10.4px;color:#98580e;padding-right:1.0px;"><span style="transform:scaleX(0.7)">(45752)</span></div>
<div class="r" style="left:298.40px;top:483.22px;width:30.20px;height:11.44px;background:#f705f7;"></div>
<div class="c sf ar" style="left:298.4px;top:483.2px;width:30.2px;height:11.4px;line-height:13.4px;font-size:10.4px;color:#4a0a5a;padding-right:4.0px;"><span style="transform:scaleX(0.74)">25421</span></div>
<div class="r" style="left:328.60px;top:483.22px;width:30.20px;height:11.44px;background:#33b033;"></div>
<div class="c sf ar" style="left:328.6px;top:483.2px;width:30.2px;height:11.4px;line-height:13.4px;font-size:10.4px;color:#98580e;padding-right:1.0px;"><span style="transform:scaleX(0.7)">(20331)</span></div>
<div class="r" style="left:358.80px;top:483.22px;width:30.20px;height:11.44px;background:#33b033;"></div>
<div class="c sf ar" style="left:358.8px;top:483.2px;width:30.2px;height:11.4px;line-height:13.4px;font-size:10.4px;color:#98580e;padding-right:1.0px;"><span style="transform:scaleX(0.7)">(17384)</span></div>
<div class="r" style="left:389.00px;top:483.22px;width:30.20px;height:11.44px;background:#f49df4;"></div>
<div class="c sf ar" style="left:389.0px;top:483.2px;width:30.2px;height:11.4px;line-height:13.4px;font-size:12.4px;color:#000;padding-right:4.6px;"><span style="transform:scaleX(0.77)">3994</span></div>
<div class="r" style="left:419.20px;top:483.22px;width:30.20px;height:11.44px;background:#33b033;"></div>
<div class="c sf ar" style="left:419.2px;top:483.2px;width:30.2px;height:11.4px;line-height:13.4px;font-size:10.4px;color:#98580e;padding-right:1.0px;"><span style="transform:scaleX(0.7)">(13390)</span></div>
<div class="r" style="left:449.40px;top:483.22px;width:30.20px;height:11.44px;background:#33b033;"></div>
<div class="c sf ar" style="left:449.4px;top:483.2px;width:30.2px;height:11.4px;line-height:13.4px;font-size:10.4px;color:#98580e;padding-right:1.0px;"><span style="transform:scaleX(0.7)">(23370)</span></div>
<div class="r" style="left:479.60px;top:483.22px;width:30.20px;height:11.44px;background:#33b033;"></div>
<div class="c sf ar" style="left:479.6px;top:483.2px;width:30.2px;height:11.4px;line-height:13.4px;font-size:12.2px;color:#98580e;padding-right:1.2px;"><span style="transform:scaleX(0.74)">(9980)</span></div>
<div class="r" style="left:268.20px;top:494.65px;width:30.20px;height:11.44px;background:#33b033;"></div>
<div class="c sf ar" style="left:268.2px;top:494.6px;width:30.2px;height:11.4px;line-height:13.4px;font-size:10.4px;color:#98580e;padding-right:1.0px;"><span style="transform:scaleX(0.7)">(23839)</span></div>
<div class="r" style="left:298.40px;top:494.65px;width:30.20px;height:11.44px;background:#f705f7;"></div>
<div class="c sf ar" style="left:298.4px;top:494.6px;width:30.2px;height:11.4px;line-height:13.4px;font-size:10.4px;color:#4a0a5a;padding-right:4.0px;"><span style="transform:scaleX(0.74)">11071</span></div>
<div class="r" style="left:328.60px;top:494.65px;width:30.20px;height:11.44px;background:#33b033;"></div>
<div class="c sf ar" style="left:328.6px;top:494.6px;width:30.2px;height:11.4px;line-height:13.4px;font-size:10.4px;color:#98580e;padding-right:1.0px;"><span style="transform:scaleX(0.7)">(12768)</span></div>
<div class="r" style="left:358.80px;top:494.65px;width:30.20px;height:11.44px;background:#33b033;"></div>
<div class="c sf ar" style="left:358.8px;top:494.6px;width:30.2px;height:11.4px;line-height:13.4px;font-size:10.4px;color:#98580e;padding-right:1.0px;"><span style="transform:scaleX(0.7)">(15035)</span></div>
<div class="r" style="left:389.00px;top:494.65px;width:30.20px;height:11.44px;background:#f7acf7;"></div>
<div class="c sf ar" style="left:389.0px;top:494.6px;width:30.2px;height:11.4px;line-height:13.4px;font-size:12.4px;color:#000;padding-right:4.6px;"><span style="transform:scaleX(0.77)">2327</span></div>
<div class="r" style="left:419.20px;top:494.65px;width:30.20px;height:11.44px;background:#33b033;"></div>
<div class="c sf ar" style="left:419.2px;top:494.6px;width:30.2px;height:11.4px;line-height:13.4px;font-size:10.4px;color:#98580e;padding-right:1.0px;"><span style="transform:scaleX(0.7)">(12708)</span></div>
<div class="r" style="left:449.40px;top:494.65px;width:30.20px;height:11.44px;background:#33b033;"></div>
<div class="c sf ar" style="left:449.4px;top:494.6px;width:30.2px;height:11.4px;line-height:13.4px;font-size:10.4px;color:#98580e;padding-right:1.0px;"><span style="transform:scaleX(0.7)">(16866)</span></div>
<div class="r" style="left:479.60px;top:494.65px;width:30.20px;height:11.44px;background:#aeef9f;"></div>
<div class="c sf ar" style="left:479.6px;top:494.6px;width:30.2px;height:11.4px;line-height:13.4px;font-size:12.2px;color:#b8501e;padding-right:1.2px;"><span style="transform:scaleX(0.74)">(4158)</span></div>
<div class="r" style="left:268.20px;top:506.09px;width:30.20px;height:11.44px;background:#33b033;"></div>
<div class="c sf ar" style="left:268.2px;top:506.1px;width:30.2px;height:11.4px;line-height:13.4px;font-size:10.4px;color:#98580e;padding-right:1.0px;"><span style="transform:scaleX(0.7)">(12431)</span></div>
<div class="r" style="left:298.40px;top:506.09px;width:30.20px;height:11.44px;background:#f7acf7;"></div>
<div class="c sf ar" style="left:298.4px;top:506.1px;width:30.2px;height:11.4px;line-height:13.4px;font-size:12.4px;color:#000;padding-right:4.6px;"><span style="transform:scaleX(0.77)">2257</span></div>
<div class="r" style="left:328.60px;top:506.09px;width:30.20px;height:11.44px;background:#33b033;"></div>
<div class="c sf ar" style="left:328.6px;top:506.1px;width:30.2px;height:11.4px;line-height:13.4px;font-size:10.4px;color:#98580e;padding-right:1.0px;"><span style="transform:scaleX(0.7)">(10174)</span></div>
<div class="r" style="left:358.80px;top:506.09px;width:30.20px;height:11.44px;background:#33b033;"></div>
<div class="c sf ar" style="left:358.8px;top:506.1px;width:30.2px;height:11.4px;line-height:13.4px;font-size:10.4px;color:#98580e;padding-right:1.0px;"><span style="transform:scaleX(0.7)">(11049)</span></div>
<div class="r" style="left:389.00px;top:506.09px;width:30.20px;height:11.44px;background:#fbc2fb;"></div>
<div class="c sf ar" style="left:389.0px;top:506.1px;width:30.2px;height:11.4px;line-height:13.4px;font-size:12.4px;color:#000;padding-right:4.6px;"><span style="transform:scaleX(0.77)">610</span></div>
<div class="r" style="left:419.20px;top:506.09px;width:30.20px;height:11.44px;background:#33b033;"></div>
<div class="c sf ar" style="left:419.2px;top:506.1px;width:30.2px;height:11.4px;line-height:13.4px;font-size:10.4px;color:#98580e;padding-right:1.0px;"><span style="transform:scaleX(0.7)">(10439)</span></div>
<div class="r" style="left:449.40px;top:506.09px;width:30.20px;height:11.44px;background:#33b033;"></div>
<div class="c sf ar" style="left:449.4px;top:506.1px;width:30.2px;height:11.4px;line-height:13.4px;font-size:10.4px;color:#98580e;padding-right:1.0px;"><span style="transform:scaleX(0.7)">(10445)</span></div>
<div class="r" style="left:479.60px;top:506.09px;width:30.20px;height:11.44px;background:#d4ffd4;"></div>
<div class="c sf ar" style="left:479.6px;top:506.1px;width:30.2px;height:11.4px;line-height:13.4px;font-size:12.4px;color:#b8501e;padding-right:1.6px;"><span style="transform:scaleX(0.77)">(6)</span></div>
<div class="r" style="left:268.20px;top:517.52px;width:30.20px;height:11.44px;background:#33b033;"></div>
<div class="c sf ar" style="left:268.2px;top:517.5px;width:30.2px;height:11.4px;line-height:13.4px;font-size:12.2px;color:#98580e;padding-right:1.2px;"><span style="transform:scaleX(0.74)">(8375)</span></div>
<div class="r" style="left:298.40px;top:517.52px;width:30.20px;height:11.44px;background:#f8b0f8;"></div>
<div class="c sf ar" style="left:298.4px;top:517.5px;width:30.2px;height:11.4px;line-height:13.4px;font-size:12.4px;color:#000;padding-right:4.6px;"><span style="transform:scaleX(0.77)">1863</span></div>
<div class="r" style="left:328.60px;top:517.52px;width:30.20px;height:11.44px;background:#33b033;"></div>
<div class="c sf ar" style="left:328.6px;top:517.5px;width:30.2px;height:11.4px;line-height:13.4px;font-size:12.2px;color:#98580e;padding-right:1.2px;"><span style="transform:scaleX(0.74)">(6512)</span></div>
<div class="r" style="left:358.80px;top:517.52px;width:30.20px;height:11.44px;background:#33b033;"></div>
<div class="c sf ar" style="left:358.8px;top:517.5px;width:30.2px;height:11.4px;line-height:13.4px;font-size:10.4px;color:#98580e;padding-right:1.0px;"><span style="transform:scaleX(0.7)">(13515)</span></div>
<div class="r" style="left:389.00px;top:517.52px;width:30.20px;height:11.44px;background:#fbc1fb;"></div>
<div class="c sf ar" style="left:389.0px;top:517.5px;width:30.2px;height:11.4px;line-height:13.4px;font-size:12.4px;color:#000;padding-right:4.6px;"><span style="transform:scaleX(0.77)">666</span></div>
<div class="r" style="left:419.20px;top:517.52px;width:30.20px;height:11.44px;background:#33b033;"></div>
<div class="c sf ar" style="left:419.2px;top:517.5px;width:30.2px;height:11.4px;line-height:13.4px;font-size:10.4px;color:#98580e;padding-right:1.0px;"><span style="transform:scaleX(0.7)">(12849)</span></div>
<div class="r" style="left:449.40px;top:517.52px;width:30.20px;height:11.44px;background:#33b033;"></div>
<div class="c sf ar" style="left:449.4px;top:517.5px;width:30.2px;height:11.4px;line-height:13.4px;font-size:10.4px;color:#98580e;padding-right:1.0px;"><span style="transform:scaleX(0.7)">(11139)</span></div>
<div class="r" style="left:479.60px;top:517.52px;width:30.20px;height:11.44px;background:#f8b2f8;"></div>
<div class="c sf ar" style="left:479.6px;top:517.5px;width:30.2px;height:11.4px;line-height:13.4px;font-size:12.4px;color:#000;padding-right:4.6px;"><span style="transform:scaleX(0.77)">1710</span></div>
<div class="r" style="left:268.20px;top:528.96px;width:30.20px;height:11.44px;background:#ccfbc9;"></div>
<div class="c sf ar" style="left:268.2px;top:529.0px;width:30.2px;height:11.4px;line-height:13.4px;font-size:12.4px;color:#b8501e;padding-right:1.6px;"><span style="transform:scaleX(0.77)">(607)</span></div>
<div class="r" style="left:298.40px;top:528.96px;width:30.20px;height:11.44px;background:#fed3fe;"></div>
<div class="c sf ar" style="left:298.4px;top:529.0px;width:30.2px;height:11.4px;line-height:13.4px;font-size:12.4px;color:#000;padding-right:4.6px;"><span style="transform:scaleX(0.77)">59</span></div>
<div class="r" style="left:328.60px;top:528.96px;width:30.20px;height:11.44px;background:#ccfcc9;"></div>
<div class="c sf ar" style="left:328.6px;top:529.0px;width:30.2px;height:11.4px;line-height:13.4px;font-size:12.4px;color:#b8501e;padding-right:1.6px;"><span style="transform:scaleX(0.77)">(548)</span></div>
<div class="r" style="left:358.80px;top:528.96px;width:30.20px;height:11.44px;background:#33b033;"></div>
<div class="c sf ar" style="left:358.8px;top:529.0px;width:30.2px;height:11.4px;line-height:13.4px;font-size:12.2px;color:#98580e;padding-right:1.2px;"><span style="transform:scaleX(0.74)">(5890)</span></div>
<div class="r" style="left:389.00px;top:528.96px;width:30.20px;height:11.44px;background:#fccbfc;"></div>
<div class="c sf ar" style="left:389.0px;top:529.0px;width:30.2px;height:11.4px;line-height:13.4px;font-size:12.4px;color:#000;padding-right:4.6px;"><span style="transform:scaleX(0.77)">236</span></div>
<div class="r" style="left:419.20px;top:528.96px;width:30.20px;height:11.44px;background:#33b033;"></div>
<div class="c sf ar" style="left:419.2px;top:529.0px;width:30.2px;height:11.4px;line-height:13.4px;font-size:12.2px;color:#98580e;padding-right:1.2px;"><span style="transform:scaleX(0.74)">(5654)</span></div>
<div class="r" style="left:449.40px;top:528.96px;width:30.20px;height:11.44px;background:#bdf5b3;"></div>
<div class="c sf ar" style="left:449.4px;top:529.0px;width:30.2px;height:11.4px;line-height:13.4px;font-size:12.2px;color:#b8501e;padding-right:1.2px;"><span style="transform:scaleX(0.74)">(2281)</span></div>
<div class="r" style="left:479.60px;top:528.96px;width:30.20px;height:11.44px;background:#f5a2f5;"></div>
<div class="c sf ar" style="left:479.6px;top:529.0px;width:30.2px;height:11.4px;line-height:13.4px;font-size:12.4px;color:#000;padding-right:4.6px;"><span style="transform:scaleX(0.77)">3373</span></div>
<div class="r" style="left:268.20px;top:540.39px;width:30.20px;height:11.44px;background:#cbfbc8;"></div>
<div class="c sf ar" style="left:268.2px;top:540.4px;width:30.2px;height:11.4px;line-height:13.4px;font-size:12.4px;color:#b8501e;padding-right:1.6px;"><span style="transform:scaleX(0.77)">(660)</span></div>
<div class="r" style="left:298.40px;top:540.39px;width:30.20px;height:11.44px;background:#fed7fe;"></div>
<div class="c sf ar" style="left:298.4px;top:540.4px;width:30.2px;height:11.4px;line-height:13.4px;font-size:12.4px;color:#000;padding-right:4.6px;"><span style="transform:scaleX(0.77)">11</span></div>
<div class="r" style="left:328.60px;top:540.39px;width:30.20px;height:11.44px;background:#cbfbc8;"></div>
<div class="c sf ar" style="left:328.6px;top:540.4px;width:30.2px;height:11.4px;line-height:13.4px;font-size:12.4px;color:#b8501e;padding-right:1.6px;"><span style="transform:scaleX(0.77)">(649)</span></div>
<div class="r" style="left:358.80px;top:540.39px;width:30.20px;height:11.44px;background:#33b033;"></div>
<div class="c sf ar" style="left:358.8px;top:540.4px;width:30.2px;height:11.4px;line-height:13.4px;font-size:12.2px;color:#98580e;padding-right:1.2px;"><span style="transform:scaleX(0.74)">(6681)</span></div>
<div class="r" style="left:389.00px;top:540.39px;width:30.20px;height:11.44px;background:#fdcefd;"></div>
<div class="c sf ar" style="left:389.0px;top:540.4px;width:30.2px;height:11.4px;line-height:13.4px;font-size:12.4px;color:#000;padding-right:4.6px;"><span style="transform:scaleX(0.77)">149</span></div>
<div class="r" style="left:419.20px;top:540.39px;width:30.20px;height:11.44px;background:#33b033;"></div>
<div class="c sf ar" style="left:419.2px;top:540.4px;width:30.2px;height:11.4px;line-height:13.4px;font-size:12.2px;color:#98580e;padding-right:1.2px;"><span style="transform:scaleX(0.74)">(6532)</span></div>
<div class="r" style="left:449.40px;top:540.39px;width:30.20px;height:11.44px;background:#adee9d;"></div>
<div class="c sf ar" style="left:449.4px;top:540.4px;width:30.2px;height:11.4px;line-height:13.4px;font-size:12.2px;color:#b8501e;padding-right:1.2px;"><span style="transform:scaleX(0.74)">(4278)</span></div>
<div class="r" style="left:479.60px;top:540.39px;width:30.20px;height:11.44px;background:#f7acf7;"></div>
<div class="c sf ar" style="left:479.6px;top:540.4px;width:30.2px;height:11.4px;line-height:13.4px;font-size:12.4px;color:#000;padding-right:4.6px;"><span style="transform:scaleX(0.77)">2254</span></div>
<div class="r" style="left:268.20px;top:551.83px;width:30.20px;height:11.44px;background:#d3ffd3;"></div>
<div class="c sf ar" style="left:268.2px;top:551.8px;width:30.2px;height:11.4px;line-height:13.4px;font-size:12.4px;color:#b8501e;padding-right:1.6px;"><span style="transform:scaleX(0.77)">(21)</span></div>
<div class="c sf ar" style="left:298.4px;top:551.8px;width:30.2px;height:11.4px;line-height:13.4px;font-size:12.4px;color:#000;padding-right:4.6px;"><span style="transform:scaleX(0.77)">0</span></div>
<div class="r" style="left:328.60px;top:551.83px;width:30.20px;height:11.44px;background:#d3ffd3;"></div>
<div class="c sf ar" style="left:328.6px;top:551.8px;width:30.2px;height:11.4px;line-height:13.4px;font-size:12.4px;color:#b8501e;padding-right:1.6px;"><span style="transform:scaleX(0.77)">(21)</span></div>
<div class="r" style="left:358.80px;top:551.83px;width:30.20px;height:11.44px;background:#c6f9c0;"></div>
<div class="c sf ar" style="left:358.8px;top:551.8px;width:30.2px;height:11.4px;line-height:13.4px;font-size:12.2px;color:#b8501e;padding-right:1.2px;"><span style="transform:scaleX(0.74)">(1247)</span></div>
<div class="r" style="left:389.00px;top:551.83px;width:30.20px;height:11.44px;background:#ffd8ff;"></div>
<div class="c sf ar" style="left:389.0px;top:551.8px;width:30.2px;height:11.4px;line-height:13.4px;font-size:12.4px;color:#000;padding-right:4.6px;"><span style="transform:scaleX(0.77)">6</span></div>
<div class="r" style="left:419.20px;top:551.83px;width:30.20px;height:11.44px;background:#c6f9c0;"></div>
<div class="c sf ar" style="left:419.2px;top:551.8px;width:30.2px;height:11.4px;line-height:13.4px;font-size:12.2px;color:#b8501e;padding-right:1.2px;"><span style="transform:scaleX(0.74)">(1241)</span></div>
<div class="r" style="left:449.40px;top:551.83px;width:30.20px;height:11.44px;background:#c1f7b9;"></div>
<div class="c sf ar" style="left:449.4px;top:551.8px;width:30.2px;height:11.4px;line-height:13.4px;font-size:12.2px;color:#b8501e;padding-right:1.2px;"><span style="transform:scaleX(0.74)">(1779)</span></div>
<div class="r" style="left:479.60px;top:551.83px;width:30.20px;height:11.44px;background:#cdfcca;"></div>
<div class="c sf ar" style="left:479.6px;top:551.8px;width:30.2px;height:11.4px;line-height:13.4px;font-size:12.4px;color:#b8501e;padding-right:1.6px;"><span style="transform:scaleX(0.77)">(538)</span></div>
<div class="r" style="left:268.20px;top:563.26px;width:30.20px;height:11.44px;background:#d2fed1;"></div>
<div class="c sf ar" style="left:268.2px;top:563.3px;width:30.2px;height:11.4px;line-height:13.4px;font-size:12.4px;color:#b8501e;padding-right:1.6px;"><span style="transform:scaleX(0.77)">(116)</span></div>
<div class="r" style="left:298.40px;top:563.26px;width:30.20px;height:11.44px;background:#ffd9ff;"></div>
<div class="c sf ar" style="left:298.4px;top:563.3px;width:30.2px;height:11.4px;line-height:13.4px;font-size:12.4px;color:#000;padding-right:4.6px;"><span style="transform:scaleX(0.77)">1</span></div>
<div class="r" style="left:328.60px;top:563.26px;width:30.20px;height:11.44px;background:#d2fed1;"></div>
<div class="c sf ar" style="left:328.6px;top:563.3px;width:30.2px;height:11.4px;line-height:13.4px;font-size:12.4px;color:#b8501e;padding-right:1.6px;"><span style="transform:scaleX(0.77)">(115)</span></div>
<div class="r" style="left:358.80px;top:563.26px;width:30.20px;height:11.44px;background:#afefa0;"></div>
<div class="c sf ar" style="left:358.8px;top:563.3px;width:30.2px;height:11.4px;line-height:13.4px;font-size:12.2px;color:#b8501e;padding-right:1.2px;"><span style="transform:scaleX(0.74)">(4033)</span></div>
<div class="r" style="left:389.00px;top:563.26px;width:30.20px;height:11.44px;background:#ffd8ff;"></div>
<div class="c sf ar" style="left:389.0px;top:563.3px;width:30.2px;height:11.4px;line-height:13.4px;font-size:12.4px;color:#000;padding-right:4.6px;"><span style="transform:scaleX(0.77)">5</span></div>
<div class="r" style="left:419.20px;top:563.26px;width:30.20px;height:11.44px;background:#afefa0;"></div>
<div class="c sf ar" style="left:419.2px;top:563.3px;width:30.2px;height:11.4px;line-height:13.4px;font-size:12.2px;color:#b8501e;padding-right:1.2px;"><span style="transform:scaleX(0.74)">(4028)</span></div>
<div class="r" style="left:449.40px;top:563.26px;width:30.20px;height:11.44px;background:#b5f1a8;"></div>
<div class="c sf ar" style="left:449.4px;top:563.3px;width:30.2px;height:11.4px;line-height:13.4px;font-size:12.2px;color:#b8501e;padding-right:1.2px;"><span style="transform:scaleX(0.74)">(3265)</span></div>
<div class="r" style="left:479.60px;top:563.26px;width:30.20px;height:11.44px;background:#fabffa;"></div>
<div class="c sf ar" style="left:479.6px;top:563.3px;width:30.2px;height:11.4px;line-height:13.4px;font-size:12.4px;color:#000;padding-right:4.6px;"><span style="transform:scaleX(0.77)">763</span></div>
<div class="c sf ar" style="left:268.2px;top:574.7px;width:30.2px;height:11.4px;line-height:13.4px;font-size:12.4px;color:#000;padding-right:4.6px;"><span style="transform:scaleX(0.77)">0</span></div>
<div class="c sf ar" style="left:298.4px;top:574.7px;width:30.2px;height:11.4px;line-height:13.4px;font-size:12.4px;color:#000;padding-right:4.6px;"><span style="transform:scaleX(0.77)">0</span></div>
<div class="c sf ar" style="left:328.6px;top:574.7px;width:30.2px;height:11.4px;line-height:13.4px;font-size:12.4px;color:#000;padding-right:4.6px;"><span style="transform:scaleX(0.77)">0</span></div>
<div class="c sf ar" style="left:358.8px;top:574.7px;width:30.2px;height:11.4px;line-height:13.4px;font-size:12.4px;color:#000;padding-right:4.6px;"><span style="transform:scaleX(0.77)">0</span></div>
<div class="c sf ar" style="left:389.0px;top:574.7px;width:30.2px;height:11.4px;line-height:13.4px;font-size:12.4px;color:#000;padding-right:4.6px;"><span style="transform:scaleX(0.77)">0</span></div>
<div class="c sf ar" style="left:419.2px;top:574.7px;width:30.2px;height:11.4px;line-height:13.4px;font-size:12.4px;color:#000;padding-right:4.6px;"><span style="transform:scaleX(0.77)">0</span></div>
<div class="c sf ar" style="left:449.4px;top:574.7px;width:30.2px;height:11.4px;line-height:13.4px;font-size:12.4px;color:#000;padding-right:4.6px;"><span style="transform:scaleX(0.77)">0</span></div>
<div class="c sf ar" style="left:479.6px;top:574.7px;width:30.2px;height:11.4px;line-height:13.4px;font-size:12.4px;color:#000;padding-right:4.6px;"><span style="transform:scaleX(0.77)">0</span></div>
<div class="r" style="left:268.20px;top:586.13px;width:30.20px;height:11.44px;background:#cdfccb;"></div>
<div class="c sf ar" style="left:268.2px;top:586.1px;width:30.2px;height:11.4px;line-height:13.4px;font-size:12.4px;color:#b8501e;padding-right:1.6px;"><span style="transform:scaleX(0.77)">(461)</span></div>
<div class="c sf ar" style="left:298.4px;top:586.1px;width:30.2px;height:11.4px;line-height:13.4px;font-size:12.4px;color:#000;padding-right:4.6px;"><span style="transform:scaleX(0.77)">0</span></div>
<div class="r" style="left:328.60px;top:586.13px;width:30.20px;height:11.44px;background:#cdfccb;"></div>
<div class="c sf ar" style="left:328.6px;top:586.1px;width:30.2px;height:11.4px;line-height:13.4px;font-size:12.4px;color:#b8501e;padding-right:1.6px;"><span style="transform:scaleX(0.77)">(461)</span></div>
<div class="r" style="left:358.80px;top:586.13px;width:30.20px;height:11.44px;background:#cafbc6;"></div>
<div class="c sf ar" style="left:358.8px;top:586.1px;width:30.2px;height:11.4px;line-height:13.4px;font-size:12.4px;color:#b8501e;padding-right:1.6px;"><span style="transform:scaleX(0.77)">(790)</span></div>
<div class="c sf ar" style="left:389.0px;top:586.1px;width:30.2px;height:11.4px;line-height:13.4px;font-size:12.4px;color:#000;padding-right:4.6px;"><span style="transform:scaleX(0.77)">0</span></div>
<div class="r" style="left:419.20px;top:586.13px;width:30.20px;height:11.44px;background:#cafbc6;"></div>
<div class="c sf ar" style="left:419.2px;top:586.1px;width:30.2px;height:11.4px;line-height:13.4px;font-size:12.4px;color:#b8501e;padding-right:1.6px;"><span style="transform:scaleX(0.77)">(790)</span></div>
<div class="r" style="left:449.40px;top:586.13px;width:30.20px;height:11.44px;background:#c7fac2;"></div>
<div class="c sf ar" style="left:449.4px;top:586.1px;width:30.2px;height:11.4px;line-height:13.4px;font-size:12.2px;color:#b8501e;padding-right:1.2px;"><span style="transform:scaleX(0.74)">(1038)</span></div>
<div class="r" style="left:479.60px;top:586.13px;width:30.20px;height:11.44px;background:#d0fdce;"></div>
<div class="c sf ar" style="left:479.6px;top:586.1px;width:30.2px;height:11.4px;line-height:13.4px;font-size:12.4px;color:#b8501e;padding-right:1.6px;"><span style="transform:scaleX(0.77)">(248)</span></div>
<div class="c sf ar" style="left:268.2px;top:597.6px;width:30.2px;height:11.4px;line-height:13.4px;font-size:12.4px;color:#000;padding-right:4.6px;"><span style="transform:scaleX(0.77)">0</span></div>
<div class="c sf ar" style="left:298.4px;top:597.6px;width:30.2px;height:11.4px;line-height:13.4px;font-size:12.4px;color:#000;padding-right:4.6px;"><span style="transform:scaleX(0.77)">0</span></div>
<div class="c sf ar" style="left:328.6px;top:597.6px;width:30.2px;height:11.4px;line-height:13.4px;font-size:12.4px;color:#000;padding-right:4.6px;"><span style="transform:scaleX(0.77)">0</span></div>
<div class="c sf ar" style="left:358.8px;top:597.6px;width:30.2px;height:11.4px;line-height:13.4px;font-size:12.4px;color:#000;padding-right:4.6px;"><span style="transform:scaleX(0.77)">0</span></div>
<div class="c sf ar" style="left:389.0px;top:597.6px;width:30.2px;height:11.4px;line-height:13.4px;font-size:12.4px;color:#000;padding-right:4.6px;"><span style="transform:scaleX(0.77)">0</span></div>
<div class="c sf ar" style="left:419.2px;top:597.6px;width:30.2px;height:11.4px;line-height:13.4px;font-size:12.4px;color:#000;padding-right:4.6px;"><span style="transform:scaleX(0.77)">0</span></div>
<div class="c sf ar" style="left:449.4px;top:597.6px;width:30.2px;height:11.4px;line-height:13.4px;font-size:12.4px;color:#000;padding-right:4.6px;"><span style="transform:scaleX(0.77)">0</span></div>
<div class="c sf ar" style="left:479.6px;top:597.6px;width:30.2px;height:11.4px;line-height:13.4px;font-size:12.4px;color:#000;padding-right:4.6px;"><span style="transform:scaleX(0.77)">0</span></div>
<div class="c sf ar" style="left:268.2px;top:609.0px;width:30.2px;height:11.4px;line-height:13.4px;font-size:12.4px;color:#000;padding-right:4.6px;"><span style="transform:scaleX(0.77)">0</span></div>
<div class="r" style="left:298.40px;top:609.00px;width:30.20px;height:11.44px;background:#ffd9ff;"></div>
<div class="c sf ar" style="left:298.4px;top:609.0px;width:30.2px;height:11.4px;line-height:13.4px;font-size:12.4px;color:#000;padding-right:4.6px;"><span style="transform:scaleX(0.77)">1</span></div>
<div class="r" style="left:328.60px;top:609.00px;width:30.20px;height:11.44px;background:#ffd9ff;"></div>
<div class="c sf ar" style="left:328.6px;top:609.0px;width:30.2px;height:11.4px;line-height:13.4px;font-size:12.4px;color:#000;padding-right:4.6px;"><span style="transform:scaleX(0.77)">1</span></div>
<div class="r" style="left:358.80px;top:609.00px;width:30.20px;height:11.44px;background:#cbfbc7;"></div>
<div class="c sf ar" style="left:358.8px;top:609.0px;width:30.2px;height:11.4px;line-height:13.4px;font-size:12.4px;color:#b8501e;padding-right:1.6px;"><span style="transform:scaleX(0.77)">(734)</span></div>
<div class="r" style="left:389.00px;top:609.00px;width:30.20px;height:11.44px;background:#ffd9ff;"></div>
<div class="c sf ar" style="left:389.0px;top:609.0px;width:30.2px;height:11.4px;line-height:13.4px;font-size:12.4px;color:#000;padding-right:4.6px;"><span style="transform:scaleX(0.77)">1</span></div>
<div class="r" style="left:419.20px;top:609.00px;width:30.20px;height:11.44px;background:#cbfbc7;"></div>
<div class="c sf ar" style="left:419.2px;top:609.0px;width:30.2px;height:11.4px;line-height:13.4px;font-size:12.4px;color:#b8501e;padding-right:1.6px;"><span style="transform:scaleX(0.77)">(733)</span></div>
<div class="r" style="left:449.40px;top:609.00px;width:30.20px;height:11.44px;background:#cdfcca;"></div>
<div class="c sf ar" style="left:449.4px;top:609.0px;width:30.2px;height:11.4px;line-height:13.4px;font-size:12.4px;color:#b8501e;padding-right:1.6px;"><span style="transform:scaleX(0.77)">(495)</span></div>
<div class="r" style="left:479.60px;top:609.00px;width:30.20px;height:11.44px;background:#fccbfc;"></div>
<div class="c sf ar" style="left:479.6px;top:609.0px;width:30.2px;height:11.4px;line-height:13.4px;font-size:12.4px;color:#000;padding-right:4.6px;"><span style="transform:scaleX(0.77)">238</span></div>
<svg class="abs" style="left:0;top:0" width="520" height="640"><path d="M268.2 151.6H509.7999999999999 M268.2 163.03H509.7999999999999 M268.2 174.47H509.7999999999999 M268.2 185.91H509.7999999999999 M268.2 197.34H509.7999999999999 M268.2 208.78H509.7999999999999 M268.2 220.21H509.7999999999999 M268.2 231.64H509.7999999999999 M268.2 243.08H509.7999999999999 M268.2 254.51H509.7999999999999 M268.2 265.95H509.7999999999999 M268.2 277.38H509.7999999999999 M268.2 288.82H509.7999999999999 M268.2 300.25H509.7999999999999 M268.2 311.69H509.7999999999999 M268.2 323.12H509.7999999999999 M268.2 334.56H509.7999999999999 M268.2 346.0H509.7999999999999 M268.2 357.43H509.7999999999999 M268.2 368.87H509.7999999999999 M268.2 380.3H509.7999999999999 M268.2 391.74H509.7999999999999 M268.2 403.17H509.7999999999999 M268.2 414.61H509.7999999999999 M268.2 426.04H509.7999999999999 M268.2 437.48H509.7999999999999 M268.2 448.91H509.7999999999999 M268.2 460.35H509.7999999999999 M268.2 471.78H509.7999999999999 M268.2 483.22H509.7999999999999 M268.2 494.65H509.7999999999999 M268.2 506.09H509.7999999999999 M268.2 517.52H509.7999999999999 M268.2 528.96H509.7999999999999 M268.2 540.39H509.7999999999999 M268.2 551.83H509.7999999999999 M268.2 563.26H509.7999999999999 M268.2 574.7H509.7999999999999 M268.2 586.13H509.7999999999999 M268.2 597.57H509.7999999999999 M268.2 609.0H509.7999999999999 M268.2 620.44H509.7999999999999 M268.2 151.60V620.44 M298.4 151.60V620.44 M328.6 151.60V620.44 M358.8 151.60V620.44 M389.0 151.60V620.44 M419.2 151.60V620.44 M449.4 151.60V620.44 M479.6 151.60V620.44 M509.8 151.60V620.44" stroke="#111" stroke-width="1" fill="none"/></svg>
<div class="c" style="left:5px;top:87.5px;width:21px;height:27.8px;line-height:27.8px;font-size:6.6px;color:#3a6ab0;font-family:'Liberation Serif','Noto Serif CJK SC','Noto Sans CJK TC',serif;overflow:hidden"><span style="transform:scaleX(.9);transform-origin:left center;text-decoration:underline">目錄!A</span></div>
<div class="c sf al" style="left:26.0px;top:87.5px;width:20.0px;height:27.8px;line-height:27.8px;font-size:6.6px;color:#858585;"><span style="transform:scaleX(0.95)">總計</span></div>
<div class="c sf al" style="left:64.5px;top:87.5px;width:20.0px;height:27.8px;line-height:27.8px;font-size:6.6px;color:#858585;padding-left:0.5px;"><span style="transform:scaleX(0.95)">目錄</span></div>
<div class="c sf ar" style="left:85.2px;top:87.5px;width:23.0px;height:27.8px;line-height:27.8px;font-size:6.5px;color:#ea7070;padding-right:1.6px;"><span style="transform:scaleX(1)">(5,080)</span></div>
<div class="c sf ar" style="left:108.2px;top:87.5px;width:23.0px;height:27.8px;line-height:27.8px;font-size:6.5px;color:#858585;padding-right:1.6px;"><span style="transform:scaleX(1)">18,273</span></div>
<div class="c sf ar" style="left:131.2px;top:87.5px;width:22.7px;height:27.8px;line-height:27.8px;font-size:6.5px;color:#858585;padding-right:1.6px;"><span style="transform:scaleX(1)">16,755</span></div>
<div class="c sf ar" style="left:153.9px;top:87.5px;width:22.8px;height:27.8px;line-height:27.8px;font-size:6.5px;color:#858585;padding-right:1.6px;"><span style="transform:scaleX(1)">8,932</span></div>
<div class="c sf ar" style="left:176.7px;top:87.5px;width:22.7px;height:27.8px;line-height:27.8px;font-size:6.5px;color:#ea7070;padding-right:1.6px;"><span style="transform:scaleX(1)">(7,981)</span></div>
<div class="c sf ar" style="left:199.4px;top:87.5px;width:23.0px;height:27.8px;line-height:27.8px;font-size:6.5px;color:#858585;padding-right:1.6px;"><span style="transform:scaleX(1)">23,911</span></div>
<div class="c sf ar" style="left:222.4px;top:87.5px;width:23.0px;height:27.8px;line-height:27.8px;font-size:6.5px;color:#858585;padding-right:1.6px;"><span style="transform:scaleX(1)">44,890</span></div>
<div class="c sf ar" style="left:85.2px;top:115.3px;width:23.0px;height:9.0px;line-height:9.0px;font-size:6.5px;color:#ea7070;padding-right:1.6px;"><span style="transform:scaleX(1)">(5,080)</span></div>
<div class="c sf ar" style="left:108.2px;top:115.3px;width:23.0px;height:9.0px;line-height:9.0px;font-size:6.5px;color:#858585;padding-right:1.6px;"><span style="transform:scaleX(1)">13,193</span></div>
<div class="c sf ar" style="left:131.2px;top:115.3px;width:22.7px;height:9.0px;line-height:9.0px;font-size:6.5px;color:#858585;padding-right:1.6px;"><span style="transform:scaleX(1)">29,948</span></div>
<div class="c sf ar" style="left:153.9px;top:115.3px;width:22.8px;height:9.0px;line-height:9.0px;font-size:6.5px;color:#858585;padding-right:1.6px;"><span style="transform:scaleX(1)">38,880</span></div>
<div class="c sf ar" style="left:176.7px;top:115.3px;width:22.7px;height:9.0px;line-height:9.0px;font-size:6.5px;color:#858585;padding-right:1.6px;"><span style="transform:scaleX(1)">20,979</span></div>
<div class="c sf ar" style="left:199.4px;top:115.3px;width:23.0px;height:9.0px;line-height:9.0px;font-size:6.5px;color:#858585;padding-right:1.6px;"><span style="transform:scaleX(1)">44,890</span></div>
<div class="r" style="left:3.70px;top:123.60px;width:9.40px;height:11.00px;background:#ffff00;"></div>
<div class="c sf ar" style="left:0.0px;top:124.0px;width:13.0px;height:9.4px;line-height:9.4px;font-size:5.6px;color:#666;padding-right:0.5px;"><span style="transform:scaleX(0.9)">口 ##</span></div>
<div class="c sf al" style="left:64.5px;top:124.0px;width:20.0px;height:9.4px;line-height:9.4px;font-size:6.6px;color:#666;padding-left:0.5px;"><span style="transform:scaleX(0.95)">單位</span></div>
<div class="c sf al" style="left:86.5px;top:124.0px;width:22.0px;height:9.4px;line-height:9.4px;font-size:6.4px;color:#666;padding-left:0.5px;"><span style="transform:scaleX(0.95)">口壹合</span></div>
<div class="c sf al" style="left:109.5px;top:124.0px;width:22.0px;height:9.4px;line-height:9.4px;font-size:6.4px;color:#666;padding-left:0.5px;"><span style="transform:scaleX(0.95)">口壹合</span></div>
<div class="c sf al" style="left:132.5px;top:124.0px;width:12.0px;height:9.4px;line-height:9.4px;font-size:6.4px;color:#666;padding-left:0.5px;"><span style="transform:scaleX(0.95)">萬</span></div>
<div class="c sf al" style="left:155.0px;top:124.0px;width:12.0px;height:9.4px;line-height:9.4px;font-size:6.4px;color:#666;padding-left:0.5px;"><span style="transform:scaleX(0.95)">萬</span></div>
<div class="c sf ar" style="left:268.2px;top:124.0px;width:30.2px;height:9.4px;line-height:9.4px;font-size:6.5px;color:#ea7070;padding-right:2.2px;"><span style="transform:scaleX(1)">(282917)</span></div>
<div class="c sf ar" style="left:298.4px;top:124.0px;width:30.2px;height:9.4px;line-height:9.4px;font-size:6.5px;color:#858585;padding-right:2.2px;"><span style="transform:scaleX(1)">233007</span></div>
<div class="c sf ar" style="left:328.6px;top:124.0px;width:30.2px;height:9.4px;line-height:9.4px;font-size:6.5px;color:#ea7070;padding-right:2.2px;"><span style="transform:scaleX(1)">(50910)</span></div>
<div class="c sf ar" style="left:358.8px;top:124.0px;width:30.2px;height:9.4px;line-height:9.4px;font-size:6.5px;color:#ea7070;padding-right:2.2px;"><span style="transform:scaleX(1)">(96388)</span></div>
<div class="c sf ar" style="left:389.0px;top:124.0px;width:30.2px;height:9.4px;line-height:9.4px;font-size:6.5px;color:#858585;padding-right:2.2px;"><span style="transform:scaleX(1)">151106</span></div>
<div class="c sf ar" style="left:419.2px;top:124.0px;width:30.2px;height:9.4px;line-height:9.4px;font-size:6.5px;color:#858585;padding-right:2.2px;"><span style="transform:scaleX(1)">54718</span></div>
<div class="c sf ar" style="left:449.4px;top:124.0px;width:30.2px;height:9.4px;line-height:9.4px;font-size:6.5px;color:#858585;padding-right:2.2px;"><span style="transform:scaleX(1)">97872</span></div>
<div class="c sf ar" style="left:479.6px;top:124.0px;width:30.2px;height:9.4px;line-height:9.4px;font-size:6.5px;color:#858585;padding-right:2.2px;"><span style="transform:scaleX(1)">43154</span></div>
<div class="c sf ar" style="left:0.0px;top:133.4px;width:13.0px;height:8.8px;line-height:8.8px;font-size:5.6px;color:#666;padding-right:0.5px;"><span style="transform:scaleX(0.9)">口 ##</span></div>
<div class="c sf ar" style="left:0.0px;top:142.2px;width:13.0px;height:9.0px;line-height:9.0px;font-size:5.6px;color:#666;padding-right:0.5px;"><span style="transform:scaleX(0.9)">口 ##</span></div>
<div class="c sf ac" style="left:85.2px;top:134.4px;width:160.0px;height:8.0px;line-height:8.0px;font-size:6.2px;color:#777;"><span style="transform:scaleX(0.95)">C-P_A值</span></div>
<div class="c sf al" style="left:86.7px;top:142.6px;width:23.0px;height:8.4px;line-height:8.4px;font-size:6.2px;color:#e8b0c8;padding-left:0.5px;"><span style="transform:scaleX(0.95)">三</span></div>
<div class="c sf al" style="left:109.7px;top:142.6px;width:23.0px;height:8.4px;line-height:8.4px;font-size:6.2px;color:#907070;padding-left:0.5px;"><span style="transform:scaleX(0.95)">四</span></div>
<div class="c sf al" style="left:132.7px;top:142.6px;width:22.7px;height:8.4px;line-height:8.4px;font-size:6.2px;color:#a08060;padding-left:0.5px;"><span style="transform:scaleX(0.95)">五</span></div>
<div class="c sf al" style="left:155.4px;top:142.6px;width:22.8px;height:8.4px;line-height:8.4px;font-size:6.2px;color:#888;padding-left:0.5px;"><span style="transform:scaleX(0.95)">一</span></div>
<div class="c sf al" style="left:178.2px;top:142.6px;width:22.7px;height:8.4px;line-height:8.4px;font-size:6.2px;color:#ccc;padding-left:0.5px;"><span style="transform:scaleX(0.95)">二</span></div>
<div class="c sf al" style="left:200.9px;top:142.6px;width:23.0px;height:8.4px;line-height:8.4px;font-size:6.2px;color:#c8c8c8;padding-left:0.5px;"><span style="transform:scaleX(0.95)">三</span></div>
<div class="c sf al" style="left:223.9px;top:142.6px;width:23.0px;height:8.4px;line-height:8.4px;font-size:6.2px;color:#777;padding-left:0.5px;"><span style="transform:scaleX(0.95)">總值</span></div>
<div class="c sf al" style="left:269.2px;top:133.6px;width:30.2px;height:8.6px;line-height:8.6px;font-size:6.4px;color:#666;padding-left:0.5px;"><span style="transform:scaleX(0.92)">整C</span></div>
<div class="c sf al" style="left:269.2px;top:142.6px;width:30.2px;height:8.6px;line-height:8.6px;font-size:6.4px;color:#666;padding-left:0.5px;"><span style="transform:scaleX(0.92)">整C</span></div>
<div class="c sf al" style="left:299.4px;top:133.6px;width:30.2px;height:8.6px;line-height:8.6px;font-size:6.4px;color:#666;padding-left:0.5px;"><span style="transform:scaleX(0.92)">整P</span></div>
<div class="c sf al" style="left:299.4px;top:142.6px;width:30.2px;height:8.6px;line-height:8.6px;font-size:6.4px;color:#666;padding-left:0.5px;"><span style="transform:scaleX(0.92)">整P</span></div>
<div class="c sf al" style="left:329.6px;top:133.6px;width:30.2px;height:8.6px;line-height:8.6px;font-size:6.4px;color:#666;padding-left:0.5px;"><span style="transform:scaleX(0.92)">整P-C</span></div>
<div class="c sf al" style="left:329.6px;top:142.6px;width:30.2px;height:8.6px;line-height:8.6px;font-size:6.4px;color:#666;padding-left:0.5px;"><span style="transform:scaleX(0.92)">整P-C</span></div>
<div class="c sf al" style="left:359.8px;top:133.6px;width:30.2px;height:8.6px;line-height:8.6px;font-size:6.4px;color:#666;padding-left:0.5px;"><span style="transform:scaleX(0.92)">OI_C</span></div>
<div class="c sf al" style="left:359.8px;top:142.6px;width:30.2px;height:8.6px;line-height:8.6px;font-size:6.4px;color:#3a6ab0;padding-left:0.5px;"><span style="transform:scaleX(0.92);text-decoration:underline;">OI_C</span></div>
<div class="c sf al" style="left:390.0px;top:133.6px;width:30.2px;height:8.6px;line-height:8.6px;font-size:6.4px;color:#666;padding-left:0.5px;"><span style="transform:scaleX(0.92)">OI_P</span></div>
<div class="c sf al" style="left:390.0px;top:142.6px;width:30.2px;height:8.6px;line-height:8.6px;font-size:6.4px;color:#666;padding-left:0.5px;"><span style="transform:scaleX(0.92)">OI_P</span></div>
<div class="c sf al" style="left:420.2px;top:133.6px;width:30.2px;height:8.6px;line-height:8.6px;font-size:6.4px;color:#666;padding-left:0.5px;"><span style="transform:scaleX(0.92)">P-C</span></div>
<div class="c sf al" style="left:420.2px;top:142.6px;width:30.2px;height:8.6px;line-height:8.6px;font-size:6.4px;color:#666;padding-left:0.5px;"><span style="transform:scaleX(0.92)">P-C</span></div>
<div class="c sf al" style="left:450.4px;top:133.6px;width:30.2px;height:8.6px;line-height:8.6px;font-size:6.4px;color:#666;padding-left:0.5px;"><span style="transform:scaleX(0.92)">OI+SM</span></div>
<div class="c sf al" style="left:450.4px;top:142.6px;width:30.2px;height:8.6px;line-height:8.6px;font-size:6.4px;color:#666;padding-left:0.5px;"><span style="transform:scaleX(0.92)">OI+SM</span></div>
<div class="c sf al" style="left:480.6px;top:133.6px;width:30.2px;height:8.6px;line-height:8.6px;font-size:6.4px;color:#666;padding-left:0.5px;"><span style="transform:scaleX(0.92)">SM_OP</span></div>
<div class="c sf al" style="left:480.6px;top:142.6px;width:30.2px;height:8.6px;line-height:8.6px;font-size:6.4px;color:#666;padding-left:0.5px;"><span style="transform:scaleX(0.92)">SM_OP</span></div>
<div class="c sf ar" style="left:0.0px;top:151.6px;width:13.0px;height:11.4px;line-height:11.4px;font-size:5.6px;color:#666;padding-right:0.5px;"><span style="transform:scaleX(0.9)">音50</span></div>
<div class="c sf ar" style="left:0.0px;top:288.8px;width:13.0px;height:11.4px;line-height:11.4px;font-size:5.6px;color:#666;padding-right:0.5px;"><span style="transform:scaleX(0.9)">口 ##</span></div>
<div class="c sf ar" style="left:0.0px;top:300.3px;width:13.0px;height:11.4px;line-height:11.4px;font-size:5.6px;color:#666;padding-right:0.5px;"><span style="transform:scaleX(0.9)">口 ##</span></div>
<div class="c sf ar" style="left:0.0px;top:346.0px;width:13.0px;height:11.4px;line-height:11.4px;font-size:5.6px;color:#666;padding-right:1px;"><span style="transform:scaleX(0.9)">##</span></div>
<div class="c sf ac" style="left:3.5px;top:380.3px;width:10.0px;height:11.4px;line-height:11.4px;font-size:6px;color:#777;"><span style="transform:scaleX(0.95)">中</span></div>
<div class="c" style="left:527px;top:88px;width:160px;height:28px;line-height:29px;font-size:22.5px;color:#444;font-family:'Liberation Serif','Noto Serif CJK SC','Noto Sans CJK TC',serif"><span style="transform:scaleX(.8);transform-origin:left center">2023/3/8 14:58</span></div>
<div class="c sf al" style="left:4.0px;top:629.1px;width:70.0px;height:8.9px;line-height:8.9px;font-size:6px;color:#777;"><span style="transform:scaleX(0.98)">PUT沒負值讓吐訊關事先</span></div>
<div class="c sf ar" style="left:85.2px;top:629.1px;width:23.0px;height:8.9px;line-height:8.9px;font-size:6.2px;color:#858585;padding-right:2px;"><span style="transform:scaleX(0.9)">10,021</span></div>
<div class="c sf ar" style="left:108.2px;top:629.1px;width:23.0px;height:8.9px;line-height:8.9px;font-size:6.2px;color:#858585;padding-right:2px;"><span style="transform:scaleX(0.9)">2,663</span></div>
<div class="c sf ar" style="left:131.2px;top:629.1px;width:22.7px;height:8.9px;line-height:8.9px;font-size:6.2px;color:#858585;padding-right:2px;"><span style="transform:scaleX(0.9)">1,540</span></div>
<div class="c sf ar" style="left:153.9px;top:629.1px;width:22.8px;height:8.9px;line-height:8.9px;font-size:6.2px;color:#858585;padding-right:2px;"><span style="transform:scaleX(0.9)">1,919</span></div>
<div class="c sf ar" style="left:176.7px;top:629.1px;width:22.7px;height:8.9px;line-height:8.9px;font-size:6.2px;color:#858585;padding-right:2px;"><span style="transform:scaleX(0.9)">0</span></div>
<div class="c sf ar" style="left:199.4px;top:629.1px;width:23.0px;height:8.9px;line-height:8.9px;font-size:6.2px;color:#858585;padding-right:2px;"><span style="transform:scaleX(0.9)">0</span></div>
<div class="c sf ar" style="left:222.4px;top:629.1px;width:23.0px;height:8.9px;line-height:8.9px;font-size:6.2px;color:#858585;padding-right:2px;"><span style="transform:scaleX(0.9)">0</span></div>
<div class="c sf ar" style="left:358.8px;top:629.1px;width:30.2px;height:8.9px;line-height:8.9px;font-size:6.2px;color:#858585;padding-right:2.5px;"><span style="transform:scaleX(0.9)">-103,192</span></div>
<div class="c sf ar" style="left:389.0px;top:629.1px;width:30.2px;height:8.9px;line-height:8.9px;font-size:6.2px;color:#858585;padding-right:2.5px;"><span style="transform:scaleX(0.9)">156,774</span></div>
<div class="c sf ar" style="left:419.2px;top:629.1px;width:30.2px;height:8.9px;line-height:8.9px;font-size:6.2px;color:#858585;padding-right:2.5px;"><span style="transform:scaleX(0.9)">53,582</span></div>
<div class="c sf ar" style="left:449.4px;top:629.1px;width:30.2px;height:8.9px;line-height:8.9px;font-size:6.2px;color:#858585;padding-right:2.5px;"><span style="transform:scaleX(0.9)">98,472</span></div>
<div class="c sf ar" style="left:479.6px;top:629.1px;width:30.2px;height:8.9px;line-height:8.9px;font-size:6.2px;color:#858585;padding-right:2.5px;"><span style="transform:scaleX(0.9)">44,890</span></div>
<div class="c sf al" style="left:27.0px;top:638.0px;width:30.0px;height:8.7px;line-height:8.7px;font-size:6px;color:#777;"><span style="transform:scaleX(0.98)">開走勢</span></div>
<div class="c sf al" style="left:64.5px;top:638.0px;width:30.0px;height:8.7px;line-height:8.7px;font-size:6px;color:#777;"><span style="transform:scaleX(0.98);text-decoration:underline;">開杜狀</span></div>
<div class="c" style="left:111px;top:638px;width:134px;height:8.7px;line-height:8.7px;font-size:6px;color:#777;font-family:'Liberation Serif','Noto Serif CJK SC','Noto Sans CJK TC',serif;overflow:hidden">圖：當月月選的A值的成交金額1千萬以上才有顯示</div>
<div class="r" style="left:26.00px;top:647.50px;width:173.30px;height:106.40px;background:#fff;"></div>
<div class="r" style="left:199.30px;top:647.50px;width:45.60px;height:70.70px;background:#fff;"></div>
<div class="r" style="left:26.00px;top:664.10px;width:37.40px;height:1.00px;background:#dbdbdb;"></div>
<div class="r" style="left:26.00px;top:681.90px;width:37.40px;height:1.00px;background:#dbdbdb;"></div>
<div class="r" style="left:26.00px;top:700.00px;width:37.40px;height:1.00px;background:#dbdbdb;"></div>
<div class="r" style="left:26.00px;top:718.00px;width:37.40px;height:1.00px;background:#dbdbdb;"></div>
<div class="r" style="left:26.00px;top:735.90px;width:37.40px;height:1.00px;background:#dbdbdb;"></div>
<div class="c sf ac" style="left:63.4px;top:646.7px;width:45.0px;height:17.9px;line-height:18.9px;font-size:13.6px;color:#b5343a;"><span style="transform:scaleX(0.84)">P_OI</span></div>
<div class="c sf ac" style="left:108.4px;top:646.7px;width:45.4px;height:17.9px;line-height:18.9px;font-size:13.6px;color:#b5343a;"><span style="transform:scaleX(0.84)">C_OI</span></div>
<div class="c sf ac" style="left:153.8px;top:646.7px;width:45.5px;height:17.9px;line-height:18.9px;font-size:13.6px;color:#b5343a;"><span style="transform:scaleX(0.84)">P-C_OI</span></div>
<div class="c sf ac" style="left:199.3px;top:646.7px;width:46.1px;height:17.9px;line-height:17.9px;font-size:9.4px;color:#b5343a;font-weight:bold;"><span style="transform:scaleX(0.74)">P/C_RATIO</span></div>
<div class="c sf ac" style="left:63.4px;top:664.6px;width:45.0px;height:17.8px;line-height:18.8px;font-size:15.4px;color:#b5343a;"><span style="transform:scaleX(0.76)">157,383</span></div>
<div class="c sf ac" style="left:108.4px;top:664.6px;width:45.4px;height:17.8px;line-height:18.8px;font-size:15.4px;color:#b5343a;"><span style="transform:scaleX(0.76)">103,553</span></div>
<div class="c sf ac" style="left:153.8px;top:664.6px;width:45.5px;height:17.8px;line-height:18.8px;font-size:15.4px;color:#b5343a;"><span style="transform:scaleX(0.76)">53,830</span></div>
<div class="c sf ac" style="left:199.3px;top:664.6px;width:46.1px;height:17.8px;line-height:18.8px;font-size:15.4px;color:#b5343a;"><span style="transform:scaleX(0.76)">1.52</span></div>
<div class="c sf ac" style="left:63.4px;top:682.4px;width:45.0px;height:18.1px;line-height:19.1px;font-size:15.4px;color:#b5343a;"><span style="transform:scaleX(0.76)">151,106</span></div>
<div class="c sf ac" style="left:108.4px;top:682.4px;width:45.4px;height:18.1px;line-height:19.1px;font-size:15.4px;color:#b5343a;"><span style="transform:scaleX(0.76)">96,388</span></div>
<div class="c sf ac" style="left:153.8px;top:682.4px;width:45.5px;height:18.1px;line-height:19.1px;font-size:15.4px;color:#b5343a;"><span style="transform:scaleX(0.76)">54,718</span></div>
<div class="c sf ac" style="left:199.3px;top:682.4px;width:46.1px;height:18.1px;line-height:19.1px;font-size:15.4px;color:#b5343a;"><span style="transform:scaleX(0.76)">1.57</span></div>
<div class="c sf ac" style="left:63.4px;top:700.5px;width:45.0px;height:18.0px;line-height:19.0px;font-size:15.4px;color:#b5343a;"><span style="transform:scaleX(0.76)">156,774</span></div>
<div class="c sf ac" style="left:108.4px;top:700.5px;width:45.4px;height:18.0px;line-height:19.0px;font-size:15.4px;color:#b5343a;"><span style="transform:scaleX(0.76)">103,192</span></div>
<div class="c sf ac" style="left:153.8px;top:700.5px;width:45.5px;height:18.0px;line-height:19.0px;font-size:15.4px;color:#b5343a;"><span style="transform:scaleX(0.76)">53,582</span></div>
<div class="c sf ac" style="left:199.3px;top:700.5px;width:46.1px;height:18.0px;line-height:19.0px;font-size:15.4px;color:#b5343a;"><span style="transform:scaleX(0.76)">1.52</span></div>
<div class="c sf ac" style="left:63.4px;top:718.5px;width:45.0px;height:17.9px;line-height:18.9px;font-size:13.6px;color:#b5343a;"><span style="transform:scaleX(0.84)">SMP</span></div>
<div class="c sf ac" style="left:108.4px;top:718.5px;width:45.4px;height:17.9px;line-height:18.9px;font-size:13.6px;color:#b5343a;"><span style="transform:scaleX(0.84)">SMC</span></div>
<div class="c sf ac" style="left:153.8px;top:718.5px;width:45.5px;height:17.9px;line-height:18.9px;font-size:13.6px;color:#b5343a;"><span style="transform:scaleX(0.84)">SMOP</span></div>
<div class="c sf ac" style="left:63.4px;top:736.4px;width:45.0px;height:17.8px;line-height:18.8px;font-size:15.4px;color:#b5343a;"><span style="transform:scaleX(0.76)">49,434</span></div>
<div class="c sf ac" style="left:108.4px;top:736.4px;width:45.4px;height:17.8px;line-height:18.8px;font-size:15.4px;color:#b5343a;"><span style="transform:scaleX(0.76)">(4,544)</span></div>
<div class="c sf ac" style="left:153.8px;top:736.4px;width:45.5px;height:17.8px;line-height:18.8px;font-size:15.4px;color:#b5343a;"><span style="transform:scaleX(0.76)">44,890</span></div>
<div class="c sf ac" style="left:25.2px;top:664.6px;width:38.0px;height:18.0px;line-height:18.0px;font-size:12px;color:#000;font-weight:bold;"><span style="transform:scaleX(0.95)">全</span></div>
<div class="c sf ac" style="left:25.2px;top:682.4px;width:38.0px;height:18.0px;line-height:18.0px;font-size:8.6px;color:#888;"><span style="transform:scaleX(0.9)">上下14檔</span></div>
<div class="c sf ac" style="left:25.2px;top:700.5px;width:38.0px;height:18.0px;line-height:18.0px;font-size:8.6px;color:#888;"><span style="transform:scaleX(0.9)">上下20檔</span></div>
<div class="c sf ac" style="left:25.2px;top:736.4px;width:38.0px;height:18.0px;line-height:18.0px;font-size:11.5px;color:#000;font-weight:bold;font-style:italic;"><span style="transform:scaleX(0.9)">SM</span></div>
<svg class="abs" style="left:0;top:0" width="260" height="798"><path d="M63.4 646.7H245.4 M63.4 664.6H245.4 M63.4 682.4H245.4 M63.4 700.5H245.4 M63.4 718.5H245.4 M63.4 736.4H199.3 M63.4 754.2H199.3 M63.4 646.7V754.2 M108.4 646.7V754.2 M153.8 646.7V754.2 M199.3 646.7V754.2" stroke="#111" stroke-width="1.2" fill="none"/></svg>
<div class="c" style="left:26px;top:790px;width:130px;height:9px;line-height:9px;font-size:5.8px;color:#777;font-family:'Liberation Serif','Noto Serif CJK SC','Noto Sans CJK TC',serif">HYPERLINK("#振價全!$G2","中心履約價")</div>
<div class="abs" style="left:2.8px;top:86.2px;width:11px;height:29.6px;border:2px solid #217346;box-sizing:border-box"></div>
<div class="r" style="left:11.60px;top:113.40px;width:3.00px;height:3.00px;background:#217346;border:0.5px solid #fff;"></div>
<svg class="abs" style="left:0;top:0" width="1502" height="798" viewBox="0 0 1502 798">
<rect x='511.70' y='119.00' width='172.10' height='507.00' fill='#fff' stroke='#dcdcdc' stroke-width='1'/>
<path d='M528.8 137V608' stroke='#dedede' stroke-width='1'/>
<path d='M563.5 137V608' stroke='#dedede' stroke-width='1'/>
<path d='M598.2 137V608' stroke='#dedede' stroke-width='1'/>
<path d='M632.9 137V608' stroke='#dedede' stroke-width='1'/>
<path d='M667.6 137V608' stroke='#dedede' stroke-width='1'/>
<rect x='598.20' y='596.80' width='7.07' height='3.20' fill='#e3000f' />
<rect x='598.20' y='600.90' width='7.07' height='3.20' fill='#f19cf1' />
<rect x='598.20' y='573.83' width='5.31' height='3.20' fill='#e3000f' />
<rect x='598.20' y='577.93' width='5.31' height='3.20' fill='#f19cf1' />
<rect x='598.20' y='550.85' width='7.25' height='3.20' fill='#e3000f' />
<rect x='598.20' y='554.95' width='7.25' height='3.20' fill='#f19cf1' />
<rect x='598.20' y='527.88' width='10.29' height='3.20' fill='#e3000f' />
<rect x='598.20' y='531.98' width='10.29' height='3.20' fill='#f19cf1' />
<rect x='598.20' y='504.90' width='14.90' height='3.20' fill='#e3000f' />
<rect x='598.20' y='509.00' width='14.90' height='3.20' fill='#f19cf1' />
<rect x='598.20' y='513.10' width='0.00' height='3.20' fill='#63ee63' />
<rect x='598.20' y='481.93' width='11.36' height='3.20' fill='#e3000f' />
<rect x='598.20' y='486.03' width='11.46' height='3.20' fill='#f19cf1' />
<rect x='598.10' y='490.13' width='0.10' height='3.20' fill='#63ee63' />
<rect x='598.20' y='458.96' width='19.47' height='3.20' fill='#e3000f' />
<rect x='598.20' y='463.06' width='19.54' height='3.20' fill='#f19cf1' />
<rect x='598.13' y='467.16' width='0.07' height='3.20' fill='#63ee63' />
<rect x='598.20' y='447.47' width='7.73' height='3.20' fill='#e3000f' />
<rect x='598.20' y='451.57' width='7.74' height='3.20' fill='#f19cf1' />
<rect x='598.19' y='455.67' width='0.01' height='3.20' fill='#63ee63' />
<rect x='598.20' y='435.98' width='13.35' height='3.20' fill='#e3000f' />
<rect x='598.20' y='440.08' width='13.47' height='3.20' fill='#f19cf1' />
<rect x='598.08' y='444.18' width='0.12' height='3.20' fill='#63ee63' />
<rect x='598.20' y='424.49' width='9.97' height='3.20' fill='#e3000f' />
<rect x='598.20' y='428.59' width='10.00' height='3.20' fill='#f19cf1' />
<rect x='598.17' y='432.69' width='0.03' height='3.20' fill='#63ee63' />
<rect x='598.20' y='413.01' width='18.43' height='3.20' fill='#e3000f' />
<rect x='598.20' y='417.11' width='18.56' height='3.20' fill='#f19cf1' />
<rect x='598.07' y='421.21' width='0.13' height='3.20' fill='#63ee63' />
<rect x='598.20' y='401.52' width='11.12' height='3.20' fill='#e3000f' />
<rect x='598.20' y='405.62' width='11.25' height='3.20' fill='#f19cf1' />
<rect x='598.07' y='409.72' width='0.13' height='3.20' fill='#63ee63' />
<rect x='598.20' y='390.03' width='32.59' height='3.20' fill='#e3000f' />
<rect x='598.20' y='394.13' width='33.03' height='3.20' fill='#f19cf1' />
<rect x='597.76' y='398.23' width='0.44' height='3.20' fill='#63ee63' />
<rect x='598.20' y='378.55' width='11.50' height='3.20' fill='#e3000f' />
<rect x='598.20' y='382.65' width='12.56' height='3.20' fill='#f19cf1' />
<rect x='597.14' y='386.75' width='1.06' height='3.20' fill='#63ee63' />
<rect x='598.20' y='367.06' width='17.29' height='3.20' fill='#e3000f' />
<rect x='598.20' y='371.16' width='19.07' height='3.20' fill='#f19cf1' />
<rect x='596.42' y='375.26' width='1.78' height='3.20' fill='#63ee63' />
<rect x='598.20' y='355.57' width='19.03' height='3.20' fill='#e3000f' />
<rect x='598.20' y='359.67' width='20.93' height='3.20' fill='#f19cf1' />
<rect x='596.30' y='363.77' width='1.90' height='3.20' fill='#63ee63' />
<rect x='598.20' y='344.09' width='29.18' height='3.20' fill='#e3000f' />
<rect x='598.20' y='348.19' width='32.99' height='3.20' fill='#f19cf1' />
<rect x='594.39' y='352.29' width='3.81' height='3.20' fill='#63ee63' />
<rect x='598.20' y='332.60' width='23.09' height='3.20' fill='#e3000f' />
<rect x='598.20' y='336.70' width='27.07' height='3.20' fill='#f19cf1' />
<rect x='594.22' y='340.80' width='3.98' height='3.20' fill='#63ee63' />
<rect x='598.20' y='321.11' width='25.37' height='3.20' fill='#e3000f' />
<rect x='598.20' y='325.21' width='33.03' height='3.20' fill='#f19cf1' />
<rect x='590.54' y='329.31' width='7.66' height='3.20' fill='#63ee63' />
<rect x='598.20' y='309.62' width='28.06' height='3.20' fill='#e3000f' />
<rect x='598.20' y='313.72' width='32.69' height='3.20' fill='#f19cf1' />
<rect x='593.57' y='317.82' width='4.63' height='3.20' fill='#63ee63' />
<rect x='598.20' y='298.14' width='53.52' height='3.20' fill='#e3000f' />
<rect x='598.20' y='302.24' width='62.53' height='3.20' fill='#f19cf1' />
<rect x='589.20' y='306.34' width='9.00' height='3.20' fill='#63ee63' />
<rect x='598.20' y='286.65' width='37.83' height='3.20' fill='#e3000f' />
<rect x='598.20' y='290.75' width='59.67' height='3.20' fill='#f19cf1' />
<rect x='576.36' y='294.85' width='21.84' height='3.20' fill='#63ee63' />
<rect x='598.20' y='275.16' width='9.43' height='3.20' fill='#e3000f' />
<rect x='598.20' y='279.26' width='45.86' height='3.20' fill='#f19cf1' />
<rect x='561.78' y='283.36' width='36.42' height='3.20' fill='#63ee63' />
<rect x='551.74' y='263.68' width='46.46' height='3.20' fill='#129a55' />
<rect x='598.20' y='267.78' width='13.86' height='3.20' fill='#f19cf1' />
<rect x='537.88' y='271.88' width='60.32' height='3.20' fill='#63ee63' />
<rect x='554.10' y='252.19' width='44.10' height='3.20' fill='#129a55' />
<rect x='598.20' y='256.29' width='8.07' height='3.20' fill='#f19cf1' />
<rect x='546.03' y='260.39' width='52.17' height='3.20' fill='#63ee63' />
<rect x='561.98' y='240.70' width='36.22' height='3.20' fill='#129a55' />
<rect x='598.20' y='244.80' width='2.12' height='3.20' fill='#f19cf1' />
<rect x='559.86' y='248.90' width='38.34' height='3.20' fill='#63ee63' />
<rect x='553.61' y='229.22' width='44.59' height='3.20' fill='#129a55' />
<rect x='598.20' y='233.32' width='2.31' height='3.20' fill='#f19cf1' />
<rect x='551.30' y='237.42' width='46.90' height='3.20' fill='#63ee63' />
<rect x='578.58' y='217.73' width='19.62' height='3.20' fill='#129a55' />
<rect x='598.20' y='221.83' width='0.82' height='3.20' fill='#f19cf1' />
<rect x='577.76' y='225.93' width='20.44' height='3.20' fill='#63ee63' />
<rect x='575.53' y='206.24' width='22.67' height='3.20' fill='#129a55' />
<rect x='598.20' y='210.34' width='0.52' height='3.20' fill='#f19cf1' />
<rect x='575.02' y='214.44' width='23.18' height='3.20' fill='#63ee63' />
<rect x='593.89' y='194.75' width='4.31' height='3.20' fill='#129a55' />
<rect x='598.20' y='198.85' width='0.02' height='3.20' fill='#f19cf1' />
<rect x='593.87' y='202.95' width='4.33' height='3.20' fill='#63ee63' />
<rect x='584.22' y='183.27' width='13.98' height='3.20' fill='#129a55' />
<rect x='598.20' y='187.37' width='0.02' height='3.20' fill='#f19cf1' />
<rect x='584.21' y='191.47' width='13.99' height='3.20' fill='#63ee63' />
<rect x='595.46' y='160.29' width='2.74' height='3.20' fill='#129a55' />
<rect x='595.46' y='168.49' width='2.74' height='3.20' fill='#63ee63' />
<rect x='595.66' y='137.32' width='2.54' height='3.20' fill='#129a55' />
<rect x='598.20' y='141.42' width='0.00' height='3.20' fill='#f19cf1' />
<rect x='595.65' y='145.52' width='2.55' height='3.20' fill='#63ee63' />
<text x='588.0' y='605.3' font-size='8.2' fill='#595959' text-anchor='end' >14400</text>
<text x='588.0' y='582.3' font-size='8.2' fill='#595959' text-anchor='end' >14500</text>
<text x='588.0' y='559.4' font-size='8.2' fill='#595959' text-anchor='end' >14600</text>
<text x='588.0' y='536.4' font-size='8.2' fill='#595959' text-anchor='end' >14700</text>
<text x='588.0' y='513.4' font-size='8.2' fill='#595959' text-anchor='end' >14800</text>
<text x='588.0' y='490.4' font-size='8.2' fill='#595959' text-anchor='end' >14900</text>
<text x='588.0' y='467.5' font-size='8.2' fill='#595959' text-anchor='end' >15000</text>
<text x='588.0' y='444.5' font-size='8.2' fill='#595959' text-anchor='end' >15100</text>
<text x='588.0' y='421.5' font-size='8.2' fill='#595959' text-anchor='end' >15200</text>
<text x='588.0' y='398.5' font-size='8.2' fill='#595959' text-anchor='end' >15300</text>
<text x='588.0' y='375.6' font-size='8.2' fill='#595959' text-anchor='end' >15400</text>
<text x='588.0' y='352.6' font-size='8.2' fill='#595959' text-anchor='end' >15500</text>
<text x='588.0' y='329.6' font-size='8.2' fill='#595959' text-anchor='end' >15600</text>
<text x='588.0' y='306.6' font-size='8.2' fill='#595959' text-anchor='end' >15700</text>
<text x='588.0' y='283.7' font-size='8.2' fill='#595959' text-anchor='end' >15800</text>
<text x='588.0' y='260.7' font-size='8.2' fill='#595959' text-anchor='end' >15900</text>
<text x='588.0' y='237.7' font-size='8.2' fill='#595959' text-anchor='end' >16000</text>
<text x='588.0' y='214.7' font-size='8.2' fill='#595959' text-anchor='end' >16100</text>
<text x='588.0' y='191.8' font-size='8.2' fill='#595959' text-anchor='end' >16200</text>
<text x='588.0' y='168.8' font-size='8.2' fill='#595959' text-anchor='end' >16300</text>
<text x='588.0' y='145.8' font-size='8.2' fill='#595959' text-anchor='end' >16400</text>
<text x='528.3' y='622.8' font-size='8' fill='#c8242b' text-anchor='middle' >(20000)</text>
<text x='563.0' y='622.8' font-size='8' fill='#c8242b' text-anchor='middle' >(10000)</text>
<text x='597.7' y='622.8' font-size='8' fill='#595959' text-anchor='middle' >0</text>
<text x='632.4' y='622.8' font-size='8' fill='#595959' text-anchor='middle' >10000</text>
<text x='667.1' y='622.8' font-size='8' fill='#595959' text-anchor='middle' >20000</text>
<text x='633.2' y='167.6' font-size='6.2' fill='#666' text-anchor='middle' >OI分布圖</text>
<rect x='516.4' y='123' width='143.3' height='22.8' fill='none' stroke='#c8504f' stroke-width='1.6'/>
<rect x='527.40' y='130.30' width='7.00' height='7.60' fill='#f5000a' />
<text x='537.5' y='138.6' font-size='11.6' fill='#595959' text-anchor='start' >P-C</text>
<rect x='566.70' y='130.30' width='7.60' height='7.60' fill='#f5a0f5' />
<text x='578.5' y='138.6' font-size='11.6' fill='#595959' text-anchor='start' >OI_P</text>
<rect x='615.80' y='130.30' width='7.60' height='7.60' fill='#66f066' />
<text x='627.0' y='138.6' font-size='11.6' fill='#595959' text-anchor='start' >OI_C</text>
<rect x='685.40' y='119.00' width='155.00' height='508.60' fill='#fff' stroke='#dcdcdc' stroke-width='1'/>
<path d='M702.1 146V613.5' stroke='#dedede' stroke-width='1'/>
<path d='M733.0 146V613.5' stroke='#dedede' stroke-width='1'/>
<path d='M763.9 146V613.5' stroke='#dedede' stroke-width='1'/>
<path d='M794.8 146V613.5' stroke='#dedede' stroke-width='1'/>
<path d='M825.7 146V613.5' stroke='#dedede' stroke-width='1'/>
<rect x='763.90' y='602.40' width='2.22' height='5.30' fill='#f30af3' />
<rect x='763.90' y='608.10' width='5.37' height='5.30' fill='#e6000c' />
<rect x='763.90' y='579.63' width='0.28' height='5.30' fill='#f30af3' />
<rect x='763.90' y='585.33' width='2.64' height='5.30' fill='#e6000c' />
<rect x='763.75' y='556.86' width='0.15' height='5.30' fill='#98ee98' />
<rect x='763.90' y='562.56' width='3.08' height='5.30' fill='#e6000c' />
<rect x='763.90' y='534.09' width='0.39' height='5.30' fill='#f30af3' />
<rect x='763.90' y='539.79' width='4.97' height='5.30' fill='#e6000c' />
<rect x='763.84' y='511.32' width='0.06' height='5.30' fill='#98ee98' />
<rect x='763.90' y='517.02' width='6.58' height='5.30' fill='#e6000c' />
<rect x='763.90' y='488.55' width='2.01' height='5.30' fill='#f30af3' />
<rect x='763.90' y='494.25' width='7.07' height='5.30' fill='#e6000c' />
<rect x='763.90' y='465.78' width='1.00' height='5.30' fill='#f30af3' />
<rect x='763.90' y='471.48' width='9.67' height='5.30' fill='#e6000c' />
<rect x='762.43' y='454.39' width='1.47' height='5.30' fill='#98ee98' />
<rect x='763.90' y='460.09' width='1.97' height='5.30' fill='#e6000c' />
<rect x='761.58' y='443.01' width='2.32' height='5.30' fill='#98ee98' />
<rect x='763.90' y='448.71' width='3.62' height='5.30' fill='#e6000c' />
<rect x='762.01' y='431.62' width='1.89' height='5.30' fill='#98ee98' />
<rect x='763.90' y='437.32' width='2.55' height='5.30' fill='#e6000c' />
<rect x='763.90' y='420.24' width='1.39' height='5.30' fill='#f30af3' />
<rect x='763.90' y='425.94' width='9.59' height='5.30' fill='#e6000c' />
<rect x='763.90' y='408.86' width='2.60' height='5.30' fill='#f30af3' />
<rect x='763.90' y='414.56' width='7.55' height='5.30' fill='#e6000c' />
<rect x='761.78' y='397.47' width='2.12' height='5.30' fill='#98ee98' />
<rect x='763.90' y='403.17' width='12.39' height='5.30' fill='#e6000c' />
<rect x='763.90' y='386.08' width='0.49' height='5.30' fill='#f30af3' />
<rect x='763.90' y='391.78' width='5.61' height='5.30' fill='#e6000c' />
<rect x='763.90' y='374.70' width='4.72' height='5.30' fill='#f30af3' />
<rect x='763.90' y='380.40' width='12.42' height='5.30' fill='#e6000c' />
<rect x='763.90' y='363.31' width='6.00' height='5.30' fill='#f30af3' />
<rect x='763.90' y='369.01' width='14.47' height='5.30' fill='#e6000c' />
<rect x='763.90' y='351.93' width='0.78' height='5.30' fill='#f30af3' />
<rect x='763.90' y='357.63' width='13.78' height='5.30' fill='#e6000c' />
<rect x='763.90' y='340.54' width='1.00' height='5.30' fill='#f30af3' />
<rect x='763.90' y='346.24' width='11.29' height='5.30' fill='#e6000c' />
<rect x='763.90' y='329.16' width='12.32' height='5.30' fill='#f30af3' />
<rect x='763.90' y='334.86' width='23.61' height='5.30' fill='#e6000c' />
<rect x='763.90' y='317.77' width='10.99' height='5.30' fill='#f30af3' />
<rect x='763.90' y='323.47' width='23.48' height='5.30' fill='#e6000c' />
<rect x='763.90' y='306.39' width='18.05' height='5.30' fill='#f30af3' />
<rect x='763.90' y='312.09' width='41.89' height='5.30' fill='#e6000c' />
<rect x='763.90' y='295.00' width='24.21' height='5.30' fill='#f30af3' />
<rect x='763.90' y='300.70' width='41.05' height='5.30' fill='#e6000c' />
<rect x='763.00' y='283.62' width='0.90' height='5.30' fill='#98ee98' />
<rect x='763.90' y='289.32' width='3.30' height='5.30' fill='#e6000c' />
<rect x='748.48' y='272.23' width='15.42' height='5.30' fill='#98ee98' />
<rect x='727.79' y='277.93' width='36.11' height='5.30' fill='#35c535' />
<rect x='757.48' y='260.85' width='6.42' height='5.30' fill='#98ee98' />
<rect x='737.84' y='266.55' width='26.06' height='5.30' fill='#35c535' />
<rect x='763.89' y='249.46' width='0.01' height='5.30' fill='#98ee98' />
<rect x='747.76' y='255.16' width='16.14' height='5.30' fill='#35c535' />
<rect x='763.90' y='238.08' width='2.64' height='5.30' fill='#f30af3' />
<rect x='746.69' y='243.78' width='17.21' height='5.30' fill='#35c535' />
<rect x='763.90' y='226.69' width='5.21' height='5.30' fill='#f30af3' />
<rect x='760.38' y='232.39' width='3.52' height='5.30' fill='#35c535' />
<rect x='763.90' y='215.31' width='3.48' height='5.30' fill='#f30af3' />
<rect x='757.29' y='221.01' width='6.61' height='5.30' fill='#35c535' />
<rect x='763.07' y='203.93' width='0.83' height='5.30' fill='#98ee98' />
<rect x='761.15' y='209.62' width='2.75' height='5.30' fill='#35c535' />
<rect x='763.90' y='192.54' width='1.18' height='5.30' fill='#f30af3' />
<rect x='758.86' y='198.24' width='5.04' height='5.30' fill='#35c535' />
<rect x='763.52' y='169.77' width='0.38' height='5.30' fill='#98ee98' />
<rect x='762.30' y='175.47' width='1.60' height='5.30' fill='#35c535' />
<rect x='763.90' y='147.00' width='0.37' height='5.30' fill='#f30af3' />
<rect x='763.14' y='152.70' width='0.76' height='5.30' fill='#35c535' />
<text x='755.5' y='610.6' font-size='8.2' fill='#595959' text-anchor='end' >14400</text>
<text x='755.5' y='599.2' font-size='8.2' fill='#595959' text-anchor='end' >14450</text>
<text x='755.5' y='587.8' font-size='8.2' fill='#595959' text-anchor='end' >14500</text>
<text x='755.5' y='576.4' font-size='8.2' fill='#595959' text-anchor='end' >14550</text>
<text x='755.5' y='565.1' font-size='8.2' fill='#595959' text-anchor='end' >14600</text>
<text x='755.5' y='553.7' font-size='8.2' fill='#595959' text-anchor='end' >14650</text>
<text x='755.5' y='542.3' font-size='8.2' fill='#595959' text-anchor='end' >14700</text>
<text x='755.5' y='530.9' font-size='8.2' fill='#595959' text-anchor='end' >14750</text>
<text x='755.5' y='519.5' font-size='8.2' fill='#595959' text-anchor='end' >14800</text>
<text x='755.5' y='508.1' font-size='8.2' fill='#595959' text-anchor='end' >14850</text>
<text x='755.5' y='496.8' font-size='8.2' fill='#595959' text-anchor='end' >14900</text>
<text x='755.5' y='485.4' font-size='8.2' fill='#595959' text-anchor='end' >14950</text>
<text x='755.5' y='474.0' font-size='8.2' fill='#595959' text-anchor='end' >15000</text>
<text x='755.5' y='462.6' font-size='8.2' fill='#595959' text-anchor='end' >15050</text>
<text x='755.5' y='451.2' font-size='8.2' fill='#595959' text-anchor='end' >15100</text>
<text x='755.5' y='439.8' font-size='8.2' fill='#595959' text-anchor='end' >15150</text>
<text x='755.5' y='428.4' font-size='8.2' fill='#595959' text-anchor='end' >15200</text>
<text x='755.5' y='417.1' font-size='8.2' fill='#595959' text-anchor='end' >15250</text>
<text x='755.5' y='405.7' font-size='8.2' fill='#595959' text-anchor='end' >15300</text>
<text x='755.5' y='394.3' font-size='8.2' fill='#595959' text-anchor='end' >15350</text>
<text x='755.5' y='382.9' font-size='8.2' fill='#595959' text-anchor='end' >15400</text>
<text x='755.5' y='371.5' font-size='8.2' fill='#595959' text-anchor='end' >15450</text>
<text x='755.5' y='360.1' font-size='8.2' fill='#595959' text-anchor='end' >15500</text>
<text x='755.5' y='348.7' font-size='8.2' fill='#595959' text-anchor='end' >15550</text>
<text x='755.5' y='337.4' font-size='8.2' fill='#595959' text-anchor='end' >15600</text>
<text x='755.5' y='326.0' font-size='8.2' fill='#595959' text-anchor='end' >15650</text>
<text x='755.5' y='314.6' font-size='8.2' fill='#595959' text-anchor='end' >15700</text>
<text x='755.5' y='303.2' font-size='8.2' fill='#595959' text-anchor='end' >15750</text>
<text x='755.5' y='291.8' font-size='8.2' fill='#595959' text-anchor='end' >15800</text>
<text x='755.5' y='280.4' font-size='8.2' fill='#595959' text-anchor='end' >15850</text>
<text x='755.5' y='269.1' font-size='8.2' fill='#595959' text-anchor='end' >15900</text>
<text x='755.5' y='257.7' font-size='8.2' fill='#595959' text-anchor='end' >15950</text>
<text x='755.5' y='246.3' font-size='8.2' fill='#595959' text-anchor='end' >16000</text>
<text x='755.5' y='234.9' font-size='8.2' fill='#595959' text-anchor='end' >16050</text>
<text x='755.5' y='223.5' font-size='8.2' fill='#595959' text-anchor='end' >16100</text>
<text x='755.5' y='212.1' font-size='8.2' fill='#595959' text-anchor='end' >16150</text>
<text x='755.5' y='200.7' font-size='8.2' fill='#595959' text-anchor='end' >16200</text>
<text x='755.5' y='189.4' font-size='8.2' fill='#595959' text-anchor='end' >16250</text>
<text x='755.5' y='178.0' font-size='8.2' fill='#595959' text-anchor='end' >16300</text>
<text x='755.5' y='166.6' font-size='8.2' fill='#595959' text-anchor='end' >16350</text>
<text x='755.5' y='155.2' font-size='8.2' fill='#595959' text-anchor='end' >16400</text>
<text x='701.3' y='626.8' font-size='8' fill='#c8242b' text-anchor='middle' >(40000)</text>
<text x='732.2' y='626.8' font-size='8' fill='#c8242b' text-anchor='middle' >(20000)</text>
<text x='763.1' y='626.8' font-size='8' fill='#595959' text-anchor='middle' >0</text>
<text x='794.0' y='626.8' font-size='8' fill='#595959' text-anchor='middle' >20000</text>
<text x='824.9' y='626.8' font-size='8' fill='#595959' text-anchor='middle' >40000</text>
<text x='801.0' y='168.2' font-size='6.2' fill='#666' text-anchor='middle' >OI分布圖</text>
<rect x='690.6' y='127.3' width='148.4' height='23.8' fill='none' stroke='#c2272d' stroke-width='2'/>
<rect x='707.70' y='134.80' width='7.20' height='7.60' fill='#f30af3' />
<text x='718.6' y='143.0' font-size='12' fill='#595959' text-anchor='start' >SM_OP</text>
<rect x='778.00' y='134.80' width='7.40' height='7.60' fill='#e6000c' />
<text x='789.0' y='143.0' font-size='12' fill='#595959' text-anchor='start' >OI+SM</text>
<rect x='838.00' y='121.00' width='144.30' height='502.30' fill='#fff' stroke='#dcdcdc' stroke-width='1'/>
<path d='M853.0 140V608' stroke='#dedede' stroke-width='1'/>
<path d='M881.3 140V608' stroke='#dedede' stroke-width='1'/>
<path d='M909.6 140V608' stroke='#dedede' stroke-width='1'/>
<path d='M937.9 140V608' stroke='#dedede' stroke-width='1'/>
<path d='M966.2 140V608' stroke='#dedede' stroke-width='1'/>
<rect x='909.60' y='599.00' width='4.07' height='2.60' fill='#f8c20a' />
<rect x='909.60' y='605.60' width='4.07' height='2.60' fill='#e312e3' />
<rect x='909.60' y='576.16' width='0.51' height='2.60' fill='#f8c20a' />
<rect x='909.60' y='582.76' width='0.51' height='2.60' fill='#e312e3' />
<rect x='909.32' y='553.32' width='0.28' height='2.60' fill='#f8c20a' />
<rect x='909.32' y='559.92' width='0.28' height='2.60' fill='#1f9c5a' />
<rect x='909.60' y='530.48' width='0.71' height='2.60' fill='#f8c20a' />
<rect x='909.60' y='537.08' width='0.71' height='2.60' fill='#e312e3' />
<rect x='909.50' y='514.24' width='0.10' height='2.60' fill='#1f9c5a' />
<rect x='909.60' y='484.80' width='3.68' height='2.60' fill='#f8c20a' />
<rect x='909.60' y='491.40' width='3.68' height='2.60' fill='#e312e3' />
<rect x='909.60' y='461.96' width='1.66' height='2.60' fill='#f8c20a' />
<rect x='909.60' y='468.56' width='1.83' height='2.60' fill='#e312e3' />
<rect x='906.90' y='450.54' width='2.70' height='2.60' fill='#f8c20a' />
<rect x='906.90' y='457.14' width='2.70' height='2.60' fill='#1f9c5a' />
<rect x='905.18' y='439.12' width='4.42' height='2.60' fill='#f8c20a' />
<rect x='905.35' y='445.72' width='4.25' height='2.60' fill='#1f9c5a' />
<rect x='906.02' y='427.70' width='3.58' height='2.60' fill='#f8c20a' />
<rect x='906.13' y='434.30' width='3.47' height='2.60' fill='#1f9c5a' />
<rect x='909.60' y='416.28' width='2.54' height='2.60' fill='#f8c20a' />
<rect x='909.60' y='422.88' width='2.54' height='2.60' fill='#e312e3' />
<rect x='909.60' y='404.86' width='4.58' height='2.60' fill='#f8c20a' />
<rect x='909.60' y='411.46' width='4.75' height='2.60' fill='#e312e3' />
<rect x='905.61' y='393.44' width='3.99' height='2.60' fill='#f8c20a' />
<rect x='905.72' y='400.04' width='3.88' height='2.60' fill='#1f9c5a' />
<rect x='909.60' y='382.02' width='0.79' height='2.60' fill='#f8c20a' />
<rect x='909.60' y='388.62' width='0.90' height='2.60' fill='#e312e3' />
<rect x='909.60' y='370.60' width='8.65' height='2.60' fill='#f8c20a' />
<rect x='909.60' y='377.20' width='8.65' height='2.60' fill='#e312e3' />
<rect x='909.60' y='359.18' width='10.99' height='2.60' fill='#f8c20a' />
<rect x='909.60' y='365.78' width='10.99' height='2.60' fill='#e312e3' />
<rect x='909.60' y='347.76' width='4.81' height='2.60' fill='#f8c20a' />
<rect x='906.23' y='351.06' width='3.37' height='2.60' fill='#a9a9a9' />
<rect x='909.60' y='354.36' width='1.44' height='2.60' fill='#e312e3' />
<rect x='909.60' y='336.34' width='1.84' height='2.60' fill='#f8c20a' />
<rect x='909.60' y='342.94' width='1.84' height='2.60' fill='#e312e3' />
<rect x='909.60' y='324.92' width='25.39' height='2.60' fill='#f8c20a' />
<rect x='906.77' y='328.22' width='2.83' height='2.60' fill='#a9a9a9' />
<rect x='909.60' y='331.52' width='22.56' height='2.60' fill='#e312e3' />
<rect x='909.60' y='313.50' width='19.81' height='2.60' fill='#f8c20a' />
<rect x='909.60' y='316.80' width='0.32' height='2.60' fill='#a9a9a9' />
<rect x='909.60' y='320.10' width='20.13' height='2.60' fill='#e312e3' />
<rect x='909.60' y='302.08' width='20.83' height='2.60' fill='#f8c20a' />
<rect x='909.60' y='305.38' width='12.24' height='2.60' fill='#a9a9a9' />
<rect x='909.60' y='308.68' width='33.07' height='2.60' fill='#e312e3' />
<rect x='909.60' y='290.66' width='35.09' height='2.60' fill='#f8c20a' />
<rect x='909.60' y='293.96' width='9.25' height='2.60' fill='#a9a9a9' />
<rect x='909.60' y='297.26' width='44.35' height='2.60' fill='#e312e3' />
<rect x='909.60' y='279.24' width='12.45' height='2.60' fill='#f8c20a' />
<rect x='895.50' y='282.54' width='14.10' height='2.60' fill='#a9a9a9' />
<rect x='907.95' y='285.84' width='1.65' height='2.60' fill='#1f9c5a' />
<rect x='904.56' y='267.82' width='5.04' height='2.60' fill='#f8c20a' />
<rect x='886.39' y='271.12' width='23.21' height='2.60' fill='#a9a9a9' />
<rect x='881.36' y='274.42' width='28.24' height='2.60' fill='#1f9c5a' />
<rect x='907.74' y='256.40' width='1.86' height='2.60' fill='#f8c20a' />
<rect x='899.70' y='259.70' width='9.90' height='2.60' fill='#a9a9a9' />
<rect x='897.83' y='263.00' width='11.77' height='2.60' fill='#1f9c5a' />
<rect x='909.58' y='251.58' width='0.02' height='2.60' fill='#1f9c5a' />
<rect x='909.60' y='233.56' width='0.59' height='2.60' fill='#f8c20a' />
<rect x='909.60' y='236.86' width='4.25' height='2.60' fill='#a9a9a9' />
<rect x='909.60' y='240.16' width='4.84' height='2.60' fill='#e312e3' />
<rect x='909.60' y='222.14' width='1.34' height='2.60' fill='#f8c20a' />
<rect x='909.60' y='225.44' width='8.21' height='2.60' fill='#a9a9a9' />
<rect x='909.60' y='228.74' width='9.55' height='2.60' fill='#e312e3' />
<rect x='909.60' y='210.72' width='1.00' height='2.60' fill='#f8c20a' />
<rect x='909.60' y='214.02' width='5.38' height='2.60' fill='#a9a9a9' />
<rect x='909.60' y='217.32' width='6.38' height='2.60' fill='#e312e3' />
<rect x='908.08' y='202.60' width='1.52' height='2.60' fill='#a9a9a9' />
<rect x='908.08' y='205.90' width='1.52' height='2.60' fill='#1f9c5a' />
<rect x='909.60' y='191.18' width='2.16' height='2.60' fill='#a9a9a9' />
<rect x='909.60' y='194.48' width='2.16' height='2.60' fill='#e312e3' />
<rect x='908.90' y='168.34' width='0.70' height='2.60' fill='#a9a9a9' />
<rect x='908.90' y='171.64' width='0.70' height='2.60' fill='#1f9c5a' />
<rect x='909.60' y='145.50' width='0.67' height='2.60' fill='#a9a9a9' />
<rect x='909.60' y='148.80' width='0.67' height='2.60' fill='#e312e3' />
<text x='900.0' y='606.1' font-size='8.3' fill='#595959' text-anchor='end' >14400</text>
<text x='900.0' y='583.3' font-size='8.3' fill='#595959' text-anchor='end' >14500</text>
<text x='900.0' y='560.4' font-size='8.3' fill='#595959' text-anchor='end' >14600</text>
<text x='900.0' y='537.6' font-size='8.3' fill='#595959' text-anchor='end' >14700</text>
<text x='900.0' y='514.7' font-size='8.3' fill='#595959' text-anchor='end' >14800</text>
<text x='900.0' y='491.9' font-size='8.3' fill='#595959' text-anchor='end' >14900</text>
<text x='900.0' y='469.1' font-size='8.3' fill='#595959' text-anchor='end' >15000</text>
<text x='900.0' y='446.2' font-size='8.3' fill='#595959' text-anchor='end' >15100</text>
<text x='900.0' y='423.4' font-size='8.3' fill='#595959' text-anchor='end' >15200</text>
<text x='900.0' y='400.5' font-size='8.3' fill='#595959' text-anchor='end' >15300</text>
<text x='900.0' y='377.7' font-size='8.3' fill='#595959' text-anchor='end' >15400</text>
<text x='900.0' y='354.9' font-size='8.3' fill='#595959' text-anchor='end' >15500</text>
<text x='900.0' y='332.0' font-size='8.3' fill='#595959' text-anchor='end' >15600</text>
<text x='900.0' y='309.2' font-size='8.3' fill='#595959' text-anchor='end' >15700</text>
<text x='900.0' y='286.3' font-size='8.3' fill='#595959' text-anchor='end' >15800</text>
<text x='900.0' y='263.5' font-size='8.3' fill='#595959' text-anchor='end' >15900</text>
<text x='900.0' y='240.7' font-size='8.3' fill='#595959' text-anchor='end' >16000</text>
<text x='900.0' y='217.8' font-size='8.3' fill='#595959' text-anchor='end' >16100</text>
<text x='900.0' y='195.0' font-size='8.3' fill='#595959' text-anchor='end' >16200</text>
<text x='900.0' y='172.1' font-size='8.3' fill='#595959' text-anchor='end' >16300</text>
<text x='900.0' y='149.3' font-size='8.3' fill='#595959' text-anchor='end' >16400</text>
<text x='852.2' y='622.2' font-size='8' fill='#c8242b' text-anchor='middle' >(20000)</text>
<text x='880.5' y='622.2' font-size='8' fill='#c8242b' text-anchor='middle' >(10000)</text>
<text x='908.8' y='622.2' font-size='8' fill='#595959' text-anchor='middle' >0</text>
<text x='937.1' y='622.2' font-size='8' fill='#595959' text-anchor='middle' >10000</text>
<text x='965.4' y='622.2' font-size='8' fill='#595959' text-anchor='middle' >20000</text>
<text x='946.3' y='163.2' font-size='6.2' fill='#666' text-anchor='middle' >OI分布圖</text>
<rect x='839.4' y='121.2' width='42.8' height='111' fill='none' stroke='#c2272d' stroke-width='1.8'/>
<rect x='843.30' y='127.60' width='6.00' height='6.60' fill='#f8c20a' />
<text x='853.6' y='135.4' font-size='12' fill='#595959' text-anchor='start' >P_A</text>
<text x='853.6' y='152.0' font-size='11.5' fill='#595959' text-anchor='start' >值</text>
<rect x='843.30' y='164.60' width='6.00' height='6.60' fill='#a9a9a9' />
<text x='853.6' y='172.5' font-size='12' fill='#595959' text-anchor='start' >C_A</text>
<text x='853.6' y='189.5' font-size='11.5' fill='#595959' text-anchor='start' >值</text>
<rect x='843.30' y='202.00' width='6.00' height='6.60' fill='#e312e3' />
<text x='853.6' y='210.0' font-size='12' fill='#595959' text-anchor='start' >SM_</text>
<text x='853.6' y='227.6' font-size='12' fill='#595959' text-anchor='start' >OP</text>
<rect x='762.5999999999999' y='315.2' width='71.6' height='15.6' fill='#000' opacity='.16'/>
<rect x='760.8' y='313.4' width='71.6' height='15.6' fill='#fff' stroke='#8a8a8a' stroke-width='1'/>
<text x='796.6' y='324.6' font-size='9.3' fill='#4a4a4a' text-anchor='middle' xml:space='preserve'>水平 (類別) 軸</text>
<rect x='753.5999999999999' y='474.0' width='71.6' height='15.6' fill='#000' opacity='.16'/>
<rect x='751.8' y='472.2' width='71.6' height='15.6' fill='#fff' stroke='#8a8a8a' stroke-width='1'/>
<text x='787.6' y='483.4' font-size='9.3' fill='#4a4a4a' text-anchor='middle' xml:space='preserve'>垂直 (類別) 軸</text>
<rect x='511.60' y='628.30' width='167.20' height='123.20' fill='#fff' stroke='#dcdcdc' stroke-width='1'/>
<path d='M531 653.3H676' stroke='#dedede' stroke-width='1'/>
<text x='529.5' y='654.9' font-size='4.4' fill='#777' text-anchor='end' >200,000</text>
<path d='M531 666.8H676' stroke='#dedede' stroke-width='1'/>
<text x='529.5' y='668.4' font-size='4.4' fill='#777' text-anchor='end' >150,000</text>
<path d='M531 680.4H676' stroke='#dedede' stroke-width='1'/>
<text x='529.5' y='682.0' font-size='4.4' fill='#777' text-anchor='end' >100,000</text>
<path d='M531 693.9H676' stroke='#dedede' stroke-width='1'/>
<text x='529.5' y='695.5' font-size='4.4' fill='#777' text-anchor='end' >50,000</text>
<path d='M531 707.5H676' stroke='#dedede' stroke-width='1'/>
<text x='529.5' y='709.1' font-size='4.4' fill='#777' text-anchor='end' >0</text>
<path d='M531 721.1H676' stroke='#dedede' stroke-width='1'/>
<text x='529.5' y='722.7' font-size='4.4' fill='#d04040' text-anchor='end' >-50,000</text>
<path d='M531 734.6H676' stroke='#dedede' stroke-width='1'/>
<text x='529.5' y='736.2' font-size='4.4' fill='#d04040' text-anchor='end' >-100,000</text>
<path d='M531 748.2H676' stroke='#dedede' stroke-width='1'/>
<text x='529.5' y='749.8' font-size='4.4' fill='#d04040' text-anchor='end' >-150,000</text>
<rect x='550.00' y='707.50' width='15.00' height='27.99' fill='#2ec12e' />
<rect x='598.20' y='664.98' width='15.00' height='42.52' fill='#fa0afa' />
<rect x='645.80' y='692.97' width='15.20' height='14.53' fill='#fa0afa' />
<text x='594.5' y='650.6' font-size='16' fill='#595959' text-anchor='middle' >OP_OI</text>
<text x='557.3' y='731.0' font-size='12.6' fill='#595959' text-anchor='middle' >OI_C</text>
<text x='604.8' y='731.0' font-size='12.6' fill='#595959' text-anchor='middle' >OI_P</text>
<text x='653.4' y='731.0' font-size='12.6' fill='#595959' text-anchor='middle' >P-C</text>
<rect x='688.40' y='628.00' width='291.00' height='124.00' fill='#fff' stroke='#dcdcdc' stroke-width='1'/>
<path d='M706 632.0H977' stroke='#dedede' stroke-width='1'/>
<text x='703.7' y='633.6' font-size='4.4' fill='#777' text-anchor='end' >120,000</text>
<path d='M706 647.4H977' stroke='#dedede' stroke-width='1'/>
<text x='703.7' y='649.0' font-size='4.4' fill='#777' text-anchor='end' >100,000</text>
<path d='M706 662.7H977' stroke='#dedede' stroke-width='1'/>
<text x='703.7' y='664.3' font-size='4.4' fill='#777' text-anchor='end' >80,000</text>
<path d='M706 678.1H977' stroke='#dedede' stroke-width='1'/>
<text x='703.7' y='679.7' font-size='4.4' fill='#777' text-anchor='end' >60,000</text>
<path d='M706 693.5H977' stroke='#dedede' stroke-width='1'/>
<text x='703.7' y='695.1' font-size='4.4' fill='#777' text-anchor='end' >40,000</text>
<path d='M706 708.8H977' stroke='#dedede' stroke-width='1'/>
<text x='703.7' y='710.4' font-size='4.4' fill='#777' text-anchor='end' >20,000</text>
<path d='M706 724.2H977' stroke='#dedede' stroke-width='1'/>
<text x='703.7' y='725.8' font-size='4.4' fill='#777' text-anchor='end' >0</text>
<text x='833.0' y='650.6' font-size='16' fill='#595959' text-anchor='middle' >OI_vs_SM</text>
<rect x='740.30' y='683.02' width='27.70' height='41.18' fill='#fa0afa' />
<rect x='829.60' y='648.52' width='28.30' height='75.68' fill='#fa0afa' />
<rect x='919.40' y='689.70' width='28.30' height='34.50' fill='#fa0afa' />
<text x='754.0' y='747.0' font-size='12.6' fill='#595959' text-anchor='middle' >P-C</text>
<text x='843.3' y='747.0' font-size='12.6' fill='#595959' text-anchor='middle' >OI+SM</text>
<text x='933.6' y='747.0' font-size='12.6' fill='#595959' text-anchor='middle' >SM_OP</text>
<rect x='1368.30' y='114.60' width='133.70' height='106.40' fill='#fff' />
<rect x='1387.90' y='119.80' width='115.10' height='95.90' fill='#f5ccb2' />
<clipPath id='r1'><rect x='1387.9' y='119.8' width='115.09999999999991' height='95.89999999999999'/></clipPath>
<text transform='translate(1387.1,174.0) rotate(90)' font-size='6.5' fill='#4a3a30'>14650</text>
<text transform='translate(1397.2,174.0) rotate(90)' font-size='6.5' fill='#4a3a30'>14750</text>
<text transform='translate(1407.3,174.0) rotate(90)' font-size='6.5' fill='#4a3a30'>14850</text>
<text transform='translate(1417.4,174.0) rotate(90)' font-size='6.5' fill='#4a3a30'>14950</text>
<text transform='translate(1427.5,174.0) rotate(90)' font-size='6.5' fill='#4a3a30'>15050</text>
<text transform='translate(1437.6,174.0) rotate(90)' font-size='6.5' fill='#4a3a30'>15150</text>
<text transform='translate(1447.7,174.0) rotate(90)' font-size='6.5' fill='#4a3a30'>15250</text>
<text transform='translate(1457.8,174.0) rotate(90)' font-size='6.5' fill='#4a3a30'>15350</text>
<text transform='translate(1467.9,174.0) rotate(90)' font-size='6.5' fill='#4a3a30'>15450</text>
<text transform='translate(1478.0,174.0) rotate(90)' font-size='6.5' fill='#4a3a30'>15550</text>
<text transform='translate(1488.1,174.0) rotate(90)' font-size='6.5' fill='#4a3a30'>15650</text>
<text transform='translate(1498.2,174.0) rotate(90)' font-size='6.5' fill='#4a3a30'>15750</text>
<g clip-path='url(#r1)' opacity='.93'>
<rect x='1393.80' y='167.49' width='3.30' height='0.81' fill='#ff0000' />
<rect x='1414.00' y='164.12' width='3.30' height='4.18' fill='#ff0000' />
<rect x='1424.10' y='166.23' width='3.30' height='2.07' fill='#ff0000' />
<rect x='1429.15' y='168.30' width='3.30' height='3.06' fill='#15a54f' />
<rect x='1434.20' y='168.30' width='3.30' height='4.82' fill='#15a54f' />
<rect x='1439.25' y='168.30' width='3.30' height='3.94' fill='#15a54f' />
<rect x='1444.30' y='165.42' width='3.30' height='2.88' fill='#ff0000' />
<rect x='1449.35' y='162.91' width='3.30' height='5.39' fill='#ff0000' />
<rect x='1454.40' y='168.30' width='3.30' height='4.40' fill='#15a54f' />
<rect x='1459.45' y='167.28' width='3.30' height='1.02' fill='#ff0000' />
<rect x='1464.50' y='158.49' width='3.30' height='9.81' fill='#ff0000' />
<rect x='1469.55' y='155.84' width='3.30' height='12.46' fill='#ff0000' />
<rect x='1474.60' y='166.67' width='3.30' height='1.63' fill='#ff0000' />
<rect x='1479.65' y='166.21' width='3.30' height='2.09' fill='#ff0000' />
<rect x='1484.70' y='142.71' width='3.30' height='25.59' fill='#ff0000' />
<rect x='1489.75' y='145.46' width='3.30' height='22.84' fill='#ff0000' />
<rect x='1494.80' y='130.79' width='3.30' height='37.51' fill='#ff0000' />
<rect x='1499.85' y='118.00' width='3.30' height='50.30' fill='#ff0000' />
<rect x='1504.90' y='168.30' width='3.30' height='1.87' fill='#15a54f' />
</g>
<text x='1382.5' y='121.8' font-size='4.4' fill='#777' text-anchor='end' >15000</text>
<text x='1382.5' y='137.8' font-size='4.4' fill='#777' text-anchor='end' >10000</text>
<text x='1382.5' y='153.8' font-size='4.4' fill='#777' text-anchor='end' >5000</text>
<text x='1382.5' y='169.9' font-size='4.4' fill='#777' text-anchor='end' >0</text>
<text x='1382.5' y='186.0' font-size='4.4' fill='#e0303a' text-anchor='end' >(5000)</text>
<text x='1382.5' y='202.0' font-size='4.4' fill='#e0303a' text-anchor='end' >(10000)</text>
<text x='1382.5' y='218.1' font-size='4.4' fill='#e0303a' text-anchor='end' >(15000)</text>
<text x='1464.5' y='126.0' font-size='6.4' fill='#595959' text-anchor='middle' >TX4_SM_C-P_A1</text>
<rect x='1455.20' y='211.70' width='2.40' height='2.40' fill='#f00000' />
<text x='1459.0' y='214.1' font-size='4.6' fill='#4a3a30' text-anchor='start' >C-P_A值</text>
<rect x='1368.30' y='221.00' width='133.70' height='116.00' fill='#fff' />
<rect x='1387.90' y='226.40' width='115.10' height='104.60' fill='#f5ccb2' />
<clipPath id='r2'><rect x='1387.9' y='226.4' width='115.09999999999991' height='104.6'/></clipPath>
<text transform='translate(1387.1,284.0) rotate(90)' font-size='6.5' fill='#4a3a30'>14650</text>
<text transform='translate(1397.2,284.0) rotate(90)' font-size='6.5' fill='#4a3a30'>14750</text>
<text transform='translate(1407.3,284.0) rotate(90)' font-size='6.5' fill='#4a3a30'>14850</text>
<text transform='translate(1417.4,284.0) rotate(90)' font-size='6.5' fill='#4a3a30'>14950</text>
<text transform='translate(1427.5,284.0) rotate(90)' font-size='6.5' fill='#4a3a30'>15050</text>
<text transform='translate(1437.6,284.0) rotate(90)' font-size='6.5' fill='#4a3a30'>15150</text>
<text transform='translate(1447.7,284.0) rotate(90)' font-size='6.5' fill='#4a3a30'>15250</text>
<text transform='translate(1457.8,284.0) rotate(90)' font-size='6.5' fill='#4a3a30'>15350</text>
<text transform='translate(1467.9,284.0) rotate(90)' font-size='6.5' fill='#4a3a30'>15450</text>
<text transform='translate(1478.0,284.0) rotate(90)' font-size='6.5' fill='#4a3a30'>15550</text>
<text transform='translate(1488.1,284.0) rotate(90)' font-size='6.5' fill='#4a3a30'>15650</text>
<text transform='translate(1498.2,284.0) rotate(90)' font-size='6.5' fill='#4a3a30'>15750</text>
<g clip-path='url(#r2)' opacity='.93'>
<rect x='1474.60' y='278.50' width='3.30' height='6.18' fill='#15a54f' />
<rect x='1484.70' y='278.50' width='3.30' height='5.18' fill='#15a54f' />
<rect x='1494.80' y='256.07' width='3.30' height='22.43' fill='#ff0000' />
<rect x='1499.85' y='261.55' width='3.30' height='16.95' fill='#ff0000' />
<rect x='1504.90' y='278.50' width='3.30' height='25.84' fill='#15a54f' />
</g>
<text x='1382.5' y='228.2' font-size='4.4' fill='#777' text-anchor='end' >10000</text>
<text x='1382.5' y='238.6' font-size='4.4' fill='#777' text-anchor='end' >8000</text>
<text x='1382.5' y='249.0' font-size='4.4' fill='#777' text-anchor='end' >6000</text>
<text x='1382.5' y='259.4' font-size='4.4' fill='#777' text-anchor='end' >4000</text>
<text x='1382.5' y='269.7' font-size='4.4' fill='#777' text-anchor='end' >2000</text>
<text x='1382.5' y='280.1' font-size='4.4' fill='#777' text-anchor='end' >0</text>
<text x='1382.5' y='290.5' font-size='4.4' fill='#e0303a' text-anchor='end' >(2000)</text>
<text x='1382.5' y='300.8' font-size='4.4' fill='#e0303a' text-anchor='end' >(4000)</text>
<text x='1382.5' y='311.2' font-size='4.4' fill='#e0303a' text-anchor='end' >(6000)</text>
<text x='1382.5' y='321.6' font-size='4.4' fill='#e0303a' text-anchor='end' >(8000)</text>
<text x='1382.5' y='332.0' font-size='4.4' fill='#e0303a' text-anchor='end' >(10000)</text>
<text x='1458.8' y='237.8' font-size='6.4' fill='#595959' text-anchor='middle' >TX4_SM_C_A1</text>
<rect x='1459.00' y='326.40' width='2.40' height='2.40' fill='#f00000' />
<text x='1462.8' y='328.8' font-size='4.6' fill='#4a3a30' text-anchor='start' >C_A值</text>
<rect x='1368.30' y='337.00' width='133.70' height='122.30' fill='#fff' />
<rect x='1387.90' y='339.80' width='115.10' height='104.50' fill='#f5ccb2' />
<clipPath id='r3'><rect x='1387.9' y='339.8' width='115.09999999999991' height='104.5'/></clipPath>
<text transform='translate(1387.1,398.0) rotate(90)' font-size='6.5' fill='#4a3a30'>14650</text>
<text transform='translate(1397.2,398.0) rotate(90)' font-size='6.5' fill='#4a3a30'>14750</text>
<text transform='translate(1407.3,398.0) rotate(90)' font-size='6.5' fill='#4a3a30'>14850</text>
<text transform='translate(1417.4,398.0) rotate(90)' font-size='6.5' fill='#4a3a30'>14950</text>
<text transform='translate(1427.5,398.0) rotate(90)' font-size='6.5' fill='#4a3a30'>15050</text>
<text transform='translate(1437.6,398.0) rotate(90)' font-size='6.5' fill='#4a3a30'>15150</text>
<text transform='translate(1447.7,398.0) rotate(90)' font-size='6.5' fill='#4a3a30'>15250</text>
<text transform='translate(1457.8,398.0) rotate(90)' font-size='6.5' fill='#4a3a30'>15350</text>
<text transform='translate(1467.9,398.0) rotate(90)' font-size='6.5' fill='#4a3a30'>15450</text>
<text transform='translate(1478.0,398.0) rotate(90)' font-size='6.5' fill='#4a3a30'>15550</text>
<text transform='translate(1488.1,398.0) rotate(90)' font-size='6.5' fill='#4a3a30'>15650</text>
<text transform='translate(1498.2,398.0) rotate(90)' font-size='6.5' fill='#4a3a30'>15750</text>
<g clip-path='url(#r3)' opacity='.93'>
<rect x='1393.80' y='390.80' width='3.30' height='1.30' fill='#ff0000' />
<rect x='1414.00' y='385.36' width='3.30' height='6.74' fill='#ff0000' />
<rect x='1424.10' y='389.07' width='3.30' height='3.03' fill='#ff0000' />
<rect x='1429.15' y='392.10' width='3.30' height='4.94' fill='#15a54f' />
<rect x='1434.20' y='392.10' width='3.30' height='8.08' fill='#15a54f' />
<rect x='1439.25' y='392.10' width='3.30' height='6.55' fill='#15a54f' />
<rect x='1444.30' y='387.45' width='3.30' height='4.65' fill='#ff0000' />
<rect x='1449.35' y='383.72' width='3.30' height='8.38' fill='#ff0000' />
<rect x='1454.40' y='392.10' width='3.30' height='7.30' fill='#15a54f' />
<rect x='1459.45' y='390.66' width='3.30' height='1.44' fill='#ff0000' />
<rect x='1464.50' y='376.29' width='3.30' height='15.81' fill='#ff0000' />
<rect x='1469.55' y='372.01' width='3.30' height='20.09' fill='#ff0000' />
<rect x='1474.60' y='383.30' width='3.30' height='8.80' fill='#ff0000' />
<rect x='1479.65' y='388.74' width='3.30' height='3.36' fill='#ff0000' />
<rect x='1484.70' y='345.68' width='3.30' height='46.42' fill='#ff0000' />
<rect x='1489.75' y='355.88' width='3.30' height='36.23' fill='#ff0000' />
<rect x='1494.80' y='354.01' width='3.30' height='38.09' fill='#ff0000' />
<rect x='1499.85' y='327.93' width='3.30' height='64.17' fill='#ff0000' />
<rect x='1504.90' y='369.33' width='3.30' height='22.77' fill='#ff0000' />
</g>
<text x='1382.5' y='342.0' font-size='4.4' fill='#777' text-anchor='end' >10000</text>
<text x='1382.5' y='352.3' font-size='4.4' fill='#777' text-anchor='end' >8000</text>
<text x='1382.5' y='362.7' font-size='4.4' fill='#777' text-anchor='end' >6000</text>
<text x='1382.5' y='373.0' font-size='4.4' fill='#777' text-anchor='end' >4000</text>
<text x='1382.5' y='383.4' font-size='4.4' fill='#777' text-anchor='end' >2000</text>
<text x='1382.5' y='393.7' font-size='4.4' fill='#777' text-anchor='end' >0</text>
<text x='1382.5' y='404.1' font-size='4.4' fill='#e0303a' text-anchor='end' >(2000)</text>
<text x='1382.5' y='414.4' font-size='4.4' fill='#e0303a' text-anchor='end' >(4000)</text>
<text x='1382.5' y='424.8' font-size='4.4' fill='#e0303a' text-anchor='end' >(6000)</text>
<text x='1382.5' y='435.1' font-size='4.4' fill='#e0303a' text-anchor='end' >(8000)</text>
<text x='1382.5' y='445.5' font-size='4.4' fill='#e0303a' text-anchor='end' >(10000)</text>
<text x='1466.6' y='344.7' font-size='6.4' fill='#595959' text-anchor='middle' >TX4_SM_P_A1</text>
<rect x='1459.00' y='438.60' width='2.40' height='2.40' fill='#f00000' />
<text x='1462.8' y='441.0' font-size='4.6' fill='#4a3a30' text-anchor='start' >P_A值</text>
<rect x='1368.30' y='459.30' width='133.70' height='138.70' fill='#fff' />
<rect x='1388.60' y='468.00' width='114.40' height='124.60' fill='#f5ccb2' />
<clipPath id='r4'><rect x='1388.6' y='468' width='114.40000000000009' height='124.60000000000002'/></clipPath>
<text transform='translate(1387.1,536.0) rotate(90)' font-size='6.5' fill='#4a3a30'>14650</text>
<text transform='translate(1397.2,536.0) rotate(90)' font-size='6.5' fill='#4a3a30'>14750</text>
<text transform='translate(1407.3,536.0) rotate(90)' font-size='6.5' fill='#4a3a30'>14850</text>
<text transform='translate(1417.4,536.0) rotate(90)' font-size='6.5' fill='#4a3a30'>14950</text>
<text transform='translate(1427.5,536.0) rotate(90)' font-size='6.5' fill='#4a3a30'>15050</text>
<text transform='translate(1437.6,536.0) rotate(90)' font-size='6.5' fill='#4a3a30'>15150</text>
<text transform='translate(1447.7,536.0) rotate(90)' font-size='6.5' fill='#4a3a30'>15250</text>
<text transform='translate(1457.8,536.0) rotate(90)' font-size='6.5' fill='#4a3a30'>15350</text>
<text transform='translate(1467.9,536.0) rotate(90)' font-size='6.5' fill='#4a3a30'>15450</text>
<text transform='translate(1478.0,536.0) rotate(90)' font-size='6.5' fill='#4a3a30'>15550</text>
<text transform='translate(1488.1,536.0) rotate(90)' font-size='6.5' fill='#4a3a30'>15650</text>
<text transform='translate(1498.2,536.0) rotate(90)' font-size='6.5' fill='#4a3a30'>15750</text>
<g clip-path='url(#r4)' opacity='.93'>
<rect x='1393.80' y='529.26' width='3.30' height='1.04' fill='#ff0000' />
<rect x='1414.00' y='524.91' width='3.30' height='5.39' fill='#ff0000' />
<rect x='1424.10' y='527.63' width='3.30' height='2.67' fill='#ff0000' />
<rect x='1429.15' y='530.30' width='3.30' height='3.95' fill='#15a54f' />
<rect x='1434.20' y='530.30' width='3.30' height='6.21' fill='#15a54f' />
<rect x='1439.25' y='530.30' width='3.30' height='5.08' fill='#15a54f' />
<rect x='1444.30' y='526.58' width='3.30' height='3.72' fill='#ff0000' />
<rect x='1449.35' y='523.34' width='3.30' height='6.96' fill='#ff0000' />
<rect x='1454.40' y='530.30' width='3.30' height='5.68' fill='#15a54f' />
<rect x='1459.45' y='528.98' width='3.30' height='1.32' fill='#ff0000' />
<rect x='1464.50' y='517.65' width='3.30' height='12.65' fill='#ff0000' />
<rect x='1469.55' y='514.23' width='3.30' height='16.07' fill='#ff0000' />
<rect x='1474.60' y='528.20' width='3.30' height='2.10' fill='#ff0000' />
<rect x='1479.65' y='527.61' width='3.30' height='2.69' fill='#ff0000' />
<rect x='1484.70' y='497.30' width='3.30' height='33.00' fill='#ff0000' />
<rect x='1489.75' y='500.85' width='3.30' height='29.45' fill='#ff0000' />
<rect x='1494.80' y='481.92' width='3.30' height='48.38' fill='#ff0000' />
<rect x='1499.85' y='465.43' width='3.30' height='64.87' fill='#ff0000' />
<rect x='1504.90' y='530.30' width='3.30' height='2.42' fill='#15a54f' />
</g>
<text x='1382.5' y='469.8' font-size='4.4' fill='#777' text-anchor='end' >15000</text>
<text x='1382.5' y='490.5' font-size='4.4' fill='#777' text-anchor='end' >10000</text>
<text x='1382.5' y='511.2' font-size='4.4' fill='#777' text-anchor='end' >5000</text>
<text x='1382.5' y='531.9' font-size='4.4' fill='#777' text-anchor='end' >0</text>
<text x='1382.5' y='552.6' font-size='4.4' fill='#e0303a' text-anchor='end' >(5000)</text>
<text x='1382.5' y='573.3' font-size='4.4' fill='#e0303a' text-anchor='end' >(10000)</text>
<text x='1382.5' y='594.0' font-size='4.4' fill='#e0303a' text-anchor='end' >(15000)</text>
<text x='1504.0' y='481.0' font-size='13.6' fill='#595959' text-anchor='middle' >TX4_SM_C-P_A1</text>
<rect x='1455.00' y='587.40' width='2.40' height='2.40' fill='#f00000' />
<text x='1458.8' y='589.8' font-size='4.6' fill='#4a3a30' text-anchor='start' >C-P_A值</text>
<rect x='1368.30' y='598.00' width='133.70' height='112.50' fill='#fff' />
<rect x='1388.60' y='603.00' width='114.40' height='103.30' fill='#f5ccb2' />
<clipPath id='r5'><rect x='1388.6' y='603' width='114.40000000000009' height='103.29999999999995'/></clipPath>
<text transform='translate(1387.1,660.5) rotate(90)' font-size='6.5' fill='#4a3a30'>14650</text>
<text transform='translate(1397.2,660.5) rotate(90)' font-size='6.5' fill='#4a3a30'>14750</text>
<text transform='translate(1407.3,660.5) rotate(90)' font-size='6.5' fill='#4a3a30'>14850</text>
<text transform='translate(1417.4,660.5) rotate(90)' font-size='6.5' fill='#4a3a30'>14950</text>
<text transform='translate(1427.5,660.5) rotate(90)' font-size='6.5' fill='#4a3a30'>15050</text>
<text transform='translate(1437.6,660.5) rotate(90)' font-size='6.5' fill='#4a3a30'>15150</text>
<text transform='translate(1447.7,660.5) rotate(90)' font-size='6.5' fill='#4a3a30'>15250</text>
<text transform='translate(1457.8,660.5) rotate(90)' font-size='6.5' fill='#4a3a30'>15350</text>
<text transform='translate(1467.9,660.5) rotate(90)' font-size='6.5' fill='#4a3a30'>15450</text>
<text transform='translate(1478.0,660.5) rotate(90)' font-size='6.5' fill='#4a3a30'>15550</text>
<text transform='translate(1488.1,660.5) rotate(90)' font-size='6.5' fill='#4a3a30'>15650</text>
<text transform='translate(1498.2,660.5) rotate(90)' font-size='6.5' fill='#4a3a30'>15750</text>
<g clip-path='url(#r5)' opacity='.93'>
<rect x='1393.80' y='644.30' width='3.30' height='10.20' fill='#ff0000' />
<rect x='1403.90' y='639.73' width='3.30' height='14.77' fill='#ff0000' />
<rect x='1414.00' y='643.24' width='3.30' height='11.26' fill='#ff0000' />
<rect x='1424.10' y='635.19' width='3.30' height='19.31' fill='#ff0000' />
<rect x='1429.15' y='646.83' width='3.30' height='7.67' fill='#ff0000' />
<rect x='1434.20' y='641.27' width='3.30' height='13.23' fill='#ff0000' />
<rect x='1439.25' y='644.61' width='3.30' height='9.89' fill='#ff0000' />
<rect x='1444.30' y='636.23' width='3.30' height='18.27' fill='#ff0000' />
<rect x='1449.35' y='643.48' width='3.30' height='11.02' fill='#ff0000' />
<rect x='1454.40' y='622.19' width='3.30' height='32.31' fill='#ff0000' />
<rect x='1459.45' y='643.10' width='3.30' height='11.40' fill='#ff0000' />
<rect x='1464.50' y='637.36' width='3.30' height='17.14' fill='#ff0000' />
<rect x='1469.55' y='635.63' width='3.30' height='18.87' fill='#ff0000' />
<rect x='1474.60' y='625.58' width='3.30' height='28.92' fill='#ff0000' />
<rect x='1479.65' y='631.61' width='3.30' height='22.89' fill='#ff0000' />
<rect x='1484.70' y='629.35' width='3.30' height='25.15' fill='#ff0000' />
<rect x='1489.75' y='626.68' width='3.30' height='27.82' fill='#ff0000' />
<rect x='1494.80' y='601.44' width='3.30' height='53.06' fill='#ff0000' />
<rect x='1499.85' y='617.00' width='3.30' height='37.50' fill='#ff0000' />
<rect x='1504.90' y='645.15' width='3.30' height='9.35' fill='#ff0000' />
</g>
<text x='1382.5' y='604.5' font-size='4.4' fill='#777' text-anchor='end' >15000</text>
<text x='1382.5' y='621.7' font-size='4.4' fill='#777' text-anchor='end' >10000</text>
<text x='1382.5' y='638.9' font-size='4.4' fill='#777' text-anchor='end' >5000</text>
<text x='1382.5' y='656.1' font-size='4.4' fill='#777' text-anchor='end' >0</text>
<text x='1382.5' y='673.3' font-size='4.4' fill='#e0303a' text-anchor='end' >(5000)</text>
<text x='1382.5' y='690.5' font-size='4.4' fill='#e0303a' text-anchor='end' >(10000)</text>
<text x='1382.5' y='707.7' font-size='4.4' fill='#e0303a' text-anchor='end' >(15000)</text>
<rect x='1454.50' y='694.40' width='6.60' height='6.60' fill='#f00000' />
<text x='1462.5' y='701.0' font-size='8.4' fill='#4a3a30' text-anchor='start' >P-C</text>
<rect x='1368.30' y='710.50' width='133.70' height='87.50' fill='#fff' />
<rect x='1388.60' y='714.00' width='114.40' height='84.00' fill='#f5ccb2' />
<clipPath id='r6'><rect x='1388.6' y='714' width='114.40000000000009' height='84'/></clipPath>
<text transform='translate(1387.1,769.5) rotate(90)' font-size='6.5' fill='#4a3a30'>14650</text>
<text transform='translate(1397.2,769.5) rotate(90)' font-size='6.5' fill='#4a3a30'>14750</text>
<text transform='translate(1407.3,769.5) rotate(90)' font-size='6.5' fill='#4a3a30'>14850</text>
<text transform='translate(1417.4,769.5) rotate(90)' font-size='6.5' fill='#4a3a30'>14950</text>
<text transform='translate(1427.5,769.5) rotate(90)' font-size='6.5' fill='#4a3a30'>15050</text>
<text transform='translate(1437.6,769.5) rotate(90)' font-size='6.5' fill='#4a3a30'>15150</text>
<text transform='translate(1447.7,769.5) rotate(90)' font-size='6.5' fill='#4a3a30'>15250</text>
<text transform='translate(1457.8,769.5) rotate(90)' font-size='6.5' fill='#4a3a30'>15350</text>
<text transform='translate(1467.9,769.5) rotate(90)' font-size='6.5' fill='#4a3a30'>15450</text>
<text transform='translate(1478.0,769.5) rotate(90)' font-size='6.5' fill='#4a3a30'>15550</text>
<text transform='translate(1488.1,769.5) rotate(90)' font-size='6.5' fill='#4a3a30'>15650</text>
<text transform='translate(1498.2,769.5) rotate(90)' font-size='6.5' fill='#4a3a30'>15750</text>
<g clip-path='url(#r6)' opacity='.93'>
<rect x='1393.80' y='755.92' width='3.30' height='7.88' fill='#ff0000' />
<rect x='1403.90' y='753.37' width='3.30' height='10.43' fill='#ff0000' />
<rect x='1414.00' y='752.59' width='3.30' height='11.21' fill='#ff0000' />
<rect x='1424.10' y='748.47' width='3.30' height='15.33' fill='#ff0000' />
<rect x='1429.15' y='760.68' width='3.30' height='3.12' fill='#ff0000' />
<rect x='1434.20' y='758.05' width='3.30' height='5.75' fill='#ff0000' />
<rect x='1439.25' y='759.76' width='3.30' height='4.04' fill='#ff0000' />
<rect x='1444.30' y='748.59' width='3.30' height='15.21' fill='#ff0000' />
<rect x='1449.35' y='751.83' width='3.30' height='11.97' fill='#ff0000' />
<rect x='1454.40' y='744.15' width='3.30' height='19.65' fill='#ff0000' />
<rect x='1459.45' y='754.90' width='3.30' height='8.90' fill='#ff0000' />
<rect x='1464.50' y='744.10' width='3.30' height='19.70' fill='#ff0000' />
<rect x='1469.55' y='740.85' width='3.30' height='22.95' fill='#ff0000' />
<rect x='1474.60' y='741.96' width='3.30' height='21.84' fill='#ff0000' />
<rect x='1479.65' y='745.90' width='3.30' height='17.90' fill='#ff0000' />
<rect x='1484.70' y='726.36' width='3.30' height='37.44' fill='#ff0000' />
<rect x='1489.75' y='726.56' width='3.30' height='37.24' fill='#ff0000' />
<rect x='1494.80' y='697.38' width='3.30' height='66.42' fill='#ff0000' />
<rect x='1499.85' y='698.70' width='3.30' height='65.10' fill='#ff0000' />
<rect x='1504.90' y='758.57' width='3.30' height='5.23' fill='#ff0000' />
</g>
<text x='1382.5' y='716.4' font-size='4.4' fill='#777' text-anchor='end' >20000</text>
<text x='1382.5' y='728.6' font-size='4.4' fill='#777' text-anchor='end' >15000</text>
<text x='1382.5' y='740.9' font-size='4.4' fill='#777' text-anchor='end' >10000</text>
<text x='1382.5' y='753.1' font-size='4.4' fill='#777' text-anchor='end' >5000</text>
<text x='1382.5' y='765.4' font-size='4.4' fill='#777' text-anchor='end' >0</text>
<text x='1382.5' y='777.6' font-size='4.4' fill='#e0303a' text-anchor='end' >(5000)</text>
<text x='1382.5' y='789.9' font-size='4.4' fill='#e0303a' text-anchor='end' >(10000)</text>
<path d='M1368.5 220.5H1502' stroke='#dfe3e8' stroke-width='1'/>
<path d='M1368.5 335.5H1502' stroke='#dfe3e8' stroke-width='1'/>
<path d='M1368.5 448.4H1502' stroke='#dfe3e8' stroke-width='1'/>
<path d='M1368.5 459.3H1502' stroke='#dfe3e8' stroke-width='1'/>
<path d='M1368.5 598H1502' stroke='#dfe3e8' stroke-width='1'/>
<path d='M1368.5 710.3H1502' stroke='#dfe3e8' stroke-width='1'/>
<path d='M1368.5 114.6V798' stroke='#dcdcdc' stroke-width='1'/>
<rect x='1035.00' y='114.60' width='333.00' height='155.00' fill='#fff' />
<rect x='1084.00' y='122.10' width='284.00' height='146.60' fill='#fac56b' />
<path d='M1084 122.4H1368' stroke='#1c1a16' stroke-width='1.1'/>
<text x='1079.0' y='124.1' font-size='4.6' fill='#666' text-anchor='end' >60,000</text>
<path d='M1084 146.5H1368' stroke='#1c1a16' stroke-width='1.1'/>
<text x='1079.0' y='148.2' font-size='4.6' fill='#666' text-anchor='end' >40,000</text>
<path d='M1084 170.7H1368' stroke='#1c1a16' stroke-width='1.1'/>
<text x='1079.0' y='172.3' font-size='4.6' fill='#666' text-anchor='end' >20,000</text>
<path d='M1084 194.8H1368' stroke='#1c1a16' stroke-width='1.1'/>
<text x='1079.0' y='196.5' font-size='4.6' fill='#666' text-anchor='end' >0</text>
<path d='M1084 219.0H1368' stroke='#1c1a16' stroke-width='1.1'/>
<text x='1079.0' y='220.7' font-size='4.6' fill='#e0406a' text-anchor='end' >(20,000)</text>
<path d='M1084 243.1H1368' stroke='#1c1a16' stroke-width='1.1'/>
<text x='1079.0' y='244.8' font-size='4.6' fill='#e0406a' text-anchor='end' >(40,000)</text>
<path d='M1084 267.2H1368' stroke='#1c1a16' stroke-width='1.1'/>
<text x='1079.0' y='268.9' font-size='4.6' fill='#e0406a' text-anchor='end' >(60,000)</text>
<rect x='1135.30' y='140.60' width='41.10' height='54.20' fill='#ff0000' />
<rect x='1205.30' y='194.80' width='41.90' height='6.09' fill='#16a651' />
<rect x='1275.20' y='135.11' width='41.90' height='59.69' fill='#ff0000' />
<text x='1201.0' y='125.8' font-size='6.4' fill='#333' text-anchor='middle' >W_C-P</text>
<text x='1155.5' y='137.2' font-size='4.8' fill='#5a4a20' text-anchor='middle' >C-P_A值, 44,890</text>
<text x='1296.3' y='132.2' font-size='4.8' fill='#5a4a20' text-anchor='middle' >P_A值, 49,434</text>
<text x='1226.0' y='208.4' font-size='4.8' fill='#e03a10' text-anchor='middle' >C_A值, (4,544)</text>
<rect x='1320.00' y='238.20' width='2.80' height='2.80' fill='#f00000' />
<text x='1324.0' y='241.3' font-size='4.8' fill='#6a5020' text-anchor='start' >C-P_A值</text>
<rect x='1320.00' y='250.80' width='2.80' height='2.80' fill='#f00000' />
<text x='1324.0' y='253.9' font-size='4.8' fill='#6a5020' text-anchor='start' >C_A值</text>
<rect x='1320.00' y='263.10' width='2.80' height='2.80' fill='#f00000' />
<text x='1324.0' y='266.2' font-size='4.8' fill='#6a5020' text-anchor='start' >P_A值</text>
<rect x='981.50' y='432.00' width='386.50' height='119.60' fill='#fff' />
<rect x='999.70' y='437.80' width='339.10' height='113.00' fill='#f5ccb2' />
<clipPath id='cpc'><rect x='999.7' y='437.8' width='339.0999999999999' height='112.99999999999994'/></clipPath>
<text transform='translate(1002.0,504.3) rotate(90)' font-size='7.7' fill='#4a3a30'>14650</text>
<text transform='translate(1013.0,504.3) rotate(90)' font-size='7.7' fill='#4a3a30'>14700</text>
<text transform='translate(1023.9,504.3) rotate(90)' font-size='7.7' fill='#4a3a30'>14750</text>
<text transform='translate(1034.8,504.3) rotate(90)' font-size='7.7' fill='#4a3a30'>14800</text>
<text transform='translate(1045.7,504.3) rotate(90)' font-size='7.7' fill='#4a3a30'>14850</text>
<text transform='translate(1056.7,504.3) rotate(90)' font-size='7.7' fill='#4a3a30'>14900</text>
<text transform='translate(1067.6,504.3) rotate(90)' font-size='7.7' fill='#4a3a30'>14950</text>
<text transform='translate(1078.5,504.3) rotate(90)' font-size='7.7' fill='#4a3a30'>15000</text>
<text transform='translate(1089.5,504.3) rotate(90)' font-size='7.7' fill='#4a3a30'>15050</text>
<text transform='translate(1100.4,504.3) rotate(90)' font-size='7.7' fill='#4a3a30'>15100</text>
<text transform='translate(1111.3,504.3) rotate(90)' font-size='7.7' fill='#4a3a30'>15150</text>
<text transform='translate(1122.3,504.3) rotate(90)' font-size='7.7' fill='#4a3a30'>15200</text>
<text transform='translate(1133.2,504.3) rotate(90)' font-size='7.7' fill='#4a3a30'>15250</text>
<text transform='translate(1144.1,504.3) rotate(90)' font-size='7.7' fill='#4a3a30'>15300</text>
<text transform='translate(1155.0,504.3) rotate(90)' font-size='7.7' fill='#4a3a30'>15350</text>
<text transform='translate(1166.0,504.3) rotate(90)' font-size='7.7' fill='#4a3a30'>15400</text>
<text transform='translate(1176.9,504.3) rotate(90)' font-size='7.7' fill='#4a3a30'>15450</text>
<text transform='translate(1187.8,504.3) rotate(90)' font-size='7.7' fill='#4a3a30'>15500</text>
<text transform='translate(1198.8,504.3) rotate(90)' font-size='7.7' fill='#4a3a30'>15550</text>
<text transform='translate(1209.7,504.3) rotate(90)' font-size='7.7' fill='#4a3a30'>15600</text>
<text transform='translate(1220.6,504.3) rotate(90)' font-size='7.7' fill='#4a3a30'>15650</text>
<text transform='translate(1231.6,504.3) rotate(90)' font-size='7.7' fill='#4a3a30'>15700</text>
<text transform='translate(1242.5,504.3) rotate(90)' font-size='7.7' fill='#4a3a30'>15750</text>
<text transform='translate(1253.4,504.3) rotate(90)' font-size='7.7' fill='#4a3a30'>15800</text>
<text transform='translate(1264.3,504.3) rotate(90)' font-size='7.7' fill='#4a3a30'>15850</text>
<text transform='translate(1275.3,504.3) rotate(90)' font-size='7.7' fill='#4a3a30'>15900</text>
<text transform='translate(1286.2,504.3) rotate(90)' font-size='7.7' fill='#4a3a30'>15950</text>
<text transform='translate(1297.1,504.3) rotate(90)' font-size='7.7' fill='#4a3a30'>16000</text>
<text transform='translate(1308.1,504.3) rotate(90)' font-size='7.7' fill='#4a3a30'>16050</text>
<text transform='translate(1319.0,504.3) rotate(90)' font-size='7.7' fill='#4a3a30'>16100</text>
<text transform='translate(1329.9,504.3) rotate(90)' font-size='7.7' fill='#4a3a30'>16150</text>
<g clip-path='url(#cpc)' opacity='.93'>
<rect x='1012.83' y='486.16' width='7.60' height='12.04' fill='#ff0000' />
<rect x='1034.69' y='480.77' width='7.60' height='17.43' fill='#ff0000' />
<rect x='1056.55' y='484.91' width='7.60' height='13.29' fill='#ff0000' />
<rect x='1078.41' y='475.42' width='7.60' height='22.78' fill='#ff0000' />
<rect x='1089.34' y='489.15' width='7.60' height='9.05' fill='#ff0000' />
<rect x='1100.27' y='482.59' width='7.60' height='15.61' fill='#ff0000' />
<rect x='1111.20' y='486.53' width='7.60' height='11.67' fill='#ff0000' />
<rect x='1122.13' y='476.63' width='7.60' height='21.57' fill='#ff0000' />
<rect x='1133.06' y='485.19' width='7.60' height='13.01' fill='#ff0000' />
<rect x='1143.99' y='460.07' width='7.60' height='38.13' fill='#ff0000' />
<rect x='1154.92' y='484.75' width='7.60' height='13.45' fill='#ff0000' />
<rect x='1165.85' y='477.96' width='7.60' height='20.24' fill='#ff0000' />
<rect x='1176.78' y='475.93' width='7.60' height='22.27' fill='#ff0000' />
<rect x='1187.71' y='464.06' width='7.60' height='34.14' fill='#ff0000' />
<rect x='1198.64' y='471.18' width='7.60' height='27.02' fill='#ff0000' />
<rect x='1209.57' y='468.51' width='7.60' height='29.69' fill='#ff0000' />
<rect x='1220.50' y='465.37' width='7.60' height='32.83' fill='#ff0000' />
<rect x='1231.43' y='435.57' width='7.60' height='62.63' fill='#ff0000' />
<rect x='1242.36' y='453.94' width='7.60' height='44.26' fill='#ff0000' />
<rect x='1253.29' y='487.16' width='7.60' height='11.04' fill='#ff0000' />
<rect x='1264.22' y='498.20' width='7.60' height='54.36' fill='#15a54f' />
<rect x='1275.15' y='498.20' width='7.60' height='51.59' fill='#15a54f' />
<rect x='1286.08' y='498.20' width='7.60' height='42.38' fill='#15a54f' />
<rect x='1297.01' y='498.20' width='7.60' height='52.17' fill='#15a54f' />
<rect x='1307.94' y='498.20' width='7.60' height='22.96' fill='#15a54f' />
<rect x='1318.87' y='498.20' width='7.60' height='26.52' fill='#15a54f' />
<rect x='1329.80' y='498.20' width='7.60' height='5.04' fill='#15a54f' />
</g>
<text x='994.8' y='438.9' font-size='4.4' fill='#777' text-anchor='end' >15000</text>
<text x='994.8' y='459.2' font-size='4.4' fill='#777' text-anchor='end' >10000</text>
<text x='994.8' y='479.5' font-size='4.4' fill='#777' text-anchor='end' >5000</text>
<text x='994.8' y='499.8' font-size='4.4' fill='#777' text-anchor='end' >0</text>
<text x='994.8' y='520.1' font-size='4.4' fill='#e0303a' text-anchor='end' >(5000)</text>
<text x='994.8' y='540.4' font-size='4.4' fill='#e0303a' text-anchor='end' >(10000)</text>
<rect x='1163.50' y='546.60' width='6.50' height='6.50' fill='#f00000' />
<text x='1171.4' y='553.1' font-size='8.6' fill='#4a3a30' text-anchor='start' >P-C</text>
<rect x='980.50' y='551.60' width='387.50' height='117.90' fill='#fff' />
<rect x='1013.00' y='553.70' width='336.00' height='111.80' fill='#f5ccb2' />
<clipPath id='coic'><rect x='1013' y='553.7' width='336' height='111.79999999999995'/></clipPath>
<text transform='translate(1014.4,616.4) rotate(90)' font-size='7.7' fill='#4a3a30'>14650</text>
<text transform='translate(1025.3,616.4) rotate(90)' font-size='7.7' fill='#4a3a30'>14700</text>
<text transform='translate(1036.2,616.4) rotate(90)' font-size='7.7' fill='#4a3a30'>14750</text>
<text transform='translate(1047.1,616.4) rotate(90)' font-size='7.7' fill='#4a3a30'>14800</text>
<text transform='translate(1058.0,616.4) rotate(90)' font-size='7.7' fill='#4a3a30'>14850</text>
<text transform='translate(1068.9,616.4) rotate(90)' font-size='7.7' fill='#4a3a30'>14900</text>
<text transform='translate(1079.8,616.4) rotate(90)' font-size='7.7' fill='#4a3a30'>14950</text>
<text transform='translate(1090.7,616.4) rotate(90)' font-size='7.7' fill='#4a3a30'>15000</text>
<text transform='translate(1101.5,616.4) rotate(90)' font-size='7.7' fill='#4a3a30'>15050</text>
<text transform='translate(1112.4,616.4) rotate(90)' font-size='7.7' fill='#4a3a30'>15100</text>
<text transform='translate(1123.3,616.4) rotate(90)' font-size='7.7' fill='#4a3a30'>15150</text>
<text transform='translate(1134.2,616.4) rotate(90)' font-size='7.7' fill='#4a3a30'>15200</text>
<text transform='translate(1145.1,616.4) rotate(90)' font-size='7.7' fill='#4a3a30'>15250</text>
<text transform='translate(1156.0,616.4) rotate(90)' font-size='7.7' fill='#4a3a30'>15300</text>
<text transform='translate(1166.9,616.4) rotate(90)' font-size='7.7' fill='#4a3a30'>15350</text>
<text transform='translate(1177.8,616.4) rotate(90)' font-size='7.7' fill='#4a3a30'>15400</text>
<text transform='translate(1188.7,616.4) rotate(90)' font-size='7.7' fill='#4a3a30'>15450</text>
<text transform='translate(1199.6,616.4) rotate(90)' font-size='7.7' fill='#4a3a30'>15500</text>
<text transform='translate(1210.4,616.4) rotate(90)' font-size='7.7' fill='#4a3a30'>15550</text>
<text transform='translate(1221.3,616.4) rotate(90)' font-size='7.7' fill='#4a3a30'>15600</text>
<text transform='translate(1232.2,616.4) rotate(90)' font-size='7.7' fill='#4a3a30'>15650</text>
<text transform='translate(1243.1,616.4) rotate(90)' font-size='7.7' fill='#4a3a30'>15700</text>
<text transform='translate(1254.0,616.4) rotate(90)' font-size='7.7' fill='#4a3a30'>15750</text>
<text transform='translate(1264.9,616.4) rotate(90)' font-size='7.7' fill='#4a3a30'>15800</text>
<text transform='translate(1275.8,616.4) rotate(90)' font-size='7.7' fill='#4a3a30'>15850</text>
<text transform='translate(1286.7,616.4) rotate(90)' font-size='7.7' fill='#4a3a30'>15900</text>
<text transform='translate(1297.6,616.4) rotate(90)' font-size='7.7' fill='#4a3a30'>15950</text>
<text transform='translate(1308.5,616.4) rotate(90)' font-size='7.7' fill='#4a3a30'>16000</text>
<text transform='translate(1319.3,616.4) rotate(90)' font-size='7.7' fill='#4a3a30'>16050</text>
<text transform='translate(1330.2,616.4) rotate(90)' font-size='7.7' fill='#4a3a30'>16100</text>
<text transform='translate(1341.1,616.4) rotate(90)' font-size='7.7' fill='#4a3a30'>16150</text>
<g clip-path='url(#coic)' opacity='.93'>
<rect x='1166.56' y='609.80' width='7.40' height='1.12' fill='#15a54f' />
<rect x='1177.45' y='609.80' width='7.40' height='1.88' fill='#15a54f' />
<rect x='1188.34' y='609.80' width='7.40' height='2.01' fill='#15a54f' />
<rect x='1199.23' y='609.80' width='7.40' height='4.04' fill='#15a54f' />
<rect x='1210.12' y='609.80' width='7.40' height='4.22' fill='#15a54f' />
<rect x='1221.01' y='609.80' width='7.40' height='8.13' fill='#15a54f' />
<rect x='1231.90' y='609.80' width='7.40' height='4.91' fill='#15a54f' />
<rect x='1242.79' y='609.80' width='7.40' height='9.55' fill='#15a54f' />
<rect x='1253.68' y='609.80' width='7.40' height='23.17' fill='#15a54f' />
<rect x='1264.57' y='609.80' width='7.40' height='38.63' fill='#15a54f' />
<rect x='1275.46' y='609.80' width='7.40' height='63.97' fill='#15a54f' />
<rect x='1286.35' y='609.80' width='7.40' height='55.33' fill='#15a54f' />
<rect x='1297.24' y='609.80' width='7.40' height='40.66' fill='#15a54f' />
<rect x='1308.13' y='609.80' width='7.40' height='49.74' fill='#15a54f' />
<rect x='1319.02' y='609.80' width='7.40' height='21.68' fill='#15a54f' />
<rect x='1329.91' y='609.80' width='7.40' height='24.59' fill='#15a54f' />
<rect x='1340.80' y='609.80' width='7.40' height='4.59' fill='#15a54f' />
</g>
<text x='1007.2' y='556.2' font-size='4.4' fill='#777' text-anchor='end' >15000</text>
<text x='1007.2' y='574.6' font-size='4.4' fill='#777' text-anchor='end' >10000</text>
<text x='1007.2' y='593.0' font-size='4.4' fill='#777' text-anchor='end' >5000</text>
<text x='1007.2' y='611.4' font-size='4.4' fill='#777' text-anchor='end' >0</text>
<text x='1007.2' y='629.8' font-size='4.4' fill='#e0303a' text-anchor='end' >(5000)</text>
<text x='1007.2' y='648.2' font-size='4.4' fill='#e0303a' text-anchor='end' >(10000)</text>
<text x='1007.2' y='666.6' font-size='4.4' fill='#e0303a' text-anchor='end' >(15000)</text>
<text x='1173.6' y='565.6' font-size='9.4' fill='#595959' text-anchor='middle' >OI</text>
<rect x='1074.20' y='659.20' width='5.80' height='5.80' fill='#f00000' />
<text x='1081.4' y='665.0' font-size='9' fill='#4a3a30' text-anchor='start' >OI_C</text>
<rect x='979.50' y='669.50' width='388.50' height='95.50' fill='#fff' />
<rect x='1010.00' y='670.00' width='341.00' height='91.90' fill='#f5ccb2' />
<clipPath id='coip'><rect x='1010' y='670' width='341' height='91.89999999999998'/></clipPath>
<text transform='translate(1011.1,720.5) rotate(90)' font-size='7.7' fill='#4a3a30'>14650</text>
<text transform='translate(1022.2,720.5) rotate(90)' font-size='7.7' fill='#4a3a30'>14700</text>
<text transform='translate(1033.2,720.5) rotate(90)' font-size='7.7' fill='#4a3a30'>14750</text>
<text transform='translate(1044.3,720.5) rotate(90)' font-size='7.7' fill='#4a3a30'>14800</text>
<text transform='translate(1055.3,720.5) rotate(90)' font-size='7.7' fill='#4a3a30'>14850</text>
<text transform='translate(1066.4,720.5) rotate(90)' font-size='7.7' fill='#4a3a30'>14900</text>
<text transform='translate(1077.4,720.5) rotate(90)' font-size='7.7' fill='#4a3a30'>14950</text>
<text transform='translate(1088.5,720.5) rotate(90)' font-size='7.7' fill='#4a3a30'>15000</text>
<text transform='translate(1099.5,720.5) rotate(90)' font-size='7.7' fill='#4a3a30'>15050</text>
<text transform='translate(1110.6,720.5) rotate(90)' font-size='7.7' fill='#4a3a30'>15100</text>
<text transform='translate(1121.6,720.5) rotate(90)' font-size='7.7' fill='#4a3a30'>15150</text>
<text transform='translate(1132.7,720.5) rotate(90)' font-size='7.7' fill='#4a3a30'>15200</text>
<text transform='translate(1143.7,720.5) rotate(90)' font-size='7.7' fill='#4a3a30'>15250</text>
<text transform='translate(1154.8,720.5) rotate(90)' font-size='7.7' fill='#4a3a30'>15300</text>
<text transform='translate(1165.8,720.5) rotate(90)' font-size='7.7' fill='#4a3a30'>15350</text>
<text transform='translate(1176.9,720.5) rotate(90)' font-size='7.7' fill='#4a3a30'>15400</text>
<text transform='translate(1187.9,720.5) rotate(90)' font-size='7.7' fill='#4a3a30'>15450</text>
<text transform='translate(1199.0,720.5) rotate(90)' font-size='7.7' fill='#4a3a30'>15500</text>
<text transform='translate(1210.0,720.5) rotate(90)' font-size='7.7' fill='#4a3a30'>15550</text>
<text transform='translate(1221.1,720.5) rotate(90)' font-size='7.7' fill='#4a3a30'>15600</text>
<text transform='translate(1232.1,720.5) rotate(90)' font-size='7.7' fill='#4a3a30'>15650</text>
<text transform='translate(1243.2,720.5) rotate(90)' font-size='7.7' fill='#4a3a30'>15700</text>
<text transform='translate(1254.2,720.5) rotate(90)' font-size='7.7' fill='#4a3a30'>15750</text>
<text transform='translate(1265.3,720.5) rotate(90)' font-size='7.7' fill='#4a3a30'>15800</text>
<text transform='translate(1276.3,720.5) rotate(90)' font-size='7.7' fill='#4a3a30'>15850</text>
<text transform='translate(1287.4,720.5) rotate(90)' font-size='7.7' fill='#4a3a30'>15900</text>
<text transform='translate(1298.4,720.5) rotate(90)' font-size='7.7' fill='#4a3a30'>15950</text>
<text transform='translate(1309.5,720.5) rotate(90)' font-size='7.7' fill='#4a3a30'>16000</text>
<text transform='translate(1320.5,720.5) rotate(90)' font-size='7.7' fill='#4a3a30'>16050</text>
<text transform='translate(1331.6,720.5) rotate(90)' font-size='7.7' fill='#4a3a30'>16100</text>
<text transform='translate(1342.6,720.5) rotate(90)' font-size='7.7' fill='#4a3a30'>16150</text>
<g clip-path='url(#coip)' opacity='.93'>
<rect x='1021.85' y='704.77' width='7.40' height='9.73' fill='#ff0000' />
<rect x='1043.95' y='700.42' width='7.40' height='14.08' fill='#ff0000' />
<rect x='1066.05' y='703.67' width='7.40' height='10.83' fill='#ff0000' />
<rect x='1088.15' y='696.03' width='7.40' height='18.47' fill='#ff0000' />
<rect x='1099.20' y='707.18' width='7.40' height='7.32' fill='#ff0000' />
<rect x='1110.25' y='701.77' width='7.40' height='12.73' fill='#ff0000' />
<rect x='1121.30' y='705.04' width='7.40' height='9.46' fill='#ff0000' />
<rect x='1132.35' y='696.96' width='7.40' height='17.54' fill='#ff0000' />
<rect x='1143.40' y='703.87' width='7.40' height='10.63' fill='#ff0000' />
<rect x='1154.45' y='683.28' width='7.40' height='31.22' fill='#ff0000' />
<rect x='1165.50' y='702.63' width='7.40' height='11.87' fill='#ff0000' />
<rect x='1176.55' y='696.47' width='7.40' height='18.03' fill='#ff0000' />
<rect x='1187.60' y='694.72' width='7.40' height='19.78' fill='#ff0000' />
<rect x='1198.65' y='683.32' width='7.40' height='31.18' fill='#ff0000' />
<rect x='1209.70' y='688.91' width='7.40' height='25.59' fill='#ff0000' />
<rect x='1220.75' y='683.27' width='7.40' height='31.23' fill='#ff0000' />
<rect x='1231.80' y='683.60' width='7.40' height='30.90' fill='#ff0000' />
<rect x='1242.85' y='655.39' width='7.40' height='59.11' fill='#ff0000' />
<rect x='1253.90' y='658.09' width='7.40' height='56.41' fill='#ff0000' />
<rect x='1264.95' y='671.15' width='7.40' height='43.35' fill='#ff0000' />
<rect x='1276.00' y='701.40' width='7.40' height='13.10' fill='#ff0000' />
<rect x='1287.05' y='706.87' width='7.40' height='7.63' fill='#ff0000' />
<rect x='1298.10' y='712.50' width='7.40' height='2.00' fill='#ff0000' />
<rect x='1309.15' y='712.32' width='7.40' height='2.18' fill='#ff0000' />
<rect x='1320.20' y='713.73' width='7.40' height='0.77' fill='#ff0000' />
</g>
<text x='1004.6' y='683.3' font-size='4.4' fill='#777' text-anchor='end' >10000</text>
<text x='1004.6' y='699.7' font-size='4.4' fill='#777' text-anchor='end' >5000</text>
<text x='1004.6' y='716.1' font-size='4.4' fill='#777' text-anchor='end' >0</text>
<text x='1004.6' y='732.5' font-size='4.4' fill='#e0303a' text-anchor='end' >(5000)</text>
<text x='1004.6' y='748.9' font-size='4.4' fill='#e0303a' text-anchor='end' >(10000)</text>
<text x='1004.6' y='765.3' font-size='4.4' fill='#e0303a' text-anchor='end' >(15000)</text>
<text x='1173.6' y='674.6' font-size='6.4' fill='#595959' text-anchor='middle' >OI</text>
<rect x='1161.80' y='751.80' width='5.80' height='5.80' fill='#f00000' />
<text x='1169.0' y='757.6' font-size='9' fill='#4a3a30' text-anchor='start' >OI_P</text>
<rect x='1026.00' y='270.50' width='343.50' height='179.50' fill='#000' opacity='.10'/>
<rect x='1024.60' y='269.00' width='343.40' height='179.40' fill='#fff' />
<rect x='1075.10' y='270.60' width='292.30' height='171.00' fill='#fac56b' />
<path d='M1075.1 276.6H1367.4' stroke='#1c1a16' stroke-width='1.1'/>
<text x='1062.0' y='280.5' font-size='11.6' fill='#595959' text-anchor='end' >100</text>
<path d='M1075.1 297.1H1367.4' stroke='#1c1a16' stroke-width='1.1'/>
<text x='1062.0' y='301.0' font-size='11.6' fill='#595959' text-anchor='end' >75</text>
<path d='M1075.1 317.7H1367.4' stroke='#1c1a16' stroke-width='1.1'/>
<text x='1062.0' y='321.6' font-size='11.6' fill='#595959' text-anchor='end' >50</text>
<path d='M1075.1 338.2H1367.4' stroke='#1c1a16' stroke-width='1.1'/>
<text x='1062.0' y='342.1' font-size='11.6' fill='#595959' text-anchor='end' >25</text>
<path d='M1075.1 358.8H1367.4' stroke='#1c1a16' stroke-width='1.1'/>
<text x='1062.0' y='362.7' font-size='11.6' fill='#595959' text-anchor='end' >0</text>
<path d='M1075.1 379.4H1367.4' stroke='#1c1a16' stroke-width='1.1'/>
<text x='1062.0' y='383.2' font-size='11.6' fill='#c8242b' text-anchor='end' >(25)</text>
<path d='M1075.1 399.9H1367.4' stroke='#1c1a16' stroke-width='1.1'/>
<text x='1062.0' y='403.8' font-size='11.6' fill='#c8242b' text-anchor='end' >(50)</text>
<path d='M1075.1 420.5H1367.4' stroke='#1c1a16' stroke-width='1.1'/>
<text x='1062.0' y='424.4' font-size='11.6' fill='#c8242b' text-anchor='end' >(75)</text>
<path d='M1075.1 441.0H1367.4' stroke='#1c1a16' stroke-width='1.1'/>
<text x='1062.0' y='444.9' font-size='11.6' fill='#c8242b' text-anchor='end' >(100)</text>
<rect x='1127.80' y='306.19' width='42.90' height='52.61' fill='#ff00ff' />
<rect x='1199.30' y='283.18' width='43.70' height='75.62' fill='#ff00ff' />
<rect x='1271.70' y='358.80' width='43.60' height='14.80' fill='#66ff66' />
<text x='1196.0' y='279.6' font-size='5.8' fill='#444' text-anchor='middle' >W_C-P</text>
<text x='1149.2' y='300.6' font-size='11.8' fill='#595959' text-anchor='middle' >64</text>
<text x='1221.2' y='282.8' font-size='11.8' fill='#595959' text-anchor='middle' >92</text>
<text x='1293.5' y='389.8' font-size='11.8' fill='#e2340e' text-anchor='middle' >(18)</text>
<path d='M0 151.45H1502' stroke='#8e8e8e' stroke-width='1'/>
<path d='M245.5 78V798' stroke='#8a8a8a' stroke-width='1'/>
</svg>
<div class="c ss" style="left:1306.5px;top:765.5px;font-size:15.4px;line-height:20px;color:rgba(130,130,130,.5);font-weight:300;letter-spacing:.2px">啟用 Windows</div>
<div class="c ss" style="left:1305.5px;top:784.5px;font-size:12px;line-height:16px;color:rgba(130,130,130,.5);font-weight:300;letter-spacing:.15px">移至 [設定] 以啟用 Windows。</div>
</div>
<div class="abs" style="left:0;top:0;width:1502px;height:78px;background:#fff"></div>
<div style="position:absolute;left:0;top:0;width:1502px;height:13px;background:#fff"></div>
<svg style="position:absolute;left:0;top:0" width="133" height="14" viewBox="0 0 133 14"><path d="M12.3 0v2.2 M22.4 0v2.2" stroke="#8a3030" stroke-width="1.1" fill="none"/><path d="M0.6 0v4" stroke="#b99" stroke-width="1" fill="none"/><path d="M35.5 0 q4 3.2 9 0.4" stroke="#3d6da8" stroke-width="1.7" fill="none"/><path d="M51 0 l2.6 2.4 l2.6 -2.4z" fill="#666"/><path d="M69 0 q2.5 2.8 6 0.6" stroke="#b5b5b5" stroke-width="1.6" fill="none"/><path d="M83.6 0 l2.2 1.9 l2.2 -1.9z" fill="#b0b0b0"/><path d="M97 0 v2 h2" stroke="#777" stroke-width="1.2" fill="none"/><path d="M110 0 l2.4 2.2 l2.4 -2.2z" fill="#555"/><path d="M126.4 0.8 h4.6" stroke="#555" stroke-width="1.1"/><path d="M126.4 2.6 l2.3 2.2 l2.3 -2.2z" fill="#555"/></svg>
<div style="position:absolute;left:133.2px;top:0;width:1292.5px;height:13px;background:#e7130f;overflow:hidden"><div style="position:absolute;left:0;width:1255px;top:-3.4px;text-align:center;color:#fff;font:9.8px/14px 'Liberation Sans','Noto Sans CJK TC',sans-serif;white-space:pre">_A選擇權每日A值統計_NEW20230130 -  Excel (產品啟動失敗)</div></div>
<div style="position:absolute;left:1434px;top:-6px;font:bold 11px/14px 'Liberation Sans','Noto Sans CJK TC',sans-serif;color:#666">?</div>
<svg style="position:absolute;left:1452px;top:0" width="50" height="12" viewBox="0 0 50 12"><rect x="4.5" y="-2" width="9" height="7" fill="none" stroke="#666" stroke-width="1"/><path d="M9 4 v-4 M7 1.5 l2 -2 l2 2" stroke="#666" stroke-width="1" fill="none"/><path d="M29 3.5 h8" stroke="#555" stroke-width="1.4"/></svg>
<div class="kt" style="left:11.4px;top:1.9px;width:11.8px;height:13.5px;line-height:13.5px;background:#484848;font-size:11.6px">1</div>
<div class="kt" style="left:39px;top:1.9px;width:12.4px;height:13.8px;line-height:13.8px;background:#484848;font-size:11.6px">2</div>
<div class="kt" style="left:71.3px;top:1.9px;width:12.4px;height:13.8px;line-height:13.8px;background:#b0b0b0;font-size:11.6px">3</div>
<div class="kt" style="left:98.3px;top:1.9px;width:12.6px;height:13.8px;line-height:13.8px;background:#484848;font-size:11.6px">4</div>
<div style="position:absolute;left:0;top:13.5px;width:27px;height:19.5px;background:#217346"></div>
<div class="tab" style="left:-13.5px;width:32px;color:#fff">檔案</div>
<div style="position:absolute;left:30px;top:13.5px;width:41.5px;height:19.5px;background:#cbecd9;border:1px solid #bfe0cd;box-sizing:border-box"></div>
<div class="tab" style="left:30px;width:41.5px;color:#217346">常用</div>
<div class="tab" style="left:64px;width:60px;color:#555">插入</div>
<div class="tab" style="left:117px;width:60px;color:#555">版面配置</div>
<div class="tab" style="left:170px;width:60px;color:#555">公式</div>
<div class="tab" style="left:213px;width:60px;color:#555">資料</div>
<div class="tab" style="left:256.5px;width:60px;color:#555">校閱</div>
<div class="tab" style="left:299.5px;width:60px;color:#555">檢視</div>
<div class="tab" style="left:352.5px;width:60px;color:#555">開發人員</div>
<div class="kt" style="left:-1px;top:28.5px;width:12px;height:13px;line-height:13px;background:#484848;font-size:11.6px">F</div>
<div class="kt" style="left:44px;top:28.5px;width:13px;height:13px;line-height:13px;background:#484848;font-size:11.6px">H</div>
<div class="kt" style="left:88px;top:28.5px;width:12.5px;height:13px;line-height:13px;background:#484848;font-size:11.6px">N</div>
<div class="kt" style="left:140.5px;top:28.5px;width:12.5px;height:13px;line-height:13px;background:#484848;font-size:11.6px">P</div>
<div class="kt" style="left:193px;top:28.5px;width:14px;height:13px;line-height:13px;background:#484848;font-size:11.6px">M</div>
<div class="kt" style="left:237px;top:28.5px;width:12.5px;height:13px;line-height:13px;background:#484848;font-size:11.6px">A</div>
<div class="kt" style="left:278.7px;top:28.5px;width:13.5px;height:13px;line-height:13px;background:#484848;font-size:11.6px">R</div>
<div class="kt" style="left:321px;top:28.5px;width:16px;height:13px;line-height:13px;background:#484848;font-size:11.6px">W</div>
<div class="kt" style="left:375.7px;top:28.5px;width:12.5px;height:13px;line-height:13px;background:#484848;font-size:11.6px">L</div>
<div style="position:absolute;left:-2px;top:48.6px;width:67px;height:22.2px;border:1px solid #d0d0d0;box-sizing:border-box;background:#fff"></div>
<div style="position:absolute;left:-11.6px;top:51.5px;font:12.6px/16px 'Liberation Serif','Noto Serif CJK SC','Noto Sans CJK TC',serif;color:#444">A1</div>
<svg style="position:absolute;left:54px;top:54px" width="10" height="8"><path d="M1.5 2 h6 l-3 3.5z" fill="#666"/></svg>
<svg style="position:absolute;left:76px;top:52px" width="5" height="14"><circle cx="2.4" cy="3.5" r="0.8" fill="#999"/><circle cx="2.4" cy="6.8" r="0.8" fill="#999"/><circle cx="2.4" cy="10.1" r="0.8" fill="#999"/></svg>
<div style="position:absolute;left:91px;top:48.6px;width:89px;height:22.2px;border:1px solid #d8d8d8;box-sizing:border-box;background:#fff"></div>
<svg style="position:absolute;left:91px;top:49px" width="89" height="21" viewBox="0 0 89 21"><path d="M9 4.5 l11 10.5 M20 4.5 l-11 10.5" stroke="#b4b4b4" stroke-width="1.9" fill="none"/><path d="M38 11 l4.5 4.5 l9.5 -11" stroke="#b4b4b4" stroke-width="2.5" fill="none"/></svg>
<div style="position:absolute;left:157px;top:47.5px;font:italic 17.5px/20px 'Liberation Serif','Noto Serif CJK SC','Noto Sans CJK TC',serif;color:#6a6a6a;letter-spacing:-0.3px">f<span style="font-size:13.5px">x</span></div>
<div style="position:absolute;left:183.5px;top:48.6px;width:1325px;height:22.2px;border:1px solid #d8d8d8;box-sizing:border-box;background:#fff"></div>
<div style="position:absolute;left:195.5px;top:51px;font:13.3px/18px 'Liberation Serif','Noto Serif CJK SC','Noto Sans CJK TC',serif;color:#333;white-space:pre;transform:scaleX(.95);transform-origin:left">目錄!A1</div>
</body></html>
